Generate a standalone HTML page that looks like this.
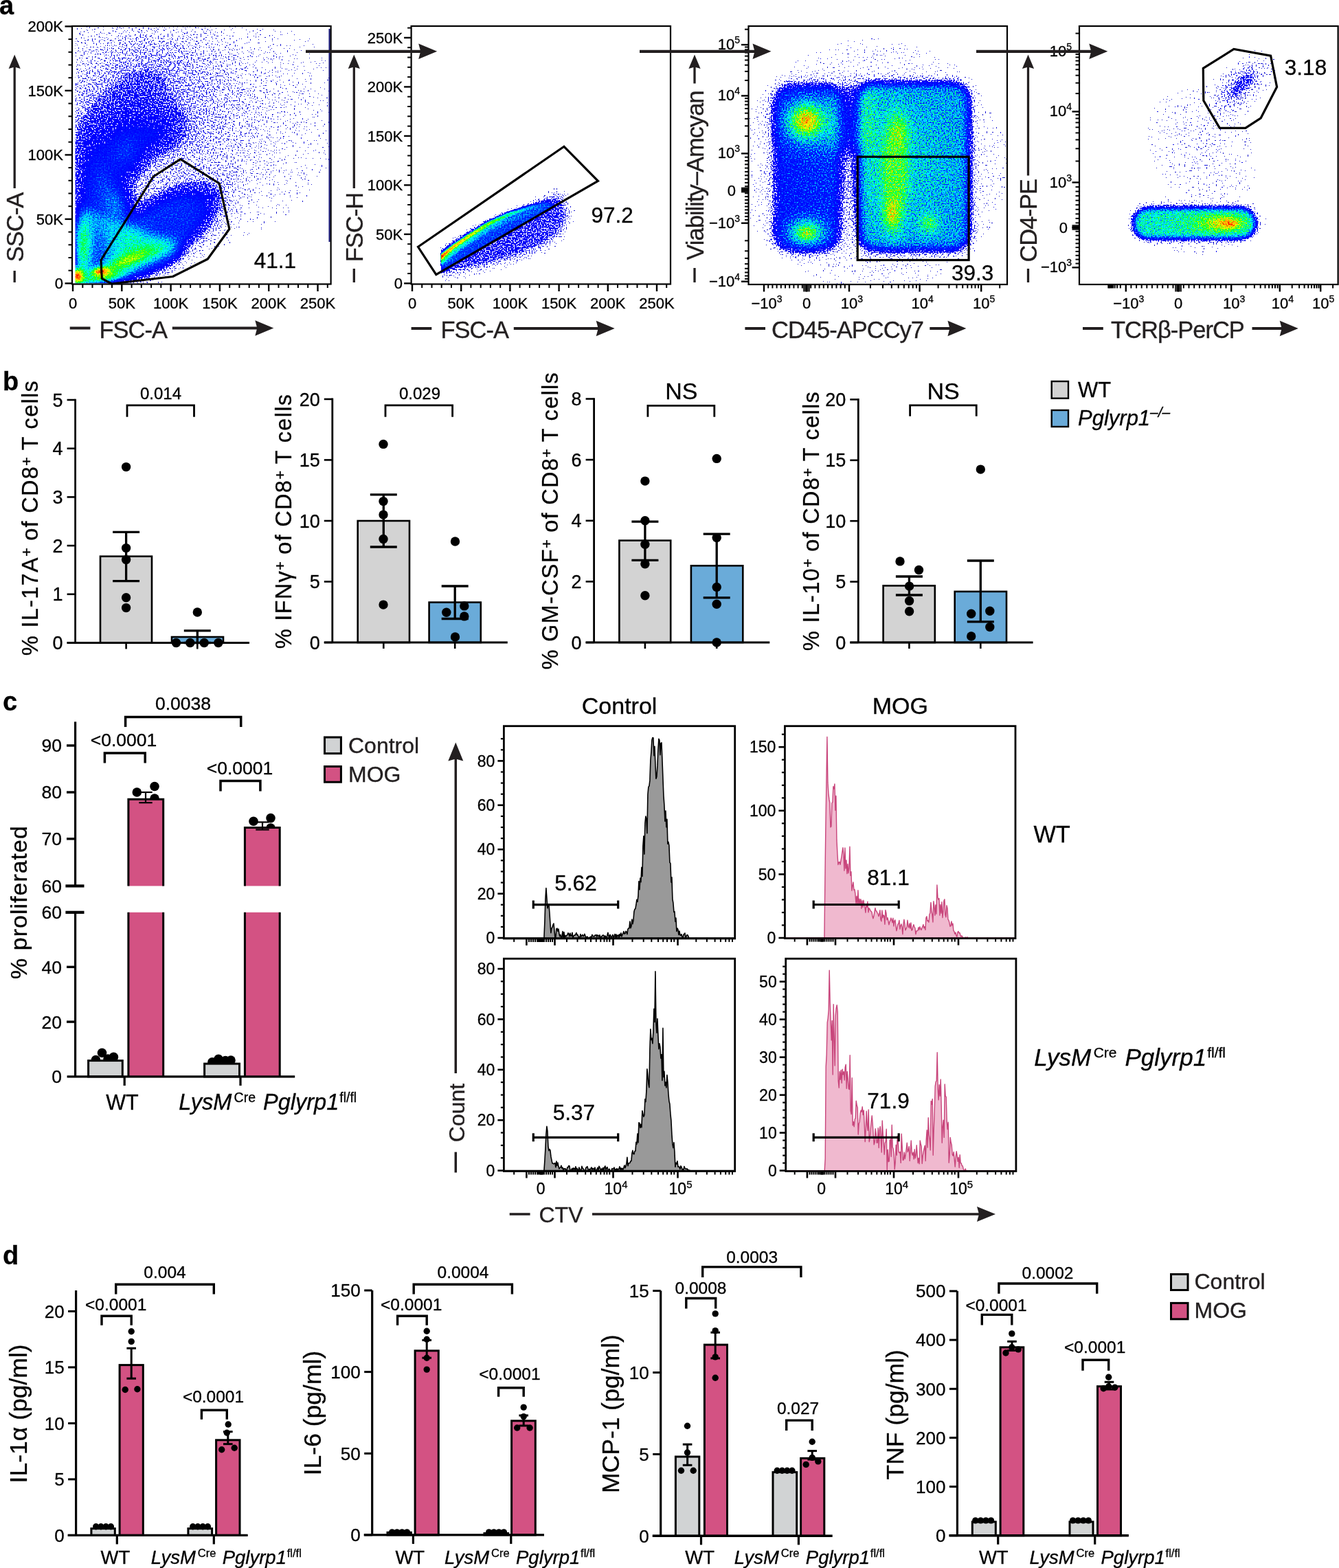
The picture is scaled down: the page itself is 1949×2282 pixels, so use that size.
<!DOCTYPE html>
<html><head><meta charset="utf-8"><title>Figure</title>
<style>
html,body{margin:0;padding:0;background:#fff;}
body{width:1949px;height:2282px;overflow:hidden;}
svg{display:block;font-family:'Liberation Sans', Arial, Helvetica, sans-serif;}
text{stroke:#1a1a1a;stroke-width:0.35px;paint-order:stroke;}
</style></head><body>
<svg width="1949" height="2282" viewBox="0 0 1949 2282">
<defs><radialGradient id="gg"><stop offset="0.00" stop-opacity="1.000"/><stop offset="0.10" stop-opacity="0.956"/><stop offset="0.20" stop-opacity="0.835"/><stop offset="0.30" stop-opacity="0.667"/><stop offset="0.40" stop-opacity="0.487"/><stop offset="0.50" stop-opacity="0.325"/><stop offset="0.60" stop-opacity="0.198"/><stop offset="0.70" stop-opacity="0.110"/><stop offset="0.80" stop-opacity="0.056"/><stop offset="0.90" stop-opacity="0.026"/><stop offset="1.00" stop-opacity="0.000"/></radialGradient>
<radialGradient id="gf"><stop offset="0.00" stop-opacity="1.000"/><stop offset="0.10" stop-opacity="1.000"/><stop offset="0.20" stop-opacity="1.000"/><stop offset="0.30" stop-opacity="1.000"/><stop offset="0.40" stop-opacity="0.912"/><stop offset="0.50" stop-opacity="0.693"/><stop offset="0.60" stop-opacity="0.438"/><stop offset="0.70" stop-opacity="0.230"/><stop offset="0.80" stop-opacity="0.101"/><stop offset="0.90" stop-opacity="0.037"/><stop offset="1.00" stop-opacity="0.000"/></radialGradient>
<filter id="d1" x="109.5" y="39.3" width="370.8" height="372.9" filterUnits="userSpaceOnUse" color-interpolation-filters="sRGB">
<feTurbulence type="fractalNoise" baseFrequency="0.5" numOctaves="1" seed="3" result="tn"/>
<feColorMatrix in="tn" type="matrix" values="0 0 0 0 0  0 0 0 0 0  0 0 0 0 0  1 0 0 0 0" result="nA"/>
<feComponentTransfer in="nA" result="nU"><feFuncA type="linear" slope="2.2" intercept="-0.6"/></feComponentTransfer>
<feComposite in="SourceAlpha" in2="nU" operator="arithmetic" k1="0" k2="3.4" k3="-1" k4="0" result="m0"/>
<feComponentTransfer in="m0" result="mask"><feFuncA type="discrete" tableValues="0 1 1 1 1 1 1 1 1 1 1 1 1 1 1 1 1 1 1 1 1 1 1 1 1 1 1 1 1 1 1 1 1 1 1 1 1 1 1 1"/></feComponentTransfer>
<feColorMatrix in="tn" type="matrix" values="0 0 0 0 0  0 0 0 0 0  0 0 0 0 0  0 1 0 0 0" result="nB"/>
<feComposite in="SourceAlpha" in2="nB" operator="arithmetic" k1="0" k2="1" k3="0.36" k4="-0.18" result="dj"/>
<feColorMatrix in="dj" type="matrix" values="0 0 0 1 0  0 0 0 1 0  0 0 0 1 0  0 0 0 0 1" result="dg"/>
<feComponentTransfer in="dg" result="col">
<feFuncR type="table" tableValues="0.1 0.08 0.05 0.02 0 0 0 0 0 0 0 0 0 0 0.3 0.7 1 1 1 1 1"/>
<feFuncG type="table" tableValues="0.1 0.08 0.05 0.02 0 0 0.03 0.08 0.18 0.42 0.75 1 1 1 1 1 1 0.75 0.5 0.25 0"/>
<feFuncB type="table" tableValues="0.8 0.85 0.9 0.95 1 1 1 1 1 1 1 1 0.6 0.2 0 0 0 0 0 0 0"/>
</feComponentTransfer>
<feComposite in="col" in2="mask" operator="in"/>
</filter>
<clipPath id="cd1"><rect x="109.5" y="39.3" width="370.8" height="372.9"/></clipPath>
<filter id="bl8" x="-50%" y="-50%" width="200%" height="200%"><feGaussianBlur stdDeviation="8"/></filter>
<filter id="d2" x="601" y="39.3" width="373.70000000000005" height="372.9" filterUnits="userSpaceOnUse" color-interpolation-filters="sRGB">
<feTurbulence type="fractalNoise" baseFrequency="0.5" numOctaves="1" seed="5" result="tn"/>
<feColorMatrix in="tn" type="matrix" values="0 0 0 0 0  0 0 0 0 0  0 0 0 0 0  1 0 0 0 0" result="nA"/>
<feComponentTransfer in="nA" result="nU"><feFuncA type="linear" slope="2.2" intercept="-0.6"/></feComponentTransfer>
<feComposite in="SourceAlpha" in2="nU" operator="arithmetic" k1="0" k2="3.4" k3="-1" k4="0" result="m0"/>
<feComponentTransfer in="m0" result="mask"><feFuncA type="discrete" tableValues="0 1 1 1 1 1 1 1 1 1 1 1 1 1 1 1 1 1 1 1 1 1 1 1 1 1 1 1 1 1 1 1 1 1 1 1 1 1 1 1"/></feComponentTransfer>
<feColorMatrix in="tn" type="matrix" values="0 0 0 0 0  0 0 0 0 0  0 0 0 0 0  0 1 0 0 0" result="nB"/>
<feComposite in="SourceAlpha" in2="nB" operator="arithmetic" k1="0" k2="1" k3="0.36" k4="-0.18" result="dj"/>
<feColorMatrix in="dj" type="matrix" values="0 0 0 1 0  0 0 0 1 0  0 0 0 1 0  0 0 0 0 1" result="dg"/>
<feComponentTransfer in="dg" result="col">
<feFuncR type="table" tableValues="0.1 0.08 0.05 0.02 0 0 0 0 0 0 0 0 0 0 0.3 0.7 1 1 1 1 1"/>
<feFuncG type="table" tableValues="0.1 0.08 0.05 0.02 0 0 0.03 0.08 0.18 0.42 0.75 1 1 1 1 1 1 0.75 0.5 0.25 0"/>
<feFuncB type="table" tableValues="0.8 0.85 0.9 0.95 1 1 1 1 1 1 1 1 0.6 0.2 0 0 0 0 0 0 0"/>
</feComponentTransfer>
<feComposite in="col" in2="mask" operator="in"/>
</filter>
<clipPath id="cd2"><rect x="601" y="39.3" width="373.70000000000005" height="372.9"/></clipPath>
<clipPath id="cl2"><rect x="641.5" y="39" width="340" height="380"/></clipPath>
<linearGradient id="rg2" gradientUnits="userSpaceOnUse" x1="642" y1="0" x2="800" y2="0"><stop offset="0" stop-opacity="0.95"/><stop offset="0.05" stop-opacity="0.7"/><stop offset="0.25" stop-opacity="0.58"/><stop offset="0.5" stop-opacity="0.42"/><stop offset="0.75" stop-opacity="0.22"/><stop offset="1" stop-opacity="0"/></linearGradient>
<filter id="bl6" x="-50%" y="-50%" width="200%" height="200%"><feGaussianBlur stdDeviation="6"/></filter>
<filter id="bl1_5" x="-50%" y="-50%" width="200%" height="200%"><feGaussianBlur stdDeviation="1.5"/></filter>
<filter id="bl2_5" x="-50%" y="-50%" width="200%" height="200%"><feGaussianBlur stdDeviation="2.5"/></filter>
<filter id="bl1_2" x="-50%" y="-50%" width="200%" height="200%"><feGaussianBlur stdDeviation="1.2"/></filter>
<filter id="d3" x="1091" y="39.3" width="373.70000000000005" height="373.4" filterUnits="userSpaceOnUse" color-interpolation-filters="sRGB">
<feTurbulence type="fractalNoise" baseFrequency="0.5" numOctaves="1" seed="9" result="tn"/>
<feColorMatrix in="tn" type="matrix" values="0 0 0 0 0  0 0 0 0 0  0 0 0 0 0  1 0 0 0 0" result="nA"/>
<feComponentTransfer in="nA" result="nU"><feFuncA type="linear" slope="2.2" intercept="-0.6"/></feComponentTransfer>
<feComposite in="SourceAlpha" in2="nU" operator="arithmetic" k1="0" k2="3.4" k3="-1" k4="0" result="m0"/>
<feComponentTransfer in="m0" result="mask"><feFuncA type="discrete" tableValues="0 1 1 1 1 1 1 1 1 1 1 1 1 1 1 1 1 1 1 1 1 1 1 1 1 1 1 1 1 1 1 1 1 1 1 1 1 1 1 1"/></feComponentTransfer>
<feColorMatrix in="tn" type="matrix" values="0 0 0 0 0  0 0 0 0 0  0 0 0 0 0  0 1 0 0 0" result="nB"/>
<feComposite in="SourceAlpha" in2="nB" operator="arithmetic" k1="0" k2="1" k3="0.66" k4="-0.33" result="dj"/>
<feColorMatrix in="dj" type="matrix" values="0 0 0 1 0  0 0 0 1 0  0 0 0 1 0  0 0 0 0 1" result="dg"/>
<feComponentTransfer in="dg" result="col">
<feFuncR type="table" tableValues="0.1 0.08 0.05 0.02 0 0 0 0 0 0 0 0 0 0 0.3 0.7 1 1 1 1 1"/>
<feFuncG type="table" tableValues="0.1 0.08 0.05 0.02 0 0 0.03 0.08 0.18 0.42 0.75 1 1 1 1 1 1 0.75 0.5 0.25 0"/>
<feFuncB type="table" tableValues="0.8 0.85 0.9 0.95 1 1 1 1 1 1 1 1 0.6 0.2 0 0 0 0 0 0 0"/>
</feComponentTransfer>
<feComposite in="col" in2="mask" operator="in"/>
</filter>
<clipPath id="cd3"><rect x="1091" y="39.3" width="373.70000000000005" height="373.4"/></clipPath>
<filter id="bl10" x="-50%" y="-50%" width="200%" height="200%"><feGaussianBlur stdDeviation="10"/></filter>
<filter id="bl7" x="-50%" y="-50%" width="200%" height="200%"><feGaussianBlur stdDeviation="7"/></filter>
<filter id="d4" x="1572.5" y="39.3" width="373.79999999999995" height="373.4" filterUnits="userSpaceOnUse" color-interpolation-filters="sRGB">
<feTurbulence type="fractalNoise" baseFrequency="0.5" numOctaves="1" seed="13" result="tn"/>
<feColorMatrix in="tn" type="matrix" values="0 0 0 0 0  0 0 0 0 0  0 0 0 0 0  1 0 0 0 0" result="nA"/>
<feComponentTransfer in="nA" result="nU"><feFuncA type="linear" slope="2.2" intercept="-0.6"/></feComponentTransfer>
<feComposite in="SourceAlpha" in2="nU" operator="arithmetic" k1="0" k2="3.4" k3="-1" k4="0" result="m0"/>
<feComponentTransfer in="m0" result="mask"><feFuncA type="discrete" tableValues="0 1 1 1 1 1 1 1 1 1 1 1 1 1 1 1 1 1 1 1 1 1 1 1 1 1 1 1 1 1 1 1 1 1 1 1 1 1 1 1"/></feComponentTransfer>
<feColorMatrix in="tn" type="matrix" values="0 0 0 0 0  0 0 0 0 0  0 0 0 0 0  0 1 0 0 0" result="nB"/>
<feComposite in="SourceAlpha" in2="nB" operator="arithmetic" k1="0" k2="1" k3="0.6000000000000001" k4="-0.30000000000000004" result="dj"/>
<feColorMatrix in="dj" type="matrix" values="0 0 0 1 0  0 0 0 1 0  0 0 0 1 0  0 0 0 0 1" result="dg"/>
<feComponentTransfer in="dg" result="col">
<feFuncR type="table" tableValues="0.1 0.08 0.05 0.02 0 0 0 0 0 0 0 0 0 0 0.3 0.7 1 1 1 1 1"/>
<feFuncG type="table" tableValues="0.1 0.08 0.05 0.02 0 0 0.03 0.08 0.18 0.42 0.75 1 1 1 1 1 1 0.75 0.5 0.25 0"/>
<feFuncB type="table" tableValues="0.8 0.85 0.9 0.95 1 1 1 1 1 1 1 1 0.6 0.2 0 0 0 0 0 0 0"/>
</feComponentTransfer>
<feComposite in="col" in2="mask" operator="in"/>
</filter>
<clipPath id="cd4"><rect x="1572.5" y="39.3" width="373.79999999999995" height="373.4"/></clipPath>
<filter id="bl4" x="-50%" y="-50%" width="200%" height="200%"><feGaussianBlur stdDeviation="4"/></filter></defs>
<rect width="1949" height="2282" fill="#fff"/>
<!-- panel b -->
<text x="4" y="567.5" font-size="38" text-anchor="start" font-weight="bold">b</text>
<rect x="146" y="809.7" width="75" height="125.8" fill="#d3d3d3" stroke="#000" stroke-width="2.6"/>
<rect x="250" y="927" width="75" height="8.5" fill="#6aabd9" stroke="#000" stroke-width="2.6"/>
<circle cx="183.6" cy="679.6" r="6.7" fill="#000"/>
<circle cx="183.6" cy="797.6" r="6.7" fill="#000"/>
<circle cx="183.6" cy="814.6" r="6.7" fill="#000"/>
<circle cx="183.6" cy="869.7" r="6.7" fill="#000"/>
<circle cx="183.6" cy="884.6" r="6.7" fill="#000"/>
<circle cx="287.3" cy="891" r="6.7" fill="#000"/>
<circle cx="256.5" cy="935.5" r="6.7" fill="#000"/>
<circle cx="276.8" cy="935.5" r="6.7" fill="#000"/>
<circle cx="297.2" cy="935.5" r="6.7" fill="#000"/>
<circle cx="317.8" cy="935.5" r="6.7" fill="#000"/>
<line x1="183.6" y1="845.7" x2="183.6" y2="774.3" stroke="#000" stroke-width="3.3" stroke-linecap="butt"/>
<line x1="164.1" y1="845.7" x2="203.1" y2="845.7" stroke="#000" stroke-width="3.3" stroke-linecap="butt"/>
<line x1="164.1" y1="774.3" x2="203.1" y2="774.3" stroke="#000" stroke-width="3.3" stroke-linecap="butt"/>
<line x1="287.3" y1="935.5" x2="287.3" y2="917.8" stroke="#000" stroke-width="3.3" stroke-linecap="butt"/>
<line x1="267.8" y1="935.5" x2="306.8" y2="935.5" stroke="#000" stroke-width="3.3" stroke-linecap="butt"/>
<line x1="267.8" y1="917.8" x2="306.8" y2="917.8" stroke="#000" stroke-width="3.3" stroke-linecap="butt"/>
<line x1="109.6" y1="580.7" x2="109.6" y2="935.5" stroke="#000" stroke-width="2.8" stroke-linecap="butt"/>
<line x1="97.6" y1="935.5" x2="363" y2="935.5" stroke="#000" stroke-width="2.8" stroke-linecap="butt"/>
<line x1="97.6" y1="935.5" x2="109.6" y2="935.5" stroke="#000" stroke-width="2.6" stroke-linecap="butt"/>
<text x="91.6" y="945.1" font-size="27" text-anchor="end">0</text>
<line x1="97.6" y1="864.8" x2="109.6" y2="864.8" stroke="#000" stroke-width="2.6" stroke-linecap="butt"/>
<text x="91.6" y="874.4" font-size="27" text-anchor="end">1</text>
<line x1="97.6" y1="794.1" x2="109.6" y2="794.1" stroke="#000" stroke-width="2.6" stroke-linecap="butt"/>
<text x="91.6" y="803.7" font-size="27" text-anchor="end">2</text>
<line x1="97.6" y1="723.4" x2="109.6" y2="723.4" stroke="#000" stroke-width="2.6" stroke-linecap="butt"/>
<text x="91.6" y="733" font-size="27" text-anchor="end">3</text>
<line x1="97.6" y1="652.7" x2="109.6" y2="652.7" stroke="#000" stroke-width="2.6" stroke-linecap="butt"/>
<text x="91.6" y="662.3" font-size="27" text-anchor="end">4</text>
<line x1="97.6" y1="582" x2="109.6" y2="582" stroke="#000" stroke-width="2.6" stroke-linecap="butt"/>
<text x="91.6" y="591.6" font-size="27" text-anchor="end">5</text>
<line x1="183.6" y1="935.5" x2="183.6" y2="944.5" stroke="#000" stroke-width="2.6" stroke-linecap="butt"/>
<line x1="287.3" y1="935.5" x2="287.3" y2="944.5" stroke="#000" stroke-width="2.6" stroke-linecap="butt"/>
<path d="M185 606.8V589.8H282.5V606.8" stroke="#000" stroke-width="2.8" fill="none" stroke-linejoin="miter"/>
<text x="234" y="580.5" font-size="24" text-anchor="middle">0.014</text>
<text transform="translate(55,753.5) rotate(-90)" font-size="32.5" letter-spacing="1.3" text-anchor="middle">% IL-17A<tspan dy="-9" font-size="22" letter-spacing="0">+</tspan><tspan dy="9"> of CD8<tspan dy="-9" font-size="22" letter-spacing="0">+</tspan><tspan dy="9"> T cells</tspan></tspan></text>
<rect x="520.7" y="758" width="75.3" height="177" fill="#d3d3d3" stroke="#000" stroke-width="2.6"/>
<rect x="624.6" y="876.6" width="75.2" height="58.4" fill="#6aabd9" stroke="#000" stroke-width="2.6"/>
<circle cx="558" cy="646.4" r="6.7" fill="#000"/>
<circle cx="558" cy="729.6" r="6.7" fill="#000"/>
<circle cx="558" cy="749.1" r="6.7" fill="#000"/>
<circle cx="558" cy="784.5" r="6.7" fill="#000"/>
<circle cx="558" cy="880.1" r="6.7" fill="#000"/>
<circle cx="662.5" cy="788" r="6.7" fill="#000"/>
<circle cx="675.8" cy="881.9" r="6.7" fill="#000"/>
<circle cx="649.8" cy="891.3" r="6.7" fill="#000"/>
<circle cx="675.8" cy="896.9" r="6.7" fill="#000"/>
<circle cx="662.5" cy="927" r="6.7" fill="#000"/>
<line x1="558.3" y1="796" x2="558.3" y2="719.9" stroke="#000" stroke-width="3.3" stroke-linecap="butt"/>
<line x1="538.8" y1="796" x2="577.8" y2="796" stroke="#000" stroke-width="3.3" stroke-linecap="butt"/>
<line x1="538.8" y1="719.9" x2="577.8" y2="719.9" stroke="#000" stroke-width="3.3" stroke-linecap="butt"/>
<line x1="662.2" y1="900.5" x2="662.2" y2="853" stroke="#000" stroke-width="3.3" stroke-linecap="butt"/>
<line x1="642.7" y1="900.5" x2="681.7" y2="900.5" stroke="#000" stroke-width="3.3" stroke-linecap="butt"/>
<line x1="642.7" y1="853" x2="681.7" y2="853" stroke="#000" stroke-width="3.3" stroke-linecap="butt"/>
<line x1="483.8" y1="579.6" x2="483.8" y2="935" stroke="#000" stroke-width="2.8" stroke-linecap="butt"/>
<line x1="471.8" y1="935" x2="738.8" y2="935" stroke="#000" stroke-width="2.8" stroke-linecap="butt"/>
<line x1="471.8" y1="935" x2="483.8" y2="935" stroke="#000" stroke-width="2.6" stroke-linecap="butt"/>
<text x="465.8" y="944.6" font-size="27" text-anchor="end">0</text>
<line x1="471.8" y1="846.5" x2="483.8" y2="846.5" stroke="#000" stroke-width="2.6" stroke-linecap="butt"/>
<text x="465.8" y="856.1" font-size="27" text-anchor="end">5</text>
<line x1="471.8" y1="758" x2="483.8" y2="758" stroke="#000" stroke-width="2.6" stroke-linecap="butt"/>
<text x="465.8" y="767.6" font-size="27" text-anchor="end">10</text>
<line x1="471.8" y1="669.4" x2="483.8" y2="669.4" stroke="#000" stroke-width="2.6" stroke-linecap="butt"/>
<text x="465.8" y="679" font-size="27" text-anchor="end">15</text>
<line x1="471.8" y1="580.9" x2="483.8" y2="580.9" stroke="#000" stroke-width="2.6" stroke-linecap="butt"/>
<text x="465.8" y="590.5" font-size="27" text-anchor="end">20</text>
<line x1="558.3" y1="935" x2="558.3" y2="944" stroke="#000" stroke-width="2.6" stroke-linecap="butt"/>
<line x1="662.2" y1="935" x2="662.2" y2="944" stroke="#000" stroke-width="2.6" stroke-linecap="butt"/>
<path d="M561 606.8V589.8H658.6V606.8" stroke="#000" stroke-width="2.8" fill="none" stroke-linejoin="miter"/>
<text x="611" y="580.5" font-size="24" text-anchor="middle">0.029</text>
<text transform="translate(424,758.5) rotate(-90)" font-size="32.5" letter-spacing="1.3" text-anchor="middle">% IFN&#947;<tspan dy="-9" font-size="22" letter-spacing="0">+</tspan><tspan dy="9"> of CD8<tspan dy="-9" font-size="22" letter-spacing="0">+</tspan><tspan dy="9"> T cells</tspan></tspan></text>
<rect x="901.4" y="786.6" width="74.8" height="148.4" fill="#d3d3d3" stroke="#000" stroke-width="2.6"/>
<rect x="1005.9" y="823.3" width="75.4" height="111.7" fill="#6aabd9" stroke="#000" stroke-width="2.6"/>
<circle cx="938.9" cy="700.1" r="6.7" fill="#000"/>
<circle cx="938.9" cy="757.8" r="6.7" fill="#000"/>
<circle cx="938.9" cy="792.3" r="6.7" fill="#000"/>
<circle cx="938.9" cy="820.7" r="6.7" fill="#000"/>
<circle cx="938.9" cy="866.8" r="6.7" fill="#000"/>
<circle cx="1043.2" cy="667.4" r="6.7" fill="#000"/>
<circle cx="1043.2" cy="782.6" r="6.7" fill="#000"/>
<circle cx="1043.2" cy="854.4" r="6.7" fill="#000"/>
<circle cx="1043.2" cy="879.2" r="6.7" fill="#000"/>
<circle cx="1043.2" cy="935" r="6.7" fill="#000"/>
<line x1="938.9" y1="815.4" x2="938.9" y2="759.1" stroke="#000" stroke-width="3.3" stroke-linecap="butt"/>
<line x1="919.4" y1="815.4" x2="958.4" y2="815.4" stroke="#000" stroke-width="3.3" stroke-linecap="butt"/>
<line x1="919.4" y1="759.1" x2="958.4" y2="759.1" stroke="#000" stroke-width="3.3" stroke-linecap="butt"/>
<line x1="1043.2" y1="869.9" x2="1043.2" y2="777.2" stroke="#000" stroke-width="3.3" stroke-linecap="butt"/>
<line x1="1023.7" y1="869.9" x2="1062.7" y2="869.9" stroke="#000" stroke-width="3.3" stroke-linecap="butt"/>
<line x1="1023.7" y1="777.2" x2="1062.7" y2="777.2" stroke="#000" stroke-width="3.3" stroke-linecap="butt"/>
<line x1="864.6" y1="579.2" x2="864.6" y2="935" stroke="#000" stroke-width="2.8" stroke-linecap="butt"/>
<line x1="852.6" y1="935" x2="1120.3" y2="935" stroke="#000" stroke-width="2.8" stroke-linecap="butt"/>
<line x1="852.6" y1="935" x2="864.6" y2="935" stroke="#000" stroke-width="2.6" stroke-linecap="butt"/>
<text x="846.6" y="944.6" font-size="27" text-anchor="end">0</text>
<line x1="852.6" y1="846.4" x2="864.6" y2="846.4" stroke="#000" stroke-width="2.6" stroke-linecap="butt"/>
<text x="846.6" y="856" font-size="27" text-anchor="end">2</text>
<line x1="852.6" y1="757.8" x2="864.6" y2="757.8" stroke="#000" stroke-width="2.6" stroke-linecap="butt"/>
<text x="846.6" y="767.4" font-size="27" text-anchor="end">4</text>
<line x1="852.6" y1="669.1" x2="864.6" y2="669.1" stroke="#000" stroke-width="2.6" stroke-linecap="butt"/>
<text x="846.6" y="678.7" font-size="27" text-anchor="end">6</text>
<line x1="852.6" y1="580.5" x2="864.6" y2="580.5" stroke="#000" stroke-width="2.6" stroke-linecap="butt"/>
<text x="846.6" y="590.1" font-size="27" text-anchor="end">8</text>
<line x1="938.9" y1="935" x2="938.9" y2="944" stroke="#000" stroke-width="2.6" stroke-linecap="butt"/>
<line x1="1043.2" y1="935" x2="1043.2" y2="944" stroke="#000" stroke-width="2.6" stroke-linecap="butt"/>
<path d="M942.9 606.8V590.4H1039.8V606.8" stroke="#000" stroke-width="2.8" fill="none" stroke-linejoin="miter"/>
<text x="991.8" y="581.4" font-size="34" text-anchor="middle">NS</text>
<text transform="translate(812,757.7) rotate(-90)" font-size="32.5" letter-spacing="1.3" text-anchor="middle">% GM-CSF<tspan dy="-9" font-size="22" letter-spacing="0">+</tspan><tspan dy="9"> of CD8<tspan dy="-9" font-size="22" letter-spacing="0">+</tspan><tspan dy="9"> T cells</tspan></tspan></text>
<rect x="1285.6" y="852.4" width="75.2" height="82.6" fill="#d3d3d3" stroke="#000" stroke-width="2.6"/>
<rect x="1389.7" y="860.9" width="75.3" height="74.1" fill="#6aabd9" stroke="#000" stroke-width="2.6"/>
<circle cx="1310" cy="816.9" r="6.7" fill="#000"/>
<circle cx="1337.5" cy="829.5" r="6.7" fill="#000"/>
<circle cx="1323.6" cy="853.1" r="6.7" fill="#000"/>
<circle cx="1323.6" cy="874.5" r="6.7" fill="#000"/>
<circle cx="1323.6" cy="889.7" r="6.7" fill="#000"/>
<circle cx="1427.3" cy="683.1" r="6.7" fill="#000"/>
<circle cx="1413.7" cy="893.3" r="6.7" fill="#000"/>
<circle cx="1440.8" cy="889.2" r="6.7" fill="#000"/>
<circle cx="1440.8" cy="912.5" r="6.7" fill="#000"/>
<circle cx="1413.7" cy="926" r="6.7" fill="#000"/>
<line x1="1323.4" y1="866" x2="1323.4" y2="839" stroke="#000" stroke-width="3.3" stroke-linecap="butt"/>
<line x1="1303.9" y1="866" x2="1342.9" y2="866" stroke="#000" stroke-width="3.3" stroke-linecap="butt"/>
<line x1="1303.9" y1="839" x2="1342.9" y2="839" stroke="#000" stroke-width="3.3" stroke-linecap="butt"/>
<line x1="1427.3" y1="904.9" x2="1427.3" y2="816" stroke="#000" stroke-width="3.3" stroke-linecap="butt"/>
<line x1="1407.8" y1="904.9" x2="1446.8" y2="904.9" stroke="#000" stroke-width="3.3" stroke-linecap="butt"/>
<line x1="1407.8" y1="816" x2="1446.8" y2="816" stroke="#000" stroke-width="3.3" stroke-linecap="butt"/>
<line x1="1249.3" y1="580.1" x2="1249.3" y2="935" stroke="#000" stroke-width="2.8" stroke-linecap="butt"/>
<line x1="1237.3" y1="935" x2="1503.6" y2="935" stroke="#000" stroke-width="2.8" stroke-linecap="butt"/>
<line x1="1237.3" y1="935" x2="1249.3" y2="935" stroke="#000" stroke-width="2.6" stroke-linecap="butt"/>
<text x="1231.3" y="944.6" font-size="27" text-anchor="end">0</text>
<line x1="1237.3" y1="846.6" x2="1249.3" y2="846.6" stroke="#000" stroke-width="2.6" stroke-linecap="butt"/>
<text x="1231.3" y="856.2" font-size="27" text-anchor="end">5</text>
<line x1="1237.3" y1="758.2" x2="1249.3" y2="758.2" stroke="#000" stroke-width="2.6" stroke-linecap="butt"/>
<text x="1231.3" y="767.8" font-size="27" text-anchor="end">10</text>
<line x1="1237.3" y1="669.8" x2="1249.3" y2="669.8" stroke="#000" stroke-width="2.6" stroke-linecap="butt"/>
<text x="1231.3" y="679.4" font-size="27" text-anchor="end">15</text>
<line x1="1237.3" y1="581.4" x2="1249.3" y2="581.4" stroke="#000" stroke-width="2.6" stroke-linecap="butt"/>
<text x="1231.3" y="591" font-size="27" text-anchor="end">20</text>
<line x1="1323.4" y1="935" x2="1323.4" y2="944" stroke="#000" stroke-width="2.6" stroke-linecap="butt"/>
<line x1="1427.3" y1="935" x2="1427.3" y2="944" stroke="#000" stroke-width="2.6" stroke-linecap="butt"/>
<path d="M1324.6 605.8V589.8H1421.2V605.8" stroke="#000" stroke-width="2.8" fill="none" stroke-linejoin="miter"/>
<text x="1373" y="580.7" font-size="34" text-anchor="middle">NS</text>
<text transform="translate(1192,758) rotate(-90)" font-size="32.5" letter-spacing="1.3" text-anchor="middle">% IL-10<tspan dy="-9" font-size="22" letter-spacing="0">+</tspan><tspan dy="9"> of CD8<tspan dy="-9" font-size="22" letter-spacing="0">+</tspan><tspan dy="9"> T cells</tspan></tspan></text>
<rect x="1530.7" y="555" width="24.3" height="24.7" fill="#d3d3d3" stroke="#000" stroke-width="2.4"/>
<rect x="1530.7" y="597" width="24.3" height="24" fill="#6aabd9" stroke="#000" stroke-width="2.4"/>
<text x="1569" y="578" font-size="31" text-anchor="start">WT</text>
<text x="1569" y="618.6" font-size="31" text-anchor="start" font-style="italic">Pglyrp1<tspan dy="-12" font-size="21">&#8211;/&#8211;</tspan></text>
<!-- panel c -->
<text x="4" y="1034" font-size="38" text-anchor="start" font-weight="bold">c</text>
<circle cx="148.5" cy="1532.3" r="6.8" fill="#000"/>
<circle cx="165.4" cy="1538.4" r="6.8" fill="#000"/>
<circle cx="139.4" cy="1542.5" r="6.8" fill="#000"/>
<circle cx="157" cy="1541" r="6.8" fill="#000"/>
<circle cx="318" cy="1541.4" r="6.8" fill="#000"/>
<circle cx="328.1" cy="1543.6" r="6.8" fill="#000"/>
<circle cx="336" cy="1543" r="6.8" fill="#000"/>
<circle cx="308.9" cy="1545.9" r="6.8" fill="#000"/>
<circle cx="199.3" cy="1153" r="6.8" fill="#000"/>
<circle cx="225" cy="1144.5" r="6.8" fill="#000"/>
<circle cx="225" cy="1162" r="6.8" fill="#000"/>
<circle cx="369" cy="1195.3" r="6.8" fill="#000"/>
<circle cx="394" cy="1190.6" r="6.8" fill="#000"/>
<circle cx="394" cy="1205" r="6.8" fill="#000"/>
<rect x="128.6" y="1543.6" width="49.7" height="23.3" fill="#d1d3d4" stroke="#000" stroke-width="3"/>
<rect x="297.6" y="1548.1" width="50.9" height="18.8" fill="#d1d3d4" stroke="#000" stroke-width="3"/>
<rect x="186.9" y="1163.2" width="50.8" height="126.2" fill="#d35283"/>
<rect x="186.9" y="1327.8" width="50.8" height="239.1" fill="#d35283"/>
<path d="M186.9 1289.4V1163.2H237.7V1289.4" stroke="#000" stroke-width="3" fill="none" stroke-linejoin="miter"/>
<path d="M186.9 1327.8V1566.9M237.7 1327.8V1566.9" stroke="#000" stroke-width="3" fill="none" stroke-linejoin="miter"/>
<rect x="356.4" y="1204.4" width="50.8" height="85" fill="#d35283"/>
<rect x="356.4" y="1327.8" width="50.8" height="239.1" fill="#d35283"/>
<path d="M356.4 1289.4V1204.4H407.2V1289.4" stroke="#000" stroke-width="3" fill="none" stroke-linejoin="miter"/>
<path d="M356.4 1327.8V1566.9M407.2 1327.8V1566.9" stroke="#000" stroke-width="3" fill="none" stroke-linejoin="miter"/>
<line x1="212" y1="1168.2" x2="212" y2="1153" stroke="#000" stroke-width="2.2" stroke-linecap="butt"/>
<line x1="202.3" y1="1168.2" x2="221.7" y2="1168.2" stroke="#000" stroke-width="2.2" stroke-linecap="butt"/>
<line x1="202.3" y1="1153" x2="221.7" y2="1153" stroke="#000" stroke-width="2.2" stroke-linecap="butt"/>
<line x1="382" y1="1207.5" x2="382" y2="1196.5" stroke="#000" stroke-width="2.2" stroke-linecap="butt"/>
<line x1="372.3" y1="1207.5" x2="391.7" y2="1207.5" stroke="#000" stroke-width="2.2" stroke-linecap="butt"/>
<line x1="372.3" y1="1196.5" x2="391.7" y2="1196.5" stroke="#000" stroke-width="2.2" stroke-linecap="butt"/>
<line x1="109.6" y1="1050.4" x2="109.6" y2="1289.4" stroke="#000" stroke-width="3.2" stroke-linecap="butt"/>
<line x1="109.6" y1="1327.8" x2="109.6" y2="1566.9" stroke="#000" stroke-width="3.2" stroke-linecap="butt"/>
<line x1="97.6" y1="1566.9" x2="429.2" y2="1566.9" stroke="#000" stroke-width="3.4" stroke-linecap="butt"/>
<line x1="95.4" y1="1289.4" x2="122.5" y2="1289.4" stroke="#000" stroke-width="4.2" stroke-linecap="butt"/>
<line x1="95.4" y1="1327.8" x2="122.5" y2="1327.8" stroke="#000" stroke-width="4.2" stroke-linecap="butt"/>
<line x1="97" y1="1085" x2="109.6" y2="1085" stroke="#000" stroke-width="3.4" stroke-linecap="butt"/>
<line x1="97" y1="1153" x2="109.6" y2="1153" stroke="#000" stroke-width="3.4" stroke-linecap="butt"/>
<line x1="97" y1="1220.8" x2="109.6" y2="1220.8" stroke="#000" stroke-width="3.4" stroke-linecap="butt"/>
<line x1="97" y1="1407.3" x2="109.6" y2="1407.3" stroke="#000" stroke-width="3.4" stroke-linecap="butt"/>
<line x1="97" y1="1487.1" x2="109.6" y2="1487.1" stroke="#000" stroke-width="3.4" stroke-linecap="butt"/>
<text x="90" y="1094.4" font-size="26.5" text-anchor="end">90</text>
<text x="90" y="1162.4" font-size="26.5" text-anchor="end">80</text>
<text x="90" y="1230.2" font-size="26.5" text-anchor="end">70</text>
<text x="90" y="1298.8" font-size="26.5" text-anchor="end">60</text>
<text x="90" y="1337.2" font-size="26.5" text-anchor="end">60</text>
<text x="90" y="1416.7" font-size="26.5" text-anchor="end">40</text>
<text x="90" y="1496.5" font-size="26.5" text-anchor="end">20</text>
<text x="90" y="1576.3" font-size="26.5" text-anchor="end">0</text>
<line x1="181.2" y1="1566.9" x2="181.2" y2="1580" stroke="#000" stroke-width="3.2" stroke-linecap="butt"/>
<line x1="350" y1="1566.9" x2="350" y2="1580" stroke="#000" stroke-width="3.2" stroke-linecap="butt"/>
<path d="M182.6 1058V1043.5H350.7V1058" stroke="#000" stroke-width="3.5" fill="none" stroke-linejoin="miter"/>
<text x="266.5" y="1032.7" font-size="26.5" text-anchor="middle">0.0038</text>
<path d="M152.4 1110.6V1096H211.2V1110.6" stroke="#000" stroke-width="3.5" fill="none" stroke-linejoin="miter"/>
<text x="180" y="1085.8" font-size="26.5" text-anchor="middle">&lt;0.0001</text>
<path d="M321 1151.6V1136.4H378.9V1151.6" stroke="#000" stroke-width="3.5" fill="none" stroke-linejoin="miter"/>
<text x="349" y="1126.7" font-size="26.5" text-anchor="middle">&lt;0.0001</text>
<text transform="translate(39,1313) rotate(-90)" font-size="34" letter-spacing="1" text-anchor="middle">% proliferated</text>
<text x="178" y="1615.3" font-size="30.6" text-anchor="middle">WT</text>
<text x="260.3" y="1615.3" font-size="32.5" text-anchor="start"><tspan font-style="italic">LysM</tspan><tspan dx="3.2" dy="-11.7" font-size="19.5">Cre</tspan><tspan dy="11.7" dx="11.1" font-style="italic">Pglyrp1</tspan><tspan dy="-11.7" dx="1" font-size="19.5">fl/fl</tspan></text>
<rect x="472.5" y="1073" width="23.9" height="23.6" fill="#d1d3d4" stroke="#000" stroke-width="3"/>
<rect x="472.5" y="1115.5" width="23.9" height="22.7" fill="#d35283" stroke="#000" stroke-width="3"/>
<text x="507" y="1096" font-size="32" text-anchor="start" fill="#231f20">Control</text>
<text x="507" y="1137.5" font-size="32" text-anchor="start" fill="#231f20">MOG</text>
<text x="901.6" y="1039" font-size="34" text-anchor="middle">Control</text>
<text x="1310.3" y="1039" font-size="34" text-anchor="middle">MOG</text>
<text x="1504.4" y="1226.3" font-size="34.4" text-anchor="start">WT</text>
<text x="1505.2" y="1551.4" font-size="35" text-anchor="start"><tspan font-style="italic">LysM</tspan><tspan dx="3.5" dy="-12.6" font-size="21.0">Cre</tspan><tspan dy="12.6" dx="11.9" font-style="italic">Pglyrp1</tspan><tspan dy="-12.6" dx="1.1" font-size="21.0">fl/fl</tspan></text>
<line x1="663.3" y1="1095" x2="663.3" y2="1562" stroke="#231f20" stroke-width="3.5" stroke-linecap="butt"/>
<line x1="663.3" y1="1676.6" x2="663.3" y2="1706.5" stroke="#231f20" stroke-width="3.5" stroke-linecap="butt"/>
<path d="M663.3 1080.6L652.3 1107.6L663.3 1104.6L674.3 1107.6Z" fill="#231f20"/>
<text transform="translate(675.5,1619.5) rotate(-90)" font-size="32" text-anchor="middle" fill="#231f20">Count</text>
<line x1="741.7" y1="1767" x2="771.6" y2="1767" stroke="#231f20" stroke-width="3.5" stroke-linecap="butt"/>
<text x="816.5" y="1778.5" font-size="32" text-anchor="middle" fill="#231f20">CTV</text>
<line x1="862" y1="1767" x2="1425" y2="1767" stroke="#231f20" stroke-width="3.5" stroke-linecap="butt"/>
<path d="M1449 1767L1422 1756L1425 1767L1422 1778Z" fill="#231f20"/>
<path d="M734.9 1365L734.9 1365L735.9 1365L736.9 1365L737.9 1365L738.9 1365L739.9 1365L740.9 1365L741.9 1365L742.9 1365L743.9 1365L744.9 1365L745.9 1365L746.9 1365L747.9 1365L748.9 1365L749.9 1365L750.9 1365L751.9 1365L752.9 1365L753.9 1365L754.9 1365L755.9 1365L756.9 1365L757.9 1365L758.9 1365L759.9 1365L760.9 1365L761.9 1365L762.9 1365L763.9 1365L764.9 1365L765.9 1365L766.9 1365L767.9 1365L768.9 1365L769.9 1365L770.9 1365L771.9 1365L772.9 1365L773.9 1365L774.9 1365L775.9 1365L776.9 1365L777.9 1365L778.9 1365L779.9 1365L780.9 1365L781.9 1365L782.9 1365L783.9 1365L784.9 1365L785.9 1365L786.9 1365L787.9 1365L788.9 1365L789.9 1365L790.9 1365L791.9 1365L792.9 1341.2L793.9 1308.6L794.9 1292.5L795.9 1306.9L796.9 1321.8L797.9 1316.2L798.9 1316.2L799.9 1328.2L800.9 1343.7L801.9 1357.7L802.9 1351L803.9 1349.6L804.9 1346.2L805.9 1344L806.9 1353.5L807.9 1364.7L808.9 1363.6L809.9 1351.8L810.9 1351L811.9 1355.2L812.9 1352L813.9 1358.7L814.9 1362.7L815.9 1360.4L816.9 1365L817.9 1363.4L818.9 1355.6L819.9 1365L820.9 1356.5L821.9 1365L822.9 1361.4L823.9 1362.8L824.9 1361.4L825.9 1360.5L826.9 1357.8L827.9 1359.3L828.9 1362.7L829.9 1358.1L830.9 1362.3L831.9 1362.3L832.9 1357.2L833.9 1365L834.9 1362.2L835.9 1361L836.9 1361.2L837.9 1359.8L838.9 1357.6L839.9 1360.8L840.9 1360.3L841.9 1363.3L842.9 1363.8L843.9 1364.3L844.9 1359.6L845.9 1363L846.9 1361.9L847.9 1360.3L848.9 1362.4L849.9 1362.2L850.9 1359.2L851.9 1361.8L852.9 1363.8L853.9 1363.9L854.9 1363.1L855.9 1365L856.9 1364.6L857.9 1365L858.9 1363.8L859.9 1363.3L860.9 1364.2L861.9 1360.3L862.9 1362.2L863.9 1362.8L864.9 1362.9L865.9 1361L866.9 1361.5L867.9 1360.4L868.9 1363.2L869.9 1360.8L870.9 1361.7L871.9 1363.4L872.9 1360.7L873.9 1363.9L874.9 1363.7L875.9 1362.6L876.9 1361.7L877.9 1360.8L878.9 1361.7L879.9 1364.1L880.9 1361.9L881.9 1363.9L882.9 1364.2L883.9 1361.3L884.9 1357.3L885.9 1362.1L886.9 1365L887.9 1360.2L888.9 1362.4L889.9 1365L890.9 1362.7L891.9 1360.4L892.9 1363.7L893.9 1363.1L894.9 1359.5L895.9 1364L896.9 1359.9L897.9 1363.8L898.9 1361.3L899.9 1360.6L900.9 1365L901.9 1359.5L902.9 1362.2L903.9 1357.9L904.9 1362.9L905.9 1360.2L906.9 1358.5L907.9 1355.6L908.9 1359.1L909.9 1358.8L910.9 1355.2L911.9 1356.2L912.9 1359.6L913.9 1352.2L914.9 1350.9L915.9 1350.9L916.9 1341.1L917.9 1350.6L918.9 1347.9L919.9 1338.1L920.9 1344.7L921.9 1339.6L922.9 1326.7L923.9 1323.3L924.9 1322.4L925.9 1316.5L926.9 1309.2L927.9 1312.5L928.9 1304.2L929.9 1282.5L930.9 1294.6L931.9 1278.1L932.9 1283.7L933.9 1262.3L934.9 1275.5L935.9 1231.1L936.9 1216.8L937.9 1243.1L938.9 1197.9L939.9 1188L940.9 1192.2L941.9 1212.7L942.9 1156.2L943.9 1145.3L944.9 1144.1L945.9 1135.9L946.9 1106.2L947.9 1094.5L948.9 1077L949.9 1073.6L950.9 1073.7L951.9 1099.8L952.9 1086.2L953.9 1111.2L954.9 1133.2L955.9 1130.3L956.9 1114.9L957.9 1091.2L958.9 1075.2L959.9 1077.3L960.9 1098.8L961.9 1081.6L962.9 1080.8L963.9 1105L964.9 1131.8L965.9 1157.7L966.9 1171.7L967.9 1195.2L968.9 1180.1L969.9 1203.7L970.9 1192.2L971.9 1228.2L972.9 1225.3L973.9 1230.3L974.9 1255.1L975.9 1256.5L976.9 1284L977.9 1276.8L978.9 1308.7L979.9 1314.2L980.9 1327.4L981.9 1326.7L982.9 1341.3L983.9 1336.1L984.9 1355.4L985.9 1351L986.9 1352.8L987.9 1360.5L988.9 1355L989.9 1360.7L990.9 1361.3L991.9 1359.7L992.9 1363.5L993.9 1365L994.9 1360.1L995.9 1359.3L996.9 1358L997.9 1365L998.9 1362.7L999.9 1360.6L1000.9 1360.7L1001.9 1362.9L1002.9 1365L1003.9 1365L1004.9 1365L1005.9 1365L1006.9 1365L1007.9 1365L1008.9 1365L1009.9 1365L1010.9 1365L1011.9 1365L1012.9 1365L1013.9 1365L1014.9 1365L1015.9 1365L1016.9 1365L1017.9 1365L1018.9 1365L1019.9 1365L1020.9 1365L1021.9 1365L1022.9 1365L1023.9 1365L1024.9 1365L1025.9 1365L1026.9 1365L1027.9 1365L1028.9 1365L1029.9 1365L1030.9 1365L1031.9 1365L1032.9 1365L1033.9 1365L1034.9 1365L1035.9 1365L1036.9 1365L1037.9 1365L1038.9 1365L1039.9 1365L1040.9 1365L1041.9 1365L1042.9 1365L1043.9 1365L1044.9 1365L1045.9 1365L1046.9 1365L1047.9 1365L1048.9 1365L1049.9 1365L1050.9 1365L1051.9 1365L1052.9 1365L1053.9 1365L1054.9 1365L1055.9 1365L1056.9 1365L1057.9 1365L1058.9 1365L1059.9 1365L1060.9 1365L1061.9 1365L1062.9 1365L1063.9 1365L1064.9 1365L1065.9 1365L1066.9 1365L1067.9 1365L1067.9 1365Z" fill="#999999" stroke="#000" stroke-width="1.6" stroke-linejoin="round"/>
<rect x="733.4" y="1056.7" width="336.3" height="309.2" fill="none" stroke="#000" stroke-width="2.8"/>
<line x1="728.9" y1="1348.9" x2="733.4" y2="1348.9" stroke="#000" stroke-width="2.2" stroke-linecap="butt"/>
<line x1="728.9" y1="1332.8" x2="733.4" y2="1332.8" stroke="#000" stroke-width="2.2" stroke-linecap="butt"/>
<line x1="728.9" y1="1316.7" x2="733.4" y2="1316.7" stroke="#000" stroke-width="2.2" stroke-linecap="butt"/>
<line x1="728.9" y1="1284.5" x2="733.4" y2="1284.5" stroke="#000" stroke-width="2.2" stroke-linecap="butt"/>
<line x1="728.9" y1="1268.4" x2="733.4" y2="1268.4" stroke="#000" stroke-width="2.2" stroke-linecap="butt"/>
<line x1="728.9" y1="1252.3" x2="733.4" y2="1252.3" stroke="#000" stroke-width="2.2" stroke-linecap="butt"/>
<line x1="728.9" y1="1220.1" x2="733.4" y2="1220.1" stroke="#000" stroke-width="2.2" stroke-linecap="butt"/>
<line x1="728.9" y1="1204" x2="733.4" y2="1204" stroke="#000" stroke-width="2.2" stroke-linecap="butt"/>
<line x1="728.9" y1="1187.9" x2="733.4" y2="1187.9" stroke="#000" stroke-width="2.2" stroke-linecap="butt"/>
<line x1="728.9" y1="1155.7" x2="733.4" y2="1155.7" stroke="#000" stroke-width="2.2" stroke-linecap="butt"/>
<line x1="728.9" y1="1139.6" x2="733.4" y2="1139.6" stroke="#000" stroke-width="2.2" stroke-linecap="butt"/>
<line x1="728.9" y1="1123.5" x2="733.4" y2="1123.5" stroke="#000" stroke-width="2.2" stroke-linecap="butt"/>
<line x1="728.9" y1="1091.3" x2="733.4" y2="1091.3" stroke="#000" stroke-width="2.2" stroke-linecap="butt"/>
<line x1="728.9" y1="1075.2" x2="733.4" y2="1075.2" stroke="#000" stroke-width="2.2" stroke-linecap="butt"/>
<line x1="724.4" y1="1365" x2="733.4" y2="1365" stroke="#000" stroke-width="2.6" stroke-linecap="butt"/>
<text x="720.4" y="1373.2" font-size="23" text-anchor="end">0</text>
<line x1="724.4" y1="1300.6" x2="733.4" y2="1300.6" stroke="#000" stroke-width="2.6" stroke-linecap="butt"/>
<text x="720.4" y="1308.8" font-size="23" text-anchor="end">20</text>
<line x1="724.4" y1="1236.2" x2="733.4" y2="1236.2" stroke="#000" stroke-width="2.6" stroke-linecap="butt"/>
<text x="720.4" y="1244.4" font-size="23" text-anchor="end">40</text>
<line x1="724.4" y1="1171.8" x2="733.4" y2="1171.8" stroke="#000" stroke-width="2.6" stroke-linecap="butt"/>
<text x="720.4" y="1180" font-size="23" text-anchor="end">60</text>
<line x1="724.4" y1="1107.4" x2="733.4" y2="1107.4" stroke="#000" stroke-width="2.6" stroke-linecap="butt"/>
<text x="720.4" y="1115.6" font-size="23" text-anchor="end">80</text>
<line x1="748.2" y1="1365.9" x2="748.2" y2="1370.9" stroke="#000" stroke-width="2" stroke-linecap="butt"/>
<line x1="825" y1="1365.9" x2="825" y2="1370.9" stroke="#000" stroke-width="2" stroke-linecap="butt"/>
<line x1="840.5" y1="1365.9" x2="840.5" y2="1370.9" stroke="#000" stroke-width="2" stroke-linecap="butt"/>
<line x1="852.2" y1="1365.9" x2="852.2" y2="1370.9" stroke="#000" stroke-width="2" stroke-linecap="butt"/>
<line x1="860" y1="1365.9" x2="860" y2="1370.9" stroke="#000" stroke-width="2" stroke-linecap="butt"/>
<line x1="867.8" y1="1365.9" x2="867.8" y2="1370.9" stroke="#000" stroke-width="2" stroke-linecap="butt"/>
<line x1="874.3" y1="1365.9" x2="874.3" y2="1370.9" stroke="#000" stroke-width="2" stroke-linecap="butt"/>
<line x1="879.5" y1="1365.9" x2="879.5" y2="1370.9" stroke="#000" stroke-width="2" stroke-linecap="butt"/>
<line x1="883.4" y1="1365.9" x2="883.4" y2="1370.9" stroke="#000" stroke-width="2" stroke-linecap="butt"/>
<line x1="887.3" y1="1365.9" x2="887.3" y2="1370.9" stroke="#000" stroke-width="2" stroke-linecap="butt"/>
<line x1="920.5" y1="1365.9" x2="920.5" y2="1370.9" stroke="#000" stroke-width="2" stroke-linecap="butt"/>
<line x1="936.7" y1="1365.9" x2="936.7" y2="1370.9" stroke="#000" stroke-width="2" stroke-linecap="butt"/>
<line x1="948.3" y1="1365.9" x2="948.3" y2="1370.9" stroke="#000" stroke-width="2" stroke-linecap="butt"/>
<line x1="958" y1="1365.9" x2="958" y2="1370.9" stroke="#000" stroke-width="2" stroke-linecap="butt"/>
<line x1="965.2" y1="1365.9" x2="965.2" y2="1370.9" stroke="#000" stroke-width="2" stroke-linecap="butt"/>
<line x1="971" y1="1365.9" x2="971" y2="1370.9" stroke="#000" stroke-width="2" stroke-linecap="butt"/>
<line x1="977" y1="1365.9" x2="977" y2="1370.9" stroke="#000" stroke-width="2" stroke-linecap="butt"/>
<line x1="981.3" y1="1365.9" x2="981.3" y2="1370.9" stroke="#000" stroke-width="2" stroke-linecap="butt"/>
<line x1="1013.3" y1="1365.9" x2="1013.3" y2="1370.9" stroke="#000" stroke-width="2" stroke-linecap="butt"/>
<line x1="1028.9" y1="1365.9" x2="1028.9" y2="1370.9" stroke="#000" stroke-width="2" stroke-linecap="butt"/>
<line x1="1040.6" y1="1365.9" x2="1040.6" y2="1370.9" stroke="#000" stroke-width="2" stroke-linecap="butt"/>
<line x1="1048.9" y1="1365.9" x2="1048.9" y2="1370.9" stroke="#000" stroke-width="2" stroke-linecap="butt"/>
<line x1="1056.2" y1="1365.9" x2="1056.2" y2="1370.9" stroke="#000" stroke-width="2" stroke-linecap="butt"/>
<line x1="1061.4" y1="1365.9" x2="1061.4" y2="1370.9" stroke="#000" stroke-width="2" stroke-linecap="butt"/>
<line x1="1066" y1="1365.9" x2="1066" y2="1370.9" stroke="#000" stroke-width="2" stroke-linecap="butt"/>
<line x1="770" y1="1365.9" x2="770" y2="1370.9" stroke="#000" stroke-width="2" stroke-linecap="butt"/>
<line x1="773" y1="1365.9" x2="773" y2="1370.9" stroke="#000" stroke-width="2" stroke-linecap="butt"/>
<line x1="776" y1="1365.9" x2="776" y2="1370.9" stroke="#000" stroke-width="2" stroke-linecap="butt"/>
<line x1="779" y1="1365.9" x2="779" y2="1370.9" stroke="#000" stroke-width="2" stroke-linecap="butt"/>
<line x1="782" y1="1365.9" x2="782" y2="1370.9" stroke="#000" stroke-width="2" stroke-linecap="butt"/>
<line x1="784" y1="1365.9" x2="784" y2="1370.9" stroke="#000" stroke-width="2" stroke-linecap="butt"/>
<line x1="786" y1="1365.9" x2="786" y2="1370.9" stroke="#000" stroke-width="2" stroke-linecap="butt"/>
<line x1="787" y1="1365.9" x2="787" y2="1370.9" stroke="#000" stroke-width="2" stroke-linecap="butt"/>
<line x1="788" y1="1365.9" x2="788" y2="1370.9" stroke="#000" stroke-width="2" stroke-linecap="butt"/>
<line x1="789" y1="1365.9" x2="789" y2="1370.9" stroke="#000" stroke-width="2" stroke-linecap="butt"/>
<line x1="790" y1="1365.9" x2="790" y2="1370.9" stroke="#000" stroke-width="2" stroke-linecap="butt"/>
<line x1="792" y1="1365.9" x2="792" y2="1370.9" stroke="#000" stroke-width="2" stroke-linecap="butt"/>
<line x1="795" y1="1365.9" x2="795" y2="1370.9" stroke="#000" stroke-width="2" stroke-linecap="butt"/>
<line x1="798" y1="1365.9" x2="798" y2="1370.9" stroke="#000" stroke-width="2" stroke-linecap="butt"/>
<line x1="801" y1="1365.9" x2="801" y2="1370.9" stroke="#000" stroke-width="2" stroke-linecap="butt"/>
<line x1="804" y1="1365.9" x2="804" y2="1370.9" stroke="#000" stroke-width="2" stroke-linecap="butt"/>
<line x1="766.4" y1="1365.9" x2="766.4" y2="1375.9" stroke="#000" stroke-width="2.6" stroke-linecap="butt"/>
<line x1="807.5" y1="1365.9" x2="807.5" y2="1375.9" stroke="#000" stroke-width="2.6" stroke-linecap="butt"/>
<line x1="892.5" y1="1365.9" x2="892.5" y2="1375.9" stroke="#000" stroke-width="2.6" stroke-linecap="butt"/>
<line x1="986.5" y1="1365.9" x2="986.5" y2="1375.9" stroke="#000" stroke-width="2.6" stroke-linecap="butt"/>
<line x1="776.3" y1="1316.6" x2="899.7" y2="1316.6" stroke="#000" stroke-width="3.2" stroke-linecap="butt"/>
<line x1="776.3" y1="1310.5" x2="776.3" y2="1322.5" stroke="#000" stroke-width="3.2" stroke-linecap="butt"/>
<line x1="899.7" y1="1310.5" x2="899.7" y2="1322.5" stroke="#000" stroke-width="3.2" stroke-linecap="butt"/>
<text x="838" y="1295.7" font-size="31.5" text-anchor="middle">5.62</text>
<path d="M734.9 1703.6L734.9 1703.6L735.9 1703.6L736.9 1703.6L737.9 1703.6L738.9 1703.6L739.9 1703.6L740.9 1703.6L741.9 1703.6L742.9 1703.6L743.9 1703.6L744.9 1703.6L745.9 1703.6L746.9 1703.6L747.9 1703.6L748.9 1703.6L749.9 1703.6L750.9 1703.6L751.9 1703.6L752.9 1703.6L753.9 1703.6L754.9 1703.6L755.9 1703.6L756.9 1703.6L757.9 1703.6L758.9 1703.6L759.9 1703.6L760.9 1703.6L761.9 1703.6L762.9 1703.6L763.9 1703.6L764.9 1703.6L765.9 1703.6L766.9 1703.6L767.9 1703.6L768.9 1703.6L769.9 1703.6L770.9 1703.6L771.9 1703.6L772.9 1703.6L773.9 1703.6L774.9 1703.6L775.9 1703.6L776.9 1703.6L777.9 1703.6L778.9 1703.6L779.9 1703.6L780.9 1703.6L781.9 1703.6L782.9 1703.6L783.9 1703.6L784.9 1703.6L785.9 1703.6L786.9 1703.6L787.9 1703.6L788.9 1703.6L789.9 1703.6L790.9 1703.6L791.9 1703.6L792.9 1689L793.9 1671.7L794.9 1650.3L795.9 1639.4L796.9 1646.1L797.9 1668.2L798.9 1674.7L799.9 1672.7L800.9 1674L801.9 1683.2L802.9 1688.1L803.9 1692.9L804.9 1693.1L805.9 1694L806.9 1693.1L807.9 1692.6L808.9 1698.8L809.9 1690.1L810.9 1696.4L811.9 1692.1L812.9 1697.3L813.9 1700.9L814.9 1699.3L815.9 1699.3L816.9 1696.3L817.9 1700.1L818.9 1699.1L819.9 1702.9L820.9 1700.7L821.9 1701.4L822.9 1700.7L823.9 1703.6L824.9 1702.8L825.9 1698.9L826.9 1698.9L827.9 1696.5L828.9 1696.9L829.9 1703.4L830.9 1703.6L831.9 1701.9L832.9 1700.3L833.9 1703.6L834.9 1699.9L835.9 1700.4L836.9 1703.6L837.9 1697.7L838.9 1701.9L839.9 1700.3L840.9 1703.6L841.9 1703.6L842.9 1699L843.9 1701.7L844.9 1703.6L845.9 1703.5L846.9 1697.4L847.9 1700L848.9 1700.9L849.9 1702.4L850.9 1703.6L851.9 1703.6L852.9 1699.3L853.9 1698.5L854.9 1697.7L855.9 1701.5L856.9 1703.6L857.9 1701.3L858.9 1702.4L859.9 1700.9L860.9 1698.9L861.9 1702.2L862.9 1700.3L863.9 1700.8L864.9 1703.6L865.9 1699L866.9 1703.2L867.9 1703.6L868.9 1702L869.9 1699.4L870.9 1702.8L871.9 1697.2L872.9 1699.2L873.9 1701.4L874.9 1703.6L875.9 1700.8L876.9 1703.2L877.9 1699.4L878.9 1703.6L879.9 1698.7L880.9 1697L881.9 1702.4L882.9 1699.9L883.9 1698.6L884.9 1702.7L885.9 1703.6L886.9 1701.2L887.9 1703.6L888.9 1703.6L889.9 1703.6L890.9 1700.6L891.9 1701.5L892.9 1701.2L893.9 1699L894.9 1703L895.9 1701.5L896.9 1702.2L897.9 1700.7L898.9 1703.5L899.9 1701.4L900.9 1701.4L901.9 1697.8L902.9 1702.1L903.9 1699.9L904.9 1702.1L905.9 1700.3L906.9 1702L907.9 1699.3L908.9 1696L909.9 1699.8L910.9 1697.1L911.9 1693.5L912.9 1684.2L913.9 1696.8L914.9 1693.1L915.9 1692.8L916.9 1692.4L917.9 1689.9L918.9 1689.8L919.9 1678.5L920.9 1674.4L921.9 1679.3L922.9 1679.7L923.9 1675.4L924.9 1675L925.9 1662.3L926.9 1665.1L927.9 1650L928.9 1662.9L929.9 1633.9L930.9 1634.4L931.9 1641.3L932.9 1636.4L933.9 1640.6L934.9 1616.6L935.9 1621.2L936.9 1625.2L937.9 1622.8L938.9 1599.5L939.9 1603.4L940.9 1587.9L941.9 1555.9L942.9 1565.7L943.9 1577.7L944.9 1582.7L945.9 1526.9L946.9 1497.7L947.9 1513.5L948.9 1511.2L949.9 1518.6L950.9 1501.2L951.9 1468.3L952.9 1487.5L953.9 1413.7L954.9 1488L955.9 1503.1L956.9 1482.5L957.9 1506.5L958.9 1526.7L959.9 1518.9L960.9 1524.2L961.9 1540.1L962.9 1534.8L963.9 1572.5L964.9 1496.3L965.9 1567.6L966.9 1559.4L967.9 1580L968.9 1575.1L969.9 1582.9L970.9 1564.6L971.9 1575.1L972.9 1591.8L973.9 1602.6L974.9 1606.7L975.9 1621L976.9 1630.8L977.9 1651.1L978.9 1664.9L979.9 1670.5L980.9 1662.7L981.9 1676.3L982.9 1698.3L983.9 1692.3L984.9 1694.1L985.9 1689.9L986.9 1698.1L987.9 1697.6L988.9 1698.7L989.9 1701.4L990.9 1696.9L991.9 1698.4L992.9 1701.9L993.9 1701.6L994.9 1702.6L995.9 1697.6L996.9 1700.1L997.9 1701L998.9 1701.4L999.9 1700.9L1000.9 1701.8L1001.9 1703.3L1002.9 1703L1003.9 1703.3L1004.9 1703.6L1005.9 1703.6L1006.9 1703.6L1007.9 1703.6L1008.9 1703.6L1009.9 1703.6L1010.9 1703.6L1011.9 1703.6L1012.9 1703.6L1013.9 1703.6L1014.9 1703.6L1015.9 1703.6L1016.9 1703.6L1017.9 1703.6L1018.9 1703.6L1019.9 1703.6L1020.9 1703.6L1021.9 1703.6L1022.9 1703.6L1023.9 1703.6L1024.9 1703.6L1025.9 1703.6L1026.9 1703.6L1027.9 1703.6L1028.9 1703.6L1029.9 1703.6L1030.9 1703.6L1031.9 1703.6L1032.9 1703.6L1033.9 1703.6L1034.9 1703.6L1035.9 1703.6L1036.9 1703.6L1037.9 1703.6L1038.9 1703.6L1039.9 1703.6L1040.9 1703.6L1041.9 1703.6L1042.9 1703.6L1043.9 1703.6L1044.9 1703.6L1045.9 1703.6L1046.9 1703.6L1047.9 1703.6L1048.9 1703.6L1049.9 1703.6L1050.9 1703.6L1051.9 1703.6L1052.9 1703.6L1053.9 1703.6L1054.9 1703.6L1055.9 1703.6L1056.9 1703.6L1057.9 1703.6L1058.9 1703.6L1059.9 1703.6L1060.9 1703.6L1061.9 1703.6L1062.9 1703.6L1063.9 1703.6L1064.9 1703.6L1065.9 1703.6L1066.9 1703.6L1067.9 1703.6L1067.9 1703.6Z" fill="#999999" stroke="#000" stroke-width="1.6" stroke-linejoin="round"/>
<rect x="733.4" y="1395.2" width="336.3" height="309.3" fill="none" stroke="#000" stroke-width="2.8"/>
<line x1="728.9" y1="1685.2" x2="733.4" y2="1685.2" stroke="#000" stroke-width="2.2" stroke-linecap="butt"/>
<line x1="728.9" y1="1666.9" x2="733.4" y2="1666.9" stroke="#000" stroke-width="2.2" stroke-linecap="butt"/>
<line x1="728.9" y1="1648.5" x2="733.4" y2="1648.5" stroke="#000" stroke-width="2.2" stroke-linecap="butt"/>
<line x1="728.9" y1="1611.8" x2="733.4" y2="1611.8" stroke="#000" stroke-width="2.2" stroke-linecap="butt"/>
<line x1="728.9" y1="1593.5" x2="733.4" y2="1593.5" stroke="#000" stroke-width="2.2" stroke-linecap="butt"/>
<line x1="728.9" y1="1575.1" x2="733.4" y2="1575.1" stroke="#000" stroke-width="2.2" stroke-linecap="butt"/>
<line x1="728.9" y1="1538.4" x2="733.4" y2="1538.4" stroke="#000" stroke-width="2.2" stroke-linecap="butt"/>
<line x1="728.9" y1="1520.1" x2="733.4" y2="1520.1" stroke="#000" stroke-width="2.2" stroke-linecap="butt"/>
<line x1="728.9" y1="1501.8" x2="733.4" y2="1501.8" stroke="#000" stroke-width="2.2" stroke-linecap="butt"/>
<line x1="728.9" y1="1465" x2="733.4" y2="1465" stroke="#000" stroke-width="2.2" stroke-linecap="butt"/>
<line x1="728.9" y1="1446.7" x2="733.4" y2="1446.7" stroke="#000" stroke-width="2.2" stroke-linecap="butt"/>
<line x1="728.9" y1="1428.3" x2="733.4" y2="1428.3" stroke="#000" stroke-width="2.2" stroke-linecap="butt"/>
<line x1="724.4" y1="1703.6" x2="733.4" y2="1703.6" stroke="#000" stroke-width="2.6" stroke-linecap="butt"/>
<text x="720.4" y="1711.8" font-size="23" text-anchor="end">0</text>
<line x1="724.4" y1="1630.2" x2="733.4" y2="1630.2" stroke="#000" stroke-width="2.6" stroke-linecap="butt"/>
<text x="720.4" y="1638.4" font-size="23" text-anchor="end">20</text>
<line x1="724.4" y1="1556.8" x2="733.4" y2="1556.8" stroke="#000" stroke-width="2.6" stroke-linecap="butt"/>
<text x="720.4" y="1565" font-size="23" text-anchor="end">40</text>
<line x1="724.4" y1="1483.4" x2="733.4" y2="1483.4" stroke="#000" stroke-width="2.6" stroke-linecap="butt"/>
<text x="720.4" y="1491.6" font-size="23" text-anchor="end">60</text>
<line x1="724.4" y1="1410" x2="733.4" y2="1410" stroke="#000" stroke-width="2.6" stroke-linecap="butt"/>
<text x="720.4" y="1418.2" font-size="23" text-anchor="end">80</text>
<line x1="748.2" y1="1704.5" x2="748.2" y2="1709.5" stroke="#000" stroke-width="2" stroke-linecap="butt"/>
<line x1="825" y1="1704.5" x2="825" y2="1709.5" stroke="#000" stroke-width="2" stroke-linecap="butt"/>
<line x1="840.5" y1="1704.5" x2="840.5" y2="1709.5" stroke="#000" stroke-width="2" stroke-linecap="butt"/>
<line x1="852.2" y1="1704.5" x2="852.2" y2="1709.5" stroke="#000" stroke-width="2" stroke-linecap="butt"/>
<line x1="860" y1="1704.5" x2="860" y2="1709.5" stroke="#000" stroke-width="2" stroke-linecap="butt"/>
<line x1="867.8" y1="1704.5" x2="867.8" y2="1709.5" stroke="#000" stroke-width="2" stroke-linecap="butt"/>
<line x1="874.3" y1="1704.5" x2="874.3" y2="1709.5" stroke="#000" stroke-width="2" stroke-linecap="butt"/>
<line x1="879.5" y1="1704.5" x2="879.5" y2="1709.5" stroke="#000" stroke-width="2" stroke-linecap="butt"/>
<line x1="883.4" y1="1704.5" x2="883.4" y2="1709.5" stroke="#000" stroke-width="2" stroke-linecap="butt"/>
<line x1="887.3" y1="1704.5" x2="887.3" y2="1709.5" stroke="#000" stroke-width="2" stroke-linecap="butt"/>
<line x1="920.5" y1="1704.5" x2="920.5" y2="1709.5" stroke="#000" stroke-width="2" stroke-linecap="butt"/>
<line x1="936.7" y1="1704.5" x2="936.7" y2="1709.5" stroke="#000" stroke-width="2" stroke-linecap="butt"/>
<line x1="948.3" y1="1704.5" x2="948.3" y2="1709.5" stroke="#000" stroke-width="2" stroke-linecap="butt"/>
<line x1="958" y1="1704.5" x2="958" y2="1709.5" stroke="#000" stroke-width="2" stroke-linecap="butt"/>
<line x1="965.2" y1="1704.5" x2="965.2" y2="1709.5" stroke="#000" stroke-width="2" stroke-linecap="butt"/>
<line x1="971" y1="1704.5" x2="971" y2="1709.5" stroke="#000" stroke-width="2" stroke-linecap="butt"/>
<line x1="977" y1="1704.5" x2="977" y2="1709.5" stroke="#000" stroke-width="2" stroke-linecap="butt"/>
<line x1="981.3" y1="1704.5" x2="981.3" y2="1709.5" stroke="#000" stroke-width="2" stroke-linecap="butt"/>
<line x1="1013.3" y1="1704.5" x2="1013.3" y2="1709.5" stroke="#000" stroke-width="2" stroke-linecap="butt"/>
<line x1="1028.9" y1="1704.5" x2="1028.9" y2="1709.5" stroke="#000" stroke-width="2" stroke-linecap="butt"/>
<line x1="1040.6" y1="1704.5" x2="1040.6" y2="1709.5" stroke="#000" stroke-width="2" stroke-linecap="butt"/>
<line x1="1048.9" y1="1704.5" x2="1048.9" y2="1709.5" stroke="#000" stroke-width="2" stroke-linecap="butt"/>
<line x1="1056.2" y1="1704.5" x2="1056.2" y2="1709.5" stroke="#000" stroke-width="2" stroke-linecap="butt"/>
<line x1="1061.4" y1="1704.5" x2="1061.4" y2="1709.5" stroke="#000" stroke-width="2" stroke-linecap="butt"/>
<line x1="1066" y1="1704.5" x2="1066" y2="1709.5" stroke="#000" stroke-width="2" stroke-linecap="butt"/>
<line x1="770" y1="1704.5" x2="770" y2="1709.5" stroke="#000" stroke-width="2" stroke-linecap="butt"/>
<line x1="773" y1="1704.5" x2="773" y2="1709.5" stroke="#000" stroke-width="2" stroke-linecap="butt"/>
<line x1="776" y1="1704.5" x2="776" y2="1709.5" stroke="#000" stroke-width="2" stroke-linecap="butt"/>
<line x1="779" y1="1704.5" x2="779" y2="1709.5" stroke="#000" stroke-width="2" stroke-linecap="butt"/>
<line x1="782" y1="1704.5" x2="782" y2="1709.5" stroke="#000" stroke-width="2" stroke-linecap="butt"/>
<line x1="784" y1="1704.5" x2="784" y2="1709.5" stroke="#000" stroke-width="2" stroke-linecap="butt"/>
<line x1="786" y1="1704.5" x2="786" y2="1709.5" stroke="#000" stroke-width="2" stroke-linecap="butt"/>
<line x1="787" y1="1704.5" x2="787" y2="1709.5" stroke="#000" stroke-width="2" stroke-linecap="butt"/>
<line x1="788" y1="1704.5" x2="788" y2="1709.5" stroke="#000" stroke-width="2" stroke-linecap="butt"/>
<line x1="789" y1="1704.5" x2="789" y2="1709.5" stroke="#000" stroke-width="2" stroke-linecap="butt"/>
<line x1="790" y1="1704.5" x2="790" y2="1709.5" stroke="#000" stroke-width="2" stroke-linecap="butt"/>
<line x1="792" y1="1704.5" x2="792" y2="1709.5" stroke="#000" stroke-width="2" stroke-linecap="butt"/>
<line x1="795" y1="1704.5" x2="795" y2="1709.5" stroke="#000" stroke-width="2" stroke-linecap="butt"/>
<line x1="798" y1="1704.5" x2="798" y2="1709.5" stroke="#000" stroke-width="2" stroke-linecap="butt"/>
<line x1="801" y1="1704.5" x2="801" y2="1709.5" stroke="#000" stroke-width="2" stroke-linecap="butt"/>
<line x1="804" y1="1704.5" x2="804" y2="1709.5" stroke="#000" stroke-width="2" stroke-linecap="butt"/>
<line x1="766.4" y1="1704.5" x2="766.4" y2="1714.5" stroke="#000" stroke-width="2.6" stroke-linecap="butt"/>
<line x1="807.5" y1="1704.5" x2="807.5" y2="1714.5" stroke="#000" stroke-width="2.6" stroke-linecap="butt"/>
<line x1="892.5" y1="1704.5" x2="892.5" y2="1714.5" stroke="#000" stroke-width="2.6" stroke-linecap="butt"/>
<line x1="986.5" y1="1704.5" x2="986.5" y2="1714.5" stroke="#000" stroke-width="2.6" stroke-linecap="butt"/>
<text x="787.2" y="1737.5" font-size="23" text-anchor="middle">0</text>
<text x="896.5" y="1737.5" font-size="23" text-anchor="middle">10<tspan dy="-9" font-size="15">4</tspan></text>
<text x="990.5" y="1737.5" font-size="23" text-anchor="middle">10<tspan dy="-9" font-size="15">5</tspan></text>
<line x1="776.3" y1="1655.3" x2="899.7" y2="1655.3" stroke="#000" stroke-width="3.2" stroke-linecap="butt"/>
<line x1="776.3" y1="1649.3" x2="776.3" y2="1661.3" stroke="#000" stroke-width="3.2" stroke-linecap="butt"/>
<line x1="899.7" y1="1649.3" x2="899.7" y2="1661.3" stroke="#000" stroke-width="3.2" stroke-linecap="butt"/>
<text x="835.3" y="1629.9" font-size="31.5" text-anchor="middle">5.37</text>
<path d="M1143.9 1365L1143.9 1365L1144.9 1365L1145.9 1365L1146.9 1365L1147.9 1365L1148.9 1365L1149.9 1365L1150.9 1365L1151.9 1365L1152.9 1365L1153.9 1365L1154.9 1365L1155.9 1365L1156.9 1365L1157.9 1365L1158.9 1365L1159.9 1365L1160.9 1365L1161.9 1365L1162.9 1365L1163.9 1365L1164.9 1365L1165.9 1365L1166.9 1365L1167.9 1365L1168.9 1365L1169.9 1365L1170.9 1365L1171.9 1365L1172.9 1365L1173.9 1365L1174.9 1365L1175.9 1365L1176.9 1365L1177.9 1365L1178.9 1365L1179.9 1365L1180.9 1365L1181.9 1365L1182.9 1365L1183.9 1365L1184.9 1365L1185.9 1365L1186.9 1365L1187.9 1365L1188.9 1365L1189.9 1365L1190.9 1365L1191.9 1365L1192.9 1365L1193.9 1365L1194.9 1365L1195.9 1365L1196.9 1365L1197.9 1365L1198.9 1365L1199.9 1365L1200.9 1279.2L1201.9 1201.5L1202.9 1138.2L1203.9 1072.4L1204.9 1138.9L1205.9 1154.8L1206.9 1163.2L1207.9 1168.7L1208.9 1203.9L1209.9 1202.7L1210.9 1168.9L1211.9 1167.4L1212.9 1144.7L1213.9 1148L1214.9 1140.9L1215.9 1179.3L1216.9 1158.1L1217.9 1222.4L1218.9 1242.1L1219.9 1258.5L1220.9 1255.2L1221.9 1254.2L1222.9 1258.3L1223.9 1253L1224.9 1247L1225.9 1240.2L1226.9 1233.6L1227.9 1243.2L1228.9 1267.1L1229.9 1233.9L1230.9 1264L1231.9 1251.9L1232.9 1271.5L1233.9 1257.5L1234.9 1270.7L1235.9 1263L1236.9 1232.2L1237.9 1274.3L1238.9 1268.8L1239.9 1296.1L1240.9 1289.3L1241.9 1283.9L1242.9 1295.2L1243.9 1294.5L1244.9 1300.7L1245.9 1314.4L1246.9 1304.2L1247.9 1317.4L1248.9 1295.8L1249.9 1317L1250.9 1308.3L1251.9 1315.1L1252.9 1308.6L1253.9 1322.2L1254.9 1310.7L1255.9 1320.3L1256.9 1310.3L1257.9 1316L1258.9 1320.4L1259.9 1328.1L1260.9 1317.1L1261.9 1320.1L1262.9 1312.2L1263.9 1327.8L1264.9 1321.7L1265.9 1322.8L1266.9 1325.2L1267.9 1326.4L1268.9 1327.2L1269.9 1333.3L1270.9 1336.7L1271.9 1333.1L1272.9 1327L1273.9 1321.5L1274.9 1325.7L1275.9 1325.9L1276.9 1328.4L1277.9 1329.6L1278.9 1333.5L1279.9 1330.4L1280.9 1324.6L1281.9 1338.2L1282.9 1340.8L1283.9 1324.9L1284.9 1335.8L1285.9 1331.8L1286.9 1332.9L1287.9 1345.3L1288.9 1324.5L1289.9 1328.9L1290.9 1338.7L1291.9 1335.7L1292.9 1339.8L1293.9 1345.9L1294.9 1341.9L1295.9 1339.6L1296.9 1336L1297.9 1338.7L1298.9 1342.7L1299.9 1336.2L1300.9 1347.9L1301.9 1340.1L1302.9 1338.9L1303.9 1346.7L1304.9 1354.7L1305.9 1350.6L1306.9 1345.3L1307.9 1344.1L1308.9 1339.4L1309.9 1352.2L1310.9 1347.6L1311.9 1344.8L1312.9 1348.9L1313.9 1359.6L1314.9 1345L1315.9 1338.3L1316.9 1344.7L1317.9 1353.8L1318.9 1351.7L1319.9 1349.2L1320.9 1339.3L1321.9 1347.7L1322.9 1350.1L1323.9 1343.9L1324.9 1351.2L1325.9 1343L1326.9 1354.1L1327.9 1353.3L1328.9 1348.4L1329.9 1345.6L1330.9 1349L1331.9 1350.6L1332.9 1359.6L1333.9 1355L1334.9 1354.6L1335.9 1354.3L1336.9 1349.6L1337.9 1353.4L1338.9 1348.8L1339.9 1351.7L1340.9 1353.4L1341.9 1350.7L1342.9 1348.4L1343.9 1345.4L1344.9 1350.7L1345.9 1348.6L1346.9 1353.3L1347.9 1335.8L1348.9 1333.7L1349.9 1340.4L1350.9 1339.8L1351.9 1342.3L1352.9 1330.8L1353.9 1328.8L1354.9 1313.4L1355.9 1325.3L1356.9 1331.1L1357.9 1342L1358.9 1311.6L1359.9 1319.3L1360.9 1332.1L1361.9 1317L1362.9 1330.1L1363.9 1288L1364.9 1305.9L1365.9 1309.2L1366.9 1307.6L1367.9 1332.1L1368.9 1316.5L1369.9 1329.1L1370.9 1312.8L1371.9 1335.5L1372.9 1326.6L1373.9 1311L1374.9 1308.8L1375.9 1331.2L1376.9 1334.7L1377.9 1317.7L1378.9 1321.6L1379.9 1337.9L1380.9 1339.4L1381.9 1342.8L1382.9 1348.2L1383.9 1347.9L1384.9 1340.9L1385.9 1346.7L1386.9 1344.1L1387.9 1354.6L1388.9 1355.6L1389.9 1359.3L1390.9 1357.1L1391.9 1361.7L1392.9 1363.5L1393.9 1356.8L1394.9 1355.4L1395.9 1357.8L1396.9 1357.4L1397.9 1360.7L1398.9 1363.2L1399.9 1361.9L1400.9 1363.1L1401.9 1364.7L1402.9 1365L1403.9 1365L1404.9 1364L1405.9 1364.2L1406.9 1364.9L1407.9 1363.7L1408.9 1364.7L1409.9 1364.9L1410.9 1365L1411.9 1365L1412.9 1365L1413.9 1365L1414.9 1365L1415.9 1365L1416.9 1365L1417.9 1365L1418.9 1365L1419.9 1365L1420.9 1365L1421.9 1365L1422.9 1365L1423.9 1365L1424.9 1365L1425.9 1365L1426.9 1365L1427.9 1365L1428.9 1365L1429.9 1365L1430.9 1365L1431.9 1365L1432.9 1365L1433.9 1365L1434.9 1365L1435.9 1365L1436.9 1365L1437.9 1365L1438.9 1365L1439.9 1365L1440.9 1365L1441.9 1365L1442.9 1365L1443.9 1365L1444.9 1365L1445.9 1365L1446.9 1365L1447.9 1365L1448.9 1365L1449.9 1365L1450.9 1365L1451.9 1365L1452.9 1365L1453.9 1365L1454.9 1365L1455.9 1365L1456.9 1365L1457.9 1365L1458.9 1365L1459.9 1365L1460.9 1365L1461.9 1365L1462.9 1365L1463.9 1365L1464.9 1365L1465.9 1365L1466.9 1365L1467.9 1365L1468.9 1365L1469.9 1365L1470.9 1365L1471.9 1365L1472.9 1365L1473.9 1365L1474.9 1365L1475.9 1365L1475.9 1365Z" fill="#f0b9cf" stroke="#c8457b" stroke-width="1.4" stroke-linejoin="round"/>
<rect x="1142.4" y="1056.7" width="335.6" height="308.9" fill="none" stroke="#000" stroke-width="2.8"/>
<line x1="1137.9" y1="1346.5" x2="1142.4" y2="1346.5" stroke="#000" stroke-width="2.2" stroke-linecap="butt"/>
<line x1="1137.9" y1="1328" x2="1142.4" y2="1328" stroke="#000" stroke-width="2.2" stroke-linecap="butt"/>
<line x1="1137.9" y1="1309.4" x2="1142.4" y2="1309.4" stroke="#000" stroke-width="2.2" stroke-linecap="butt"/>
<line x1="1137.9" y1="1290.9" x2="1142.4" y2="1290.9" stroke="#000" stroke-width="2.2" stroke-linecap="butt"/>
<line x1="1137.9" y1="1253.9" x2="1142.4" y2="1253.9" stroke="#000" stroke-width="2.2" stroke-linecap="butt"/>
<line x1="1137.9" y1="1235.4" x2="1142.4" y2="1235.4" stroke="#000" stroke-width="2.2" stroke-linecap="butt"/>
<line x1="1137.9" y1="1216.8" x2="1142.4" y2="1216.8" stroke="#000" stroke-width="2.2" stroke-linecap="butt"/>
<line x1="1137.9" y1="1198.3" x2="1142.4" y2="1198.3" stroke="#000" stroke-width="2.2" stroke-linecap="butt"/>
<line x1="1137.9" y1="1161.3" x2="1142.4" y2="1161.3" stroke="#000" stroke-width="2.2" stroke-linecap="butt"/>
<line x1="1137.9" y1="1142.8" x2="1142.4" y2="1142.8" stroke="#000" stroke-width="2.2" stroke-linecap="butt"/>
<line x1="1137.9" y1="1124.2" x2="1142.4" y2="1124.2" stroke="#000" stroke-width="2.2" stroke-linecap="butt"/>
<line x1="1137.9" y1="1105.7" x2="1142.4" y2="1105.7" stroke="#000" stroke-width="2.2" stroke-linecap="butt"/>
<line x1="1137.9" y1="1068.7" x2="1142.4" y2="1068.7" stroke="#000" stroke-width="2.2" stroke-linecap="butt"/>
<line x1="1133.4" y1="1365" x2="1142.4" y2="1365" stroke="#000" stroke-width="2.6" stroke-linecap="butt"/>
<text x="1129.4" y="1373.2" font-size="23" text-anchor="end">0</text>
<line x1="1133.4" y1="1272.4" x2="1142.4" y2="1272.4" stroke="#000" stroke-width="2.6" stroke-linecap="butt"/>
<text x="1129.4" y="1280.6" font-size="23" text-anchor="end">50</text>
<line x1="1133.4" y1="1179.8" x2="1142.4" y2="1179.8" stroke="#000" stroke-width="2.6" stroke-linecap="butt"/>
<text x="1129.4" y="1188" font-size="23" text-anchor="end">100</text>
<line x1="1133.4" y1="1087.2" x2="1142.4" y2="1087.2" stroke="#000" stroke-width="2.6" stroke-linecap="butt"/>
<text x="1129.4" y="1095.4" font-size="23" text-anchor="end">150</text>
<line x1="1156.7" y1="1365.6" x2="1156.7" y2="1370.6" stroke="#000" stroke-width="2" stroke-linecap="butt"/>
<line x1="1233.5" y1="1365.6" x2="1233.5" y2="1370.6" stroke="#000" stroke-width="2" stroke-linecap="butt"/>
<line x1="1249" y1="1365.6" x2="1249" y2="1370.6" stroke="#000" stroke-width="2" stroke-linecap="butt"/>
<line x1="1260.7" y1="1365.6" x2="1260.7" y2="1370.6" stroke="#000" stroke-width="2" stroke-linecap="butt"/>
<line x1="1268.5" y1="1365.6" x2="1268.5" y2="1370.6" stroke="#000" stroke-width="2" stroke-linecap="butt"/>
<line x1="1276.3" y1="1365.6" x2="1276.3" y2="1370.6" stroke="#000" stroke-width="2" stroke-linecap="butt"/>
<line x1="1282.8" y1="1365.6" x2="1282.8" y2="1370.6" stroke="#000" stroke-width="2" stroke-linecap="butt"/>
<line x1="1288" y1="1365.6" x2="1288" y2="1370.6" stroke="#000" stroke-width="2" stroke-linecap="butt"/>
<line x1="1291.9" y1="1365.6" x2="1291.9" y2="1370.6" stroke="#000" stroke-width="2" stroke-linecap="butt"/>
<line x1="1295.8" y1="1365.6" x2="1295.8" y2="1370.6" stroke="#000" stroke-width="2" stroke-linecap="butt"/>
<line x1="1329" y1="1365.6" x2="1329" y2="1370.6" stroke="#000" stroke-width="2" stroke-linecap="butt"/>
<line x1="1345.2" y1="1365.6" x2="1345.2" y2="1370.6" stroke="#000" stroke-width="2" stroke-linecap="butt"/>
<line x1="1356.8" y1="1365.6" x2="1356.8" y2="1370.6" stroke="#000" stroke-width="2" stroke-linecap="butt"/>
<line x1="1366.5" y1="1365.6" x2="1366.5" y2="1370.6" stroke="#000" stroke-width="2" stroke-linecap="butt"/>
<line x1="1373.7" y1="1365.6" x2="1373.7" y2="1370.6" stroke="#000" stroke-width="2" stroke-linecap="butt"/>
<line x1="1379.5" y1="1365.6" x2="1379.5" y2="1370.6" stroke="#000" stroke-width="2" stroke-linecap="butt"/>
<line x1="1385.5" y1="1365.6" x2="1385.5" y2="1370.6" stroke="#000" stroke-width="2" stroke-linecap="butt"/>
<line x1="1389.8" y1="1365.6" x2="1389.8" y2="1370.6" stroke="#000" stroke-width="2" stroke-linecap="butt"/>
<line x1="1421.8" y1="1365.6" x2="1421.8" y2="1370.6" stroke="#000" stroke-width="2" stroke-linecap="butt"/>
<line x1="1437.4" y1="1365.6" x2="1437.4" y2="1370.6" stroke="#000" stroke-width="2" stroke-linecap="butt"/>
<line x1="1449.1" y1="1365.6" x2="1449.1" y2="1370.6" stroke="#000" stroke-width="2" stroke-linecap="butt"/>
<line x1="1457.4" y1="1365.6" x2="1457.4" y2="1370.6" stroke="#000" stroke-width="2" stroke-linecap="butt"/>
<line x1="1464.7" y1="1365.6" x2="1464.7" y2="1370.6" stroke="#000" stroke-width="2" stroke-linecap="butt"/>
<line x1="1469.9" y1="1365.6" x2="1469.9" y2="1370.6" stroke="#000" stroke-width="2" stroke-linecap="butt"/>
<line x1="1474.5" y1="1365.6" x2="1474.5" y2="1370.6" stroke="#000" stroke-width="2" stroke-linecap="butt"/>
<line x1="1178.5" y1="1365.6" x2="1178.5" y2="1370.6" stroke="#000" stroke-width="2" stroke-linecap="butt"/>
<line x1="1181.5" y1="1365.6" x2="1181.5" y2="1370.6" stroke="#000" stroke-width="2" stroke-linecap="butt"/>
<line x1="1184.5" y1="1365.6" x2="1184.5" y2="1370.6" stroke="#000" stroke-width="2" stroke-linecap="butt"/>
<line x1="1187.5" y1="1365.6" x2="1187.5" y2="1370.6" stroke="#000" stroke-width="2" stroke-linecap="butt"/>
<line x1="1190.5" y1="1365.6" x2="1190.5" y2="1370.6" stroke="#000" stroke-width="2" stroke-linecap="butt"/>
<line x1="1192.5" y1="1365.6" x2="1192.5" y2="1370.6" stroke="#000" stroke-width="2" stroke-linecap="butt"/>
<line x1="1194.5" y1="1365.6" x2="1194.5" y2="1370.6" stroke="#000" stroke-width="2" stroke-linecap="butt"/>
<line x1="1195.5" y1="1365.6" x2="1195.5" y2="1370.6" stroke="#000" stroke-width="2" stroke-linecap="butt"/>
<line x1="1196.5" y1="1365.6" x2="1196.5" y2="1370.6" stroke="#000" stroke-width="2" stroke-linecap="butt"/>
<line x1="1197.5" y1="1365.6" x2="1197.5" y2="1370.6" stroke="#000" stroke-width="2" stroke-linecap="butt"/>
<line x1="1198.5" y1="1365.6" x2="1198.5" y2="1370.6" stroke="#000" stroke-width="2" stroke-linecap="butt"/>
<line x1="1200.5" y1="1365.6" x2="1200.5" y2="1370.6" stroke="#000" stroke-width="2" stroke-linecap="butt"/>
<line x1="1203.5" y1="1365.6" x2="1203.5" y2="1370.6" stroke="#000" stroke-width="2" stroke-linecap="butt"/>
<line x1="1206.5" y1="1365.6" x2="1206.5" y2="1370.6" stroke="#000" stroke-width="2" stroke-linecap="butt"/>
<line x1="1209.5" y1="1365.6" x2="1209.5" y2="1370.6" stroke="#000" stroke-width="2" stroke-linecap="butt"/>
<line x1="1212.5" y1="1365.6" x2="1212.5" y2="1370.6" stroke="#000" stroke-width="2" stroke-linecap="butt"/>
<line x1="1174.9" y1="1365.6" x2="1174.9" y2="1375.6" stroke="#000" stroke-width="2.6" stroke-linecap="butt"/>
<line x1="1216" y1="1365.6" x2="1216" y2="1375.6" stroke="#000" stroke-width="2.6" stroke-linecap="butt"/>
<line x1="1301" y1="1365.6" x2="1301" y2="1375.6" stroke="#000" stroke-width="2.6" stroke-linecap="butt"/>
<line x1="1395" y1="1365.6" x2="1395" y2="1375.6" stroke="#000" stroke-width="2.6" stroke-linecap="butt"/>
<line x1="1184.2" y1="1316.5" x2="1308.2" y2="1316.5" stroke="#000" stroke-width="3.2" stroke-linecap="butt"/>
<line x1="1184.2" y1="1310.5" x2="1184.2" y2="1322.5" stroke="#000" stroke-width="3.2" stroke-linecap="butt"/>
<line x1="1308.2" y1="1310.5" x2="1308.2" y2="1322.5" stroke="#000" stroke-width="3.2" stroke-linecap="butt"/>
<text x="1293" y="1288" font-size="31.5" text-anchor="middle">81.1</text>
<path d="M1145.2 1703.6L1145.2 1703.6L1146.2 1703.6L1147.2 1703.6L1148.2 1703.6L1149.2 1703.6L1150.2 1703.6L1151.2 1703.6L1152.2 1703.6L1153.2 1703.6L1154.2 1703.6L1155.2 1703.6L1156.2 1703.6L1157.2 1703.6L1158.2 1703.6L1159.2 1703.6L1160.2 1703.6L1161.2 1703.6L1162.2 1703.6L1163.2 1703.6L1164.2 1703.6L1165.2 1703.6L1166.2 1703.6L1167.2 1703.6L1168.2 1703.6L1169.2 1703.6L1170.2 1703.6L1171.2 1703.6L1172.2 1703.6L1173.2 1703.6L1174.2 1703.6L1175.2 1703.6L1176.2 1703.6L1177.2 1703.6L1178.2 1703.6L1179.2 1703.6L1180.2 1703.6L1181.2 1703.6L1182.2 1703.6L1183.2 1703.6L1184.2 1703.6L1185.2 1703.6L1186.2 1703.6L1187.2 1703.6L1188.2 1703.6L1189.2 1703.6L1190.2 1703.6L1191.2 1703.6L1192.2 1703.6L1193.2 1703.6L1194.2 1703.6L1195.2 1703.6L1196.2 1703.6L1197.2 1703.6L1198.2 1703.6L1199.2 1703.6L1200.2 1703.6L1201.2 1686.2L1202.2 1552.5L1203.2 1534.4L1204.2 1488L1205.2 1481.8L1206.2 1469.5L1207.2 1412.1L1208.2 1459L1209.2 1486.6L1210.2 1513.9L1211.2 1485.5L1212.2 1564L1213.2 1461.6L1214.2 1512.1L1215.2 1550.9L1216.2 1478.4L1217.2 1467.1L1218.2 1462.7L1219.2 1472.7L1220.2 1572.9L1221.2 1583.1L1222.2 1559.5L1223.2 1571.2L1224.2 1557.5L1225.2 1576.2L1226.2 1556.1L1227.2 1563.9L1228.2 1559.6L1229.2 1572L1230.2 1553.1L1231.2 1549.3L1232.2 1584.3L1233.2 1559.4L1234.2 1569.7L1235.2 1584.2L1236.2 1585.5L1237.2 1535.7L1238.2 1616.6L1239.2 1621.5L1240.2 1568.7L1241.2 1637.8L1242.2 1632.4L1243.2 1639.7L1244.2 1629.3L1245.2 1627.1L1246.2 1602.2L1247.2 1608.6L1248.2 1612L1249.2 1651.1L1250.2 1635.4L1251.2 1632.4L1252.2 1620L1253.2 1616L1254.2 1618.1L1255.2 1610.7L1256.2 1622.5L1257.2 1616L1258.2 1636L1259.2 1661.6L1260.2 1642L1261.2 1617.3L1262.2 1637.7L1263.2 1645.3L1264.2 1614.9L1265.2 1661.7L1266.2 1656.8L1267.2 1643.3L1268.2 1632.7L1269.2 1623.8L1270.2 1635.8L1271.2 1651.4L1272.2 1665.9L1273.2 1662.2L1274.2 1642.6L1275.2 1650.4L1276.2 1663.2L1277.2 1663L1278.2 1641.6L1279.2 1670.5L1280.2 1644.9L1281.2 1639.4L1282.2 1655L1283.2 1677.1L1284.2 1630.9L1285.2 1650.8L1286.2 1663.6L1287.2 1680.2L1288.2 1663.7L1289.2 1660.9L1290.2 1643.3L1291.2 1702.5L1292.2 1673.3L1293.2 1690.7L1294.2 1690.1L1295.2 1659.3L1296.2 1657.8L1297.2 1683.3L1298.2 1637.3L1299.2 1669.4L1300.2 1672.1L1301.2 1679.6L1302.2 1701.6L1303.2 1691.8L1304.2 1666.1L1305.2 1681.2L1306.2 1653.4L1307.2 1660.9L1308.2 1676.7L1309.2 1677.7L1310.2 1676.4L1311.2 1692.4L1312.2 1650.1L1313.2 1669.1L1314.2 1688.5L1315.2 1688L1316.2 1677L1317.2 1686.6L1318.2 1680.4L1319.2 1672.6L1320.2 1663.3L1321.2 1676.5L1322.2 1674L1323.2 1668.4L1324.2 1689.5L1325.2 1675.3L1326.2 1660L1327.2 1677.8L1328.2 1681.2L1329.2 1677L1330.2 1687L1331.2 1672.8L1332.2 1685.6L1333.2 1681L1334.2 1666.7L1335.2 1680.9L1336.2 1692.6L1337.2 1685.5L1338.2 1693.8L1339.2 1659.9L1340.2 1665L1341.2 1668.6L1342.2 1693.5L1343.2 1682L1344.2 1676.1L1345.2 1671.4L1346.2 1667.2L1347.2 1689.6L1348.2 1659L1349.2 1644.7L1350.2 1670.1L1351.2 1626.6L1352.2 1651L1353.2 1658.4L1354.2 1673.9L1355.2 1602.5L1356.2 1607.4L1357.2 1599.4L1358.2 1681.2L1359.2 1644.2L1360.2 1617.3L1361.2 1580.9L1362.2 1574.3L1363.2 1572.8L1364.2 1531.8L1365.2 1584.5L1366.2 1600.8L1367.2 1578.7L1368.2 1595.1L1369.2 1571L1370.2 1610L1371.2 1663.2L1372.2 1639.9L1373.2 1630.2L1374.2 1655.4L1375.2 1577.9L1376.2 1595.5L1377.2 1596.3L1378.2 1632.3L1379.2 1643.5L1380.2 1633.3L1381.2 1692.3L1382.2 1681.3L1383.2 1655.4L1384.2 1662.8L1385.2 1666.2L1386.2 1680.3L1387.2 1682.1L1388.2 1676.5L1389.2 1687.1L1390.2 1698.1L1391.2 1683.5L1392.2 1675.6L1393.2 1682.9L1394.2 1690.3L1395.2 1684.2L1396.2 1699.5L1397.2 1680.6L1398.2 1692.8L1399.2 1693L1400.2 1696.4L1401.2 1696.8L1402.2 1700.9L1403.2 1703.6L1404.2 1703.6L1405.2 1700.9L1406.2 1703.6L1407.2 1703.6L1408.2 1703.6L1409.2 1703.6L1410.2 1703.6L1411.2 1703.6L1412.2 1703.6L1413.2 1703.6L1414.2 1703.6L1415.2 1703.6L1416.2 1703.6L1417.2 1703.6L1418.2 1703.6L1419.2 1703.6L1420.2 1703.6L1421.2 1703.6L1422.2 1703.6L1423.2 1703.6L1424.2 1703.6L1425.2 1703.6L1426.2 1703.6L1427.2 1703.6L1428.2 1703.6L1429.2 1703.6L1430.2 1703.6L1431.2 1703.6L1432.2 1703.6L1433.2 1703.6L1434.2 1703.6L1435.2 1703.6L1436.2 1703.6L1437.2 1703.6L1438.2 1703.6L1439.2 1703.6L1440.2 1703.6L1441.2 1703.6L1442.2 1703.6L1443.2 1703.6L1444.2 1703.6L1445.2 1703.6L1446.2 1703.6L1447.2 1703.6L1448.2 1703.6L1449.2 1703.6L1450.2 1703.6L1451.2 1703.6L1452.2 1703.6L1453.2 1703.6L1454.2 1703.6L1455.2 1703.6L1456.2 1703.6L1457.2 1703.6L1458.2 1703.6L1459.2 1703.6L1460.2 1703.6L1461.2 1703.6L1462.2 1703.6L1463.2 1703.6L1464.2 1703.6L1465.2 1703.6L1466.2 1703.6L1467.2 1703.6L1468.2 1703.6L1469.2 1703.6L1470.2 1703.6L1471.2 1703.6L1472.2 1703.6L1473.2 1703.6L1474.2 1703.6L1475.2 1703.6L1476.2 1703.6L1477.2 1703.6L1477.2 1703.6Z" fill="#f0b9cf" stroke="#c8457b" stroke-width="1.4" stroke-linejoin="round"/>
<rect x="1143.7" y="1395.2" width="335.2" height="309.3" fill="none" stroke="#000" stroke-width="2.8"/>
<line x1="1139.2" y1="1692.6" x2="1143.7" y2="1692.6" stroke="#000" stroke-width="2.2" stroke-linecap="butt"/>
<line x1="1139.2" y1="1681.6" x2="1143.7" y2="1681.6" stroke="#000" stroke-width="2.2" stroke-linecap="butt"/>
<line x1="1139.2" y1="1670.6" x2="1143.7" y2="1670.6" stroke="#000" stroke-width="2.2" stroke-linecap="butt"/>
<line x1="1139.2" y1="1659.6" x2="1143.7" y2="1659.6" stroke="#000" stroke-width="2.2" stroke-linecap="butt"/>
<line x1="1139.2" y1="1637.6" x2="1143.7" y2="1637.6" stroke="#000" stroke-width="2.2" stroke-linecap="butt"/>
<line x1="1139.2" y1="1626.6" x2="1143.7" y2="1626.6" stroke="#000" stroke-width="2.2" stroke-linecap="butt"/>
<line x1="1139.2" y1="1615.6" x2="1143.7" y2="1615.6" stroke="#000" stroke-width="2.2" stroke-linecap="butt"/>
<line x1="1139.2" y1="1604.6" x2="1143.7" y2="1604.6" stroke="#000" stroke-width="2.2" stroke-linecap="butt"/>
<line x1="1139.2" y1="1582.6" x2="1143.7" y2="1582.6" stroke="#000" stroke-width="2.2" stroke-linecap="butt"/>
<line x1="1139.2" y1="1571.6" x2="1143.7" y2="1571.6" stroke="#000" stroke-width="2.2" stroke-linecap="butt"/>
<line x1="1139.2" y1="1560.6" x2="1143.7" y2="1560.6" stroke="#000" stroke-width="2.2" stroke-linecap="butt"/>
<line x1="1139.2" y1="1549.6" x2="1143.7" y2="1549.6" stroke="#000" stroke-width="2.2" stroke-linecap="butt"/>
<line x1="1139.2" y1="1527.6" x2="1143.7" y2="1527.6" stroke="#000" stroke-width="2.2" stroke-linecap="butt"/>
<line x1="1139.2" y1="1516.6" x2="1143.7" y2="1516.6" stroke="#000" stroke-width="2.2" stroke-linecap="butt"/>
<line x1="1139.2" y1="1505.6" x2="1143.7" y2="1505.6" stroke="#000" stroke-width="2.2" stroke-linecap="butt"/>
<line x1="1139.2" y1="1494.6" x2="1143.7" y2="1494.6" stroke="#000" stroke-width="2.2" stroke-linecap="butt"/>
<line x1="1139.2" y1="1472.6" x2="1143.7" y2="1472.6" stroke="#000" stroke-width="2.2" stroke-linecap="butt"/>
<line x1="1139.2" y1="1461.6" x2="1143.7" y2="1461.6" stroke="#000" stroke-width="2.2" stroke-linecap="butt"/>
<line x1="1139.2" y1="1450.6" x2="1143.7" y2="1450.6" stroke="#000" stroke-width="2.2" stroke-linecap="butt"/>
<line x1="1139.2" y1="1439.6" x2="1143.7" y2="1439.6" stroke="#000" stroke-width="2.2" stroke-linecap="butt"/>
<line x1="1139.2" y1="1417.6" x2="1143.7" y2="1417.6" stroke="#000" stroke-width="2.2" stroke-linecap="butt"/>
<line x1="1139.2" y1="1406.6" x2="1143.7" y2="1406.6" stroke="#000" stroke-width="2.2" stroke-linecap="butt"/>
<line x1="1134.7" y1="1703.6" x2="1143.7" y2="1703.6" stroke="#000" stroke-width="2.6" stroke-linecap="butt"/>
<text x="1130.7" y="1711.8" font-size="23" text-anchor="end">0</text>
<line x1="1134.7" y1="1648.6" x2="1143.7" y2="1648.6" stroke="#000" stroke-width="2.6" stroke-linecap="butt"/>
<text x="1130.7" y="1656.8" font-size="23" text-anchor="end">10</text>
<line x1="1134.7" y1="1593.6" x2="1143.7" y2="1593.6" stroke="#000" stroke-width="2.6" stroke-linecap="butt"/>
<text x="1130.7" y="1601.8" font-size="23" text-anchor="end">20</text>
<line x1="1134.7" y1="1538.6" x2="1143.7" y2="1538.6" stroke="#000" stroke-width="2.6" stroke-linecap="butt"/>
<text x="1130.7" y="1546.8" font-size="23" text-anchor="end">30</text>
<line x1="1134.7" y1="1483.6" x2="1143.7" y2="1483.6" stroke="#000" stroke-width="2.6" stroke-linecap="butt"/>
<text x="1130.7" y="1491.8" font-size="23" text-anchor="end">40</text>
<line x1="1134.7" y1="1428.6" x2="1143.7" y2="1428.6" stroke="#000" stroke-width="2.6" stroke-linecap="butt"/>
<text x="1130.7" y="1436.8" font-size="23" text-anchor="end">50</text>
<line x1="1156.7" y1="1704.5" x2="1156.7" y2="1709.5" stroke="#000" stroke-width="2" stroke-linecap="butt"/>
<line x1="1233.5" y1="1704.5" x2="1233.5" y2="1709.5" stroke="#000" stroke-width="2" stroke-linecap="butt"/>
<line x1="1249" y1="1704.5" x2="1249" y2="1709.5" stroke="#000" stroke-width="2" stroke-linecap="butt"/>
<line x1="1260.7" y1="1704.5" x2="1260.7" y2="1709.5" stroke="#000" stroke-width="2" stroke-linecap="butt"/>
<line x1="1268.5" y1="1704.5" x2="1268.5" y2="1709.5" stroke="#000" stroke-width="2" stroke-linecap="butt"/>
<line x1="1276.3" y1="1704.5" x2="1276.3" y2="1709.5" stroke="#000" stroke-width="2" stroke-linecap="butt"/>
<line x1="1282.8" y1="1704.5" x2="1282.8" y2="1709.5" stroke="#000" stroke-width="2" stroke-linecap="butt"/>
<line x1="1288" y1="1704.5" x2="1288" y2="1709.5" stroke="#000" stroke-width="2" stroke-linecap="butt"/>
<line x1="1291.9" y1="1704.5" x2="1291.9" y2="1709.5" stroke="#000" stroke-width="2" stroke-linecap="butt"/>
<line x1="1295.8" y1="1704.5" x2="1295.8" y2="1709.5" stroke="#000" stroke-width="2" stroke-linecap="butt"/>
<line x1="1329" y1="1704.5" x2="1329" y2="1709.5" stroke="#000" stroke-width="2" stroke-linecap="butt"/>
<line x1="1345.2" y1="1704.5" x2="1345.2" y2="1709.5" stroke="#000" stroke-width="2" stroke-linecap="butt"/>
<line x1="1356.8" y1="1704.5" x2="1356.8" y2="1709.5" stroke="#000" stroke-width="2" stroke-linecap="butt"/>
<line x1="1366.5" y1="1704.5" x2="1366.5" y2="1709.5" stroke="#000" stroke-width="2" stroke-linecap="butt"/>
<line x1="1373.7" y1="1704.5" x2="1373.7" y2="1709.5" stroke="#000" stroke-width="2" stroke-linecap="butt"/>
<line x1="1379.5" y1="1704.5" x2="1379.5" y2="1709.5" stroke="#000" stroke-width="2" stroke-linecap="butt"/>
<line x1="1385.5" y1="1704.5" x2="1385.5" y2="1709.5" stroke="#000" stroke-width="2" stroke-linecap="butt"/>
<line x1="1389.8" y1="1704.5" x2="1389.8" y2="1709.5" stroke="#000" stroke-width="2" stroke-linecap="butt"/>
<line x1="1421.8" y1="1704.5" x2="1421.8" y2="1709.5" stroke="#000" stroke-width="2" stroke-linecap="butt"/>
<line x1="1437.4" y1="1704.5" x2="1437.4" y2="1709.5" stroke="#000" stroke-width="2" stroke-linecap="butt"/>
<line x1="1449.1" y1="1704.5" x2="1449.1" y2="1709.5" stroke="#000" stroke-width="2" stroke-linecap="butt"/>
<line x1="1457.4" y1="1704.5" x2="1457.4" y2="1709.5" stroke="#000" stroke-width="2" stroke-linecap="butt"/>
<line x1="1464.7" y1="1704.5" x2="1464.7" y2="1709.5" stroke="#000" stroke-width="2" stroke-linecap="butt"/>
<line x1="1469.9" y1="1704.5" x2="1469.9" y2="1709.5" stroke="#000" stroke-width="2" stroke-linecap="butt"/>
<line x1="1474.5" y1="1704.5" x2="1474.5" y2="1709.5" stroke="#000" stroke-width="2" stroke-linecap="butt"/>
<line x1="1178.5" y1="1704.5" x2="1178.5" y2="1709.5" stroke="#000" stroke-width="2" stroke-linecap="butt"/>
<line x1="1181.5" y1="1704.5" x2="1181.5" y2="1709.5" stroke="#000" stroke-width="2" stroke-linecap="butt"/>
<line x1="1184.5" y1="1704.5" x2="1184.5" y2="1709.5" stroke="#000" stroke-width="2" stroke-linecap="butt"/>
<line x1="1187.5" y1="1704.5" x2="1187.5" y2="1709.5" stroke="#000" stroke-width="2" stroke-linecap="butt"/>
<line x1="1190.5" y1="1704.5" x2="1190.5" y2="1709.5" stroke="#000" stroke-width="2" stroke-linecap="butt"/>
<line x1="1192.5" y1="1704.5" x2="1192.5" y2="1709.5" stroke="#000" stroke-width="2" stroke-linecap="butt"/>
<line x1="1194.5" y1="1704.5" x2="1194.5" y2="1709.5" stroke="#000" stroke-width="2" stroke-linecap="butt"/>
<line x1="1195.5" y1="1704.5" x2="1195.5" y2="1709.5" stroke="#000" stroke-width="2" stroke-linecap="butt"/>
<line x1="1196.5" y1="1704.5" x2="1196.5" y2="1709.5" stroke="#000" stroke-width="2" stroke-linecap="butt"/>
<line x1="1197.5" y1="1704.5" x2="1197.5" y2="1709.5" stroke="#000" stroke-width="2" stroke-linecap="butt"/>
<line x1="1198.5" y1="1704.5" x2="1198.5" y2="1709.5" stroke="#000" stroke-width="2" stroke-linecap="butt"/>
<line x1="1200.5" y1="1704.5" x2="1200.5" y2="1709.5" stroke="#000" stroke-width="2" stroke-linecap="butt"/>
<line x1="1203.5" y1="1704.5" x2="1203.5" y2="1709.5" stroke="#000" stroke-width="2" stroke-linecap="butt"/>
<line x1="1206.5" y1="1704.5" x2="1206.5" y2="1709.5" stroke="#000" stroke-width="2" stroke-linecap="butt"/>
<line x1="1209.5" y1="1704.5" x2="1209.5" y2="1709.5" stroke="#000" stroke-width="2" stroke-linecap="butt"/>
<line x1="1212.5" y1="1704.5" x2="1212.5" y2="1709.5" stroke="#000" stroke-width="2" stroke-linecap="butt"/>
<line x1="1174.9" y1="1704.5" x2="1174.9" y2="1714.5" stroke="#000" stroke-width="2.6" stroke-linecap="butt"/>
<line x1="1216" y1="1704.5" x2="1216" y2="1714.5" stroke="#000" stroke-width="2.6" stroke-linecap="butt"/>
<line x1="1301" y1="1704.5" x2="1301" y2="1714.5" stroke="#000" stroke-width="2.6" stroke-linecap="butt"/>
<line x1="1395" y1="1704.5" x2="1395" y2="1714.5" stroke="#000" stroke-width="2.6" stroke-linecap="butt"/>
<text x="1195.7" y="1737.5" font-size="23" text-anchor="middle">0</text>
<text x="1305.2" y="1737.5" font-size="23" text-anchor="middle">10<tspan dy="-9" font-size="15">4</tspan></text>
<text x="1399.2" y="1737.5" font-size="23" text-anchor="middle">10<tspan dy="-9" font-size="15">5</tspan></text>
<line x1="1184.2" y1="1655.3" x2="1308.2" y2="1655.3" stroke="#000" stroke-width="3.2" stroke-linecap="butt"/>
<line x1="1184.2" y1="1649.3" x2="1184.2" y2="1661.3" stroke="#000" stroke-width="3.2" stroke-linecap="butt"/>
<line x1="1308.2" y1="1649.3" x2="1308.2" y2="1661.3" stroke="#000" stroke-width="3.2" stroke-linecap="butt"/>
<text x="1293" y="1613" font-size="31.5" text-anchor="middle">71.9</text>
<!-- panel d -->
<text x="4" y="1840" font-size="38" text-anchor="start" font-weight="bold">d</text>
<rect x="132.9" y="2224.6" width="34.4" height="9.8" fill="#d1d3d4" stroke="#000" stroke-width="3"/>
<rect x="174.1" y="1986.6" width="34.2" height="247.8" fill="#d35283" stroke="#000" stroke-width="3"/>
<rect x="273.9" y="2224.6" width="34.7" height="9.8" fill="#d1d3d4" stroke="#000" stroke-width="3"/>
<rect x="314.6" y="2095.8" width="34.4" height="138.6" fill="#d35283" stroke="#000" stroke-width="3"/>
<line x1="191.2" y1="2006.2" x2="191.2" y2="1962.2" stroke="#000" stroke-width="3" stroke-linecap="butt"/>
<line x1="184.4" y1="2006.2" x2="198" y2="2006.2" stroke="#000" stroke-width="3" stroke-linecap="butt"/>
<line x1="184.4" y1="1962.2" x2="198" y2="1962.2" stroke="#000" stroke-width="3" stroke-linecap="butt"/>
<line x1="331.8" y1="2101.6" x2="331.8" y2="2083.6" stroke="#000" stroke-width="3" stroke-linecap="butt"/>
<line x1="325" y1="2101.6" x2="338.6" y2="2101.6" stroke="#000" stroke-width="3" stroke-linecap="butt"/>
<line x1="325" y1="2083.6" x2="338.6" y2="2083.6" stroke="#000" stroke-width="3" stroke-linecap="butt"/>
<circle cx="191.2" cy="1937.7" r="4.7" fill="#000"/>
<circle cx="191.2" cy="1952.4" r="4.7" fill="#000"/>
<circle cx="182.2" cy="2022.5" r="4.7" fill="#000"/>
<circle cx="199.9" cy="2021.7" r="4.7" fill="#000"/>
<circle cx="332.2" cy="2073" r="4.7" fill="#000"/>
<circle cx="330.3" cy="2085.3" r="4.7" fill="#000"/>
<circle cx="322.7" cy="2109.7" r="4.7" fill="#000"/>
<circle cx="341.2" cy="2107.3" r="4.7" fill="#000"/>
<circle cx="139.7" cy="2221.7" r="4.7" fill="#000"/>
<circle cx="146.9" cy="2221.7" r="4.7" fill="#000"/>
<circle cx="154.2" cy="2221.7" r="4.7" fill="#000"/>
<circle cx="161.4" cy="2221.7" r="4.7" fill="#000"/>
<circle cx="280.7" cy="2221.7" r="4.7" fill="#000"/>
<circle cx="287.9" cy="2221.7" r="4.7" fill="#000"/>
<circle cx="295.2" cy="2221.7" r="4.7" fill="#000"/>
<circle cx="302.4" cy="2221.7" r="4.7" fill="#000"/>
<line x1="110.6" y1="1878" x2="110.6" y2="2234.4" stroke="#000" stroke-width="3.2" stroke-linecap="butt"/>
<line x1="98.6" y1="2234.4" x2="360.7" y2="2234.4" stroke="#000" stroke-width="3.4" stroke-linecap="butt"/>
<line x1="99.1" y1="2234.4" x2="110.6" y2="2234.4" stroke="#000" stroke-width="3" stroke-linecap="butt"/>
<text x="93.6" y="2243.6" font-size="26" text-anchor="end">0</text>
<line x1="99.1" y1="2152.9" x2="110.6" y2="2152.9" stroke="#000" stroke-width="3" stroke-linecap="butt"/>
<text x="93.6" y="2162.1" font-size="26" text-anchor="end">5</text>
<line x1="99.1" y1="2071.4" x2="110.6" y2="2071.4" stroke="#000" stroke-width="3" stroke-linecap="butt"/>
<text x="93.6" y="2080.6" font-size="26" text-anchor="end">10</text>
<line x1="99.1" y1="1989.9" x2="110.6" y2="1989.9" stroke="#000" stroke-width="3" stroke-linecap="butt"/>
<text x="93.6" y="1999.1" font-size="26" text-anchor="end">15</text>
<line x1="99.1" y1="1908.4" x2="110.6" y2="1908.4" stroke="#000" stroke-width="3" stroke-linecap="butt"/>
<text x="93.6" y="1917.6" font-size="26" text-anchor="end">20</text>
<line x1="170.3" y1="2234.4" x2="170.3" y2="2247.4" stroke="#000" stroke-width="3.2" stroke-linecap="butt"/>
<line x1="311.3" y1="2234.4" x2="311.3" y2="2247.4" stroke="#000" stroke-width="3.2" stroke-linecap="butt"/>
<path d="M168.7 1883.5V1869.2H311.3V1883.5" stroke="#000" stroke-width="3.4" fill="none" stroke-linejoin="miter"/>
<text x="240" y="1860" font-size="24.5" text-anchor="middle">0.004</text>
<path d="M148 1928.8V1915.3H191.2V1928.8" stroke="#000" stroke-width="3.4" fill="none" stroke-linejoin="miter"/>
<text x="168.7" y="1907" font-size="24.5" text-anchor="middle">&lt;0.0001</text>
<path d="M293.4 2065.8V2052.2H330.3V2065.8" stroke="#000" stroke-width="3.4" fill="none" stroke-linejoin="miter"/>
<text x="310.5" y="2040.8" font-size="24.5" text-anchor="middle">&lt;0.0001</text>
<text transform="translate(38.8,2057.4) rotate(-90)" font-size="35.5" text-anchor="middle">IL-1&#945; (pg/ml)</text>
<text x="168" y="2276" font-size="27.5" text-anchor="middle">WT</text>
<text x="219.7" y="2276" font-size="27.5" text-anchor="start"><tspan font-style="italic">LysM</tspan><tspan dx="2.8" dy="-9.9" font-size="16.5">Cre</tspan><tspan dy="9.9" dx="9.4" font-style="italic">Pglyrp1</tspan><tspan dy="-9.9" dx="0.8" font-size="16.5">fl/fl</tspan></text>
<rect x="564" y="2230.3" width="34.4" height="3.6" fill="#d1d3d4" stroke="#000" stroke-width="3"/>
<rect x="604.1" y="1965.8" width="34.2" height="268.1" fill="#d35283" stroke="#000" stroke-width="3"/>
<rect x="705" y="2231.5" width="34.7" height="2.4" fill="#d1d3d4" stroke="#000" stroke-width="3"/>
<rect x="744.6" y="2067.8" width="34.7" height="166.1" fill="#d35283" stroke="#000" stroke-width="3"/>
<line x1="621.2" y1="1976.2" x2="621.2" y2="1950.4" stroke="#000" stroke-width="3" stroke-linecap="butt"/>
<line x1="614.4" y1="1976.2" x2="628" y2="1976.2" stroke="#000" stroke-width="3" stroke-linecap="butt"/>
<line x1="614.4" y1="1950.4" x2="628" y2="1950.4" stroke="#000" stroke-width="3" stroke-linecap="butt"/>
<line x1="762.2" y1="2074.9" x2="762.2" y2="2060" stroke="#000" stroke-width="3" stroke-linecap="butt"/>
<line x1="755.4" y1="2074.9" x2="769" y2="2074.9" stroke="#000" stroke-width="3" stroke-linecap="butt"/>
<line x1="755.4" y1="2060" x2="769" y2="2060" stroke="#000" stroke-width="3" stroke-linecap="butt"/>
<circle cx="621.2" cy="1937.3" r="4.7" fill="#000"/>
<circle cx="621.2" cy="1949.2" r="4.7" fill="#000"/>
<circle cx="621.2" cy="1976.2" r="4.7" fill="#000"/>
<circle cx="621.2" cy="1993.1" r="4.7" fill="#000"/>
<circle cx="762.2" cy="2048.1" r="4.7" fill="#000"/>
<circle cx="752.7" cy="2078" r="4.7" fill="#000"/>
<circle cx="771.1" cy="2078" r="4.7" fill="#000"/>
<circle cx="762.2" cy="2061.6" r="4.7" fill="#000"/>
<circle cx="570.7" cy="2229.9" r="4.7" fill="#000"/>
<circle cx="577.9" cy="2229.9" r="4.7" fill="#000"/>
<circle cx="585.2" cy="2229.9" r="4.7" fill="#000"/>
<circle cx="592.4" cy="2229.9" r="4.7" fill="#000"/>
<circle cx="711.7" cy="2229.9" r="4.7" fill="#000"/>
<circle cx="718.9" cy="2229.9" r="4.7" fill="#000"/>
<circle cx="726.2" cy="2229.9" r="4.7" fill="#000"/>
<circle cx="733.4" cy="2229.9" r="4.7" fill="#000"/>
<line x1="541.7" y1="1878" x2="541.7" y2="2233.9" stroke="#000" stroke-width="3.2" stroke-linecap="butt"/>
<line x1="529.7" y1="2233.9" x2="792" y2="2233.9" stroke="#000" stroke-width="3.4" stroke-linecap="butt"/>
<line x1="530.2" y1="2233.9" x2="541.7" y2="2233.9" stroke="#000" stroke-width="3" stroke-linecap="butt"/>
<text x="524.7" y="2243.1" font-size="26" text-anchor="end">0</text>
<line x1="530.2" y1="2115.3" x2="541.7" y2="2115.3" stroke="#000" stroke-width="3" stroke-linecap="butt"/>
<text x="524.7" y="2124.5" font-size="26" text-anchor="end">50</text>
<line x1="530.2" y1="1996.6" x2="541.7" y2="1996.6" stroke="#000" stroke-width="3" stroke-linecap="butt"/>
<text x="524.7" y="2005.8" font-size="26" text-anchor="end">100</text>
<line x1="530.2" y1="1878" x2="541.7" y2="1878" stroke="#000" stroke-width="3" stroke-linecap="butt"/>
<text x="524.7" y="1887.2" font-size="26" text-anchor="end">150</text>
<line x1="601.4" y1="2233.9" x2="601.4" y2="2246.9" stroke="#000" stroke-width="3.2" stroke-linecap="butt"/>
<line x1="743.8" y1="2233.9" x2="743.8" y2="2246.9" stroke="#000" stroke-width="3.2" stroke-linecap="butt"/>
<path d="M602.2 1883.5V1869.2H745.4V1883.5" stroke="#000" stroke-width="3.4" fill="none" stroke-linejoin="miter"/>
<text x="674" y="1860" font-size="24.5" text-anchor="middle">0.0004</text>
<path d="M578.6 1928.8V1915.3H621.2V1928.8" stroke="#000" stroke-width="3.4" fill="none" stroke-linejoin="miter"/>
<text x="598.7" y="1907" font-size="24.5" text-anchor="middle">&lt;0.0001</text>
<path d="M725.6 2032.7V2019.7H762.2V2032.7" stroke="#000" stroke-width="3.4" fill="none" stroke-linejoin="miter"/>
<text x="741.9" y="2008.3" font-size="24.5" text-anchor="middle">&lt;0.0001</text>
<text transform="translate(466.6,2056.5) rotate(-90)" font-size="35.5" text-anchor="middle">IL-6 (pg/ml)</text>
<text x="596.8" y="2276" font-size="27.5" text-anchor="middle">WT</text>
<text x="647" y="2276" font-size="27.5" text-anchor="start"><tspan font-style="italic">LysM</tspan><tspan dx="2.8" dy="-9.9" font-size="16.5">Cre</tspan><tspan dy="9.9" dx="9.4" font-style="italic">Pglyrp1</tspan><tspan dy="-9.9" dx="0.8" font-size="16.5">fl/fl</tspan></text>
<rect x="983.4" y="2120" width="34.4" height="115.3" fill="#d1d3d4" stroke="#000" stroke-width="3"/>
<rect x="1025.4" y="1957.1" width="33.1" height="278.2" fill="#d35283" stroke="#000" stroke-width="3"/>
<rect x="1125" y="2142.6" width="34.7" height="92.7" fill="#d1d3d4" stroke="#000" stroke-width="3"/>
<rect x="1165.6" y="2122.3" width="34.2" height="113" fill="#d35283" stroke="#000" stroke-width="3"/>
<line x1="1000.6" y1="2132.3" x2="1000.6" y2="2102.1" stroke="#000" stroke-width="3" stroke-linecap="butt"/>
<line x1="993.8" y1="2132.3" x2="1007.4" y2="2132.3" stroke="#000" stroke-width="3" stroke-linecap="butt"/>
<line x1="993.8" y1="2102.1" x2="1007.4" y2="2102.1" stroke="#000" stroke-width="3" stroke-linecap="butt"/>
<line x1="1041.2" y1="1976.8" x2="1041.2" y2="1939.2" stroke="#000" stroke-width="3" stroke-linecap="butt"/>
<line x1="1034.4" y1="1976.8" x2="1048" y2="1976.8" stroke="#000" stroke-width="3" stroke-linecap="butt"/>
<line x1="1034.4" y1="1939.2" x2="1048" y2="1939.2" stroke="#000" stroke-width="3" stroke-linecap="butt"/>
<line x1="1182.2" y1="2124" x2="1182.2" y2="2111.6" stroke="#000" stroke-width="3" stroke-linecap="butt"/>
<line x1="1175.4" y1="2124" x2="1189" y2="2124" stroke="#000" stroke-width="3" stroke-linecap="butt"/>
<line x1="1175.4" y1="2111.6" x2="1189" y2="2111.6" stroke="#000" stroke-width="3" stroke-linecap="butt"/>
<circle cx="1000.5" cy="2075.3" r="4.7" fill="#000"/>
<circle cx="1000.5" cy="2114" r="4.7" fill="#000"/>
<circle cx="991.5" cy="2140.2" r="4.7" fill="#000"/>
<circle cx="1009.2" cy="2140.2" r="4.7" fill="#000"/>
<circle cx="1041.2" cy="1911.9" r="4.7" fill="#000"/>
<circle cx="1041.2" cy="1936.6" r="4.7" fill="#000"/>
<circle cx="1041.2" cy="1974.9" r="4.7" fill="#000"/>
<circle cx="1041.2" cy="2005.3" r="4.7" fill="#000"/>
<circle cx="1182.2" cy="2098.3" r="4.7" fill="#000"/>
<circle cx="1182.2" cy="2121.4" r="4.7" fill="#000"/>
<circle cx="1173.2" cy="2131.4" r="4.7" fill="#000"/>
<circle cx="1190.8" cy="2126.9" r="4.7" fill="#000"/>
<circle cx="1131.2" cy="2140.2" r="4.7" fill="#000"/>
<circle cx="1138.4" cy="2140.2" r="4.7" fill="#000"/>
<circle cx="1145.7" cy="2140.2" r="4.7" fill="#000"/>
<circle cx="1152.9" cy="2140.2" r="4.7" fill="#000"/>
<line x1="961.7" y1="1878.6" x2="961.7" y2="2235.3" stroke="#000" stroke-width="3.2" stroke-linecap="butt"/>
<line x1="949.7" y1="2235.3" x2="1211.7" y2="2235.3" stroke="#000" stroke-width="3.4" stroke-linecap="butt"/>
<line x1="950.2" y1="2235.3" x2="961.7" y2="2235.3" stroke="#000" stroke-width="3" stroke-linecap="butt"/>
<text x="944.7" y="2244.5" font-size="26" text-anchor="end">0</text>
<line x1="950.2" y1="2116.4" x2="961.7" y2="2116.4" stroke="#000" stroke-width="3" stroke-linecap="butt"/>
<text x="944.7" y="2125.6" font-size="26" text-anchor="end">5</text>
<line x1="950.2" y1="1997.5" x2="961.7" y2="1997.5" stroke="#000" stroke-width="3" stroke-linecap="butt"/>
<text x="944.7" y="2006.7" font-size="26" text-anchor="end">10</text>
<line x1="950.2" y1="1878.6" x2="961.7" y2="1878.6" stroke="#000" stroke-width="3" stroke-linecap="butt"/>
<text x="944.7" y="1887.8" font-size="26" text-anchor="end">15</text>
<line x1="1020.5" y1="2235.3" x2="1020.5" y2="2248.3" stroke="#000" stroke-width="3.2" stroke-linecap="butt"/>
<line x1="1162.4" y1="2235.3" x2="1162.4" y2="2248.3" stroke="#000" stroke-width="3.2" stroke-linecap="butt"/>
<path d="M1022.7 1859.1V1843.9H1165.9V1859.1" stroke="#000" stroke-width="3.4" fill="none" stroke-linejoin="miter"/>
<text x="1094.6" y="1838" font-size="24.5" text-anchor="middle">0.0003</text>
<path d="M998.8 1904.4V1889.5H1041.7V1904.4" stroke="#000" stroke-width="3.4" fill="none" stroke-linejoin="miter"/>
<text x="1020" y="1882.7" font-size="24.5" text-anchor="middle">0.0008</text>
<path d="M1144.7 2082V2067.1H1182.2V2082" stroke="#000" stroke-width="3.4" fill="none" stroke-linejoin="miter"/>
<text x="1161.6" y="2057.6" font-size="24.5" text-anchor="middle">0.027</text>
<text transform="translate(900.7,2057.6) rotate(-90)" font-size="35.5" text-anchor="middle">MCP-1 (pg/ml)</text>
<text x="1018.6" y="2276" font-size="27.5" text-anchor="middle">WT</text>
<text x="1068.8" y="2276" font-size="27.5" text-anchor="start"><tspan font-style="italic">LysM</tspan><tspan dx="2.8" dy="-9.9" font-size="16.5">Cre</tspan><tspan dy="9.9" dx="9.4" font-style="italic">Pglyrp1</tspan><tspan dy="-9.9" dx="0.8" font-size="16.5">fl/fl</tspan></text>
<rect x="1415.3" y="2214.8" width="34" height="19.9" fill="#d1d3d4" stroke="#000" stroke-width="3"/>
<rect x="1456.1" y="1960.8" width="33.7" height="273.9" fill="#d35283" stroke="#000" stroke-width="3"/>
<rect x="1557" y="2214.8" width="34" height="19.9" fill="#d1d3d4" stroke="#000" stroke-width="3"/>
<rect x="1597.5" y="2017.7" width="34" height="217" fill="#d35283" stroke="#000" stroke-width="3"/>
<line x1="1473" y1="1965.4" x2="1473" y2="1952.3" stroke="#000" stroke-width="3" stroke-linecap="butt"/>
<line x1="1466.2" y1="1965.4" x2="1479.8" y2="1965.4" stroke="#000" stroke-width="3" stroke-linecap="butt"/>
<line x1="1466.2" y1="1952.3" x2="1479.8" y2="1952.3" stroke="#000" stroke-width="3" stroke-linecap="butt"/>
<line x1="1614.5" y1="2022" x2="1614.5" y2="2011.3" stroke="#000" stroke-width="3" stroke-linecap="butt"/>
<line x1="1607.7" y1="2022" x2="1621.3" y2="2022" stroke="#000" stroke-width="3" stroke-linecap="butt"/>
<line x1="1607.7" y1="2011.3" x2="1621.3" y2="2011.3" stroke="#000" stroke-width="3" stroke-linecap="butt"/>
<circle cx="1472.8" cy="1940.9" r="4.7" fill="#000"/>
<circle cx="1464" cy="1969" r="4.7" fill="#000"/>
<circle cx="1482.2" cy="1963.9" r="4.7" fill="#000"/>
<circle cx="1472.8" cy="1960.8" r="4.7" fill="#000"/>
<circle cx="1613.7" cy="2004.2" r="4.7" fill="#000"/>
<circle cx="1606.2" cy="2020.8" r="4.7" fill="#000"/>
<circle cx="1622.8" cy="2019.3" r="4.7" fill="#000"/>
<circle cx="1613.7" cy="2017.7" r="4.7" fill="#000"/>
<circle cx="1419.8" cy="2212.9" r="4.7" fill="#000"/>
<circle cx="1427.4" cy="2212.9" r="4.7" fill="#000"/>
<circle cx="1435" cy="2212.9" r="4.7" fill="#000"/>
<circle cx="1442.5" cy="2212.9" r="4.7" fill="#000"/>
<circle cx="1561.6" cy="2212.9" r="4.7" fill="#000"/>
<circle cx="1569.2" cy="2212.9" r="4.7" fill="#000"/>
<circle cx="1576.8" cy="2212.9" r="4.7" fill="#000"/>
<circle cx="1584.3" cy="2212.9" r="4.7" fill="#000"/>
<line x1="1393.4" y1="1879" x2="1393.4" y2="2234.7" stroke="#000" stroke-width="3.2" stroke-linecap="butt"/>
<line x1="1381.4" y1="2234.7" x2="1642.9" y2="2234.7" stroke="#000" stroke-width="3.4" stroke-linecap="butt"/>
<line x1="1381.9" y1="2234.7" x2="1393.4" y2="2234.7" stroke="#000" stroke-width="3" stroke-linecap="butt"/>
<text x="1376.4" y="2243.9" font-size="26" text-anchor="end">0</text>
<line x1="1381.9" y1="2163.6" x2="1393.4" y2="2163.6" stroke="#000" stroke-width="3" stroke-linecap="butt"/>
<text x="1376.4" y="2172.8" font-size="26" text-anchor="end">100</text>
<line x1="1381.9" y1="2092.4" x2="1393.4" y2="2092.4" stroke="#000" stroke-width="3" stroke-linecap="butt"/>
<text x="1376.4" y="2101.6" font-size="26" text-anchor="end">200</text>
<line x1="1381.9" y1="2021.3" x2="1393.4" y2="2021.3" stroke="#000" stroke-width="3" stroke-linecap="butt"/>
<text x="1376.4" y="2030.5" font-size="26" text-anchor="end">300</text>
<line x1="1381.9" y1="1950.1" x2="1393.4" y2="1950.1" stroke="#000" stroke-width="3" stroke-linecap="butt"/>
<text x="1376.4" y="1959.3" font-size="26" text-anchor="end">400</text>
<line x1="1381.9" y1="1879" x2="1393.4" y2="1879" stroke="#000" stroke-width="3" stroke-linecap="butt"/>
<text x="1376.4" y="1888.2" font-size="26" text-anchor="end">500</text>
<line x1="1452.7" y1="2234.7" x2="1452.7" y2="2247.7" stroke="#000" stroke-width="3.2" stroke-linecap="butt"/>
<line x1="1593.7" y1="2234.7" x2="1593.7" y2="2247.7" stroke="#000" stroke-width="3.2" stroke-linecap="butt"/>
<path d="M1453.9 1882.8V1868H1596.7V1882.8" stroke="#000" stroke-width="3.4" fill="none" stroke-linejoin="miter"/>
<text x="1525" y="1860.5" font-size="24.5" text-anchor="middle">0.0002</text>
<path d="M1429.3 1928.5V1913.4H1472.8V1928.5" stroke="#000" stroke-width="3.4" fill="none" stroke-linejoin="miter"/>
<text x="1450" y="1907.8" font-size="24.5" text-anchor="middle">&lt;0.0001</text>
<path d="M1576 1994.7V1979.2H1613.7V1994.7" stroke="#000" stroke-width="3.4" fill="none" stroke-linejoin="miter"/>
<text x="1593.7" y="1969" font-size="24.5" text-anchor="middle">&lt;0.0001</text>
<text transform="translate(1314.8,2058.8) rotate(-90)" font-size="35.5" text-anchor="middle">TNF (pg/ml)</text>
<text x="1446.3" y="2276" font-size="27.5" text-anchor="middle">WT</text>
<text x="1498.5" y="2276" font-size="27.5" text-anchor="start"><tspan font-style="italic">LysM</tspan><tspan dx="2.8" dy="-9.9" font-size="16.5">Cre</tspan><tspan dy="9.9" dx="9.4" font-style="italic">Pglyrp1</tspan><tspan dy="-9.9" dx="0.8" font-size="16.5">fl/fl</tspan></text>
<rect x="1704.5" y="1854.5" width="24.5" height="23" fill="#d1d3d4" stroke="#000" stroke-width="3"/>
<rect x="1704.5" y="1896.4" width="24.5" height="23.4" fill="#d35283" stroke="#000" stroke-width="3"/>
<text x="1738.5" y="1876.4" font-size="32" text-anchor="start" fill="#231f20">Control</text>
<text x="1738.5" y="1918" font-size="32" text-anchor="start" fill="#231f20">MOG</text>
<!-- panel a -->
<text x="-1" y="20.5" font-size="38" text-anchor="start" font-weight="bold">a</text>
<line x1="94.5" y1="412.4" x2="105" y2="412.4" stroke="#000" stroke-width="2.4" stroke-linecap="butt"/>
<line x1="99.5" y1="393.7" x2="105" y2="393.7" stroke="#000" stroke-width="2.0" stroke-linecap="butt"/>
<line x1="99.5" y1="375" x2="105" y2="375" stroke="#000" stroke-width="2.0" stroke-linecap="butt"/>
<line x1="99.5" y1="356.3" x2="105" y2="356.3" stroke="#000" stroke-width="2.0" stroke-linecap="butt"/>
<line x1="99.5" y1="337.6" x2="105" y2="337.6" stroke="#000" stroke-width="2.0" stroke-linecap="butt"/>
<line x1="94.5" y1="318.9" x2="105" y2="318.9" stroke="#000" stroke-width="2.4" stroke-linecap="butt"/>
<line x1="99.5" y1="300.2" x2="105" y2="300.2" stroke="#000" stroke-width="2.0" stroke-linecap="butt"/>
<line x1="99.5" y1="281.5" x2="105" y2="281.5" stroke="#000" stroke-width="2.0" stroke-linecap="butt"/>
<line x1="99.5" y1="262.8" x2="105" y2="262.8" stroke="#000" stroke-width="2.0" stroke-linecap="butt"/>
<line x1="99.5" y1="244.1" x2="105" y2="244.1" stroke="#000" stroke-width="2.0" stroke-linecap="butt"/>
<line x1="94.5" y1="225.4" x2="105" y2="225.4" stroke="#000" stroke-width="2.4" stroke-linecap="butt"/>
<line x1="99.5" y1="206.7" x2="105" y2="206.7" stroke="#000" stroke-width="2.0" stroke-linecap="butt"/>
<line x1="99.5" y1="188" x2="105" y2="188" stroke="#000" stroke-width="2.0" stroke-linecap="butt"/>
<line x1="99.5" y1="169.3" x2="105" y2="169.3" stroke="#000" stroke-width="2.0" stroke-linecap="butt"/>
<line x1="99.5" y1="150.6" x2="105" y2="150.6" stroke="#000" stroke-width="2.0" stroke-linecap="butt"/>
<line x1="94.5" y1="131.9" x2="105" y2="131.9" stroke="#000" stroke-width="2.4" stroke-linecap="butt"/>
<line x1="99.5" y1="113.2" x2="105" y2="113.2" stroke="#000" stroke-width="2.0" stroke-linecap="butt"/>
<line x1="99.5" y1="94.5" x2="105" y2="94.5" stroke="#000" stroke-width="2.0" stroke-linecap="butt"/>
<line x1="99.5" y1="75.8" x2="105" y2="75.8" stroke="#000" stroke-width="2.0" stroke-linecap="butt"/>
<line x1="99.5" y1="57.1" x2="105" y2="57.1" stroke="#000" stroke-width="2.0" stroke-linecap="butt"/>
<line x1="94.5" y1="38.4" x2="105" y2="38.4" stroke="#000" stroke-width="2.4" stroke-linecap="butt"/>
<text x="92" y="420.4" font-size="22" text-anchor="end">0</text>
<text x="92" y="326.9" font-size="22" text-anchor="end">50K</text>
<text x="92" y="233.4" font-size="22" text-anchor="end">100K</text>
<text x="92" y="139.9" font-size="22" text-anchor="end">150K</text>
<text x="92" y="46.4" font-size="22" text-anchor="end">200K</text>
<line x1="106" y1="413.5" x2="106" y2="424" stroke="#000" stroke-width="2.4" stroke-linecap="butt"/>
<line x1="120.3" y1="413.5" x2="120.3" y2="419" stroke="#000" stroke-width="2.0" stroke-linecap="butt"/>
<line x1="134.5" y1="413.5" x2="134.5" y2="419" stroke="#000" stroke-width="2.0" stroke-linecap="butt"/>
<line x1="148.8" y1="413.5" x2="148.8" y2="419" stroke="#000" stroke-width="2.0" stroke-linecap="butt"/>
<line x1="163" y1="413.5" x2="163" y2="419" stroke="#000" stroke-width="2.0" stroke-linecap="butt"/>
<line x1="177.3" y1="413.5" x2="177.3" y2="424" stroke="#000" stroke-width="2.4" stroke-linecap="butt"/>
<line x1="191.6" y1="413.5" x2="191.6" y2="419" stroke="#000" stroke-width="2.0" stroke-linecap="butt"/>
<line x1="205.8" y1="413.5" x2="205.8" y2="419" stroke="#000" stroke-width="2.0" stroke-linecap="butt"/>
<line x1="220.1" y1="413.5" x2="220.1" y2="419" stroke="#000" stroke-width="2.0" stroke-linecap="butt"/>
<line x1="234.3" y1="413.5" x2="234.3" y2="419" stroke="#000" stroke-width="2.0" stroke-linecap="butt"/>
<line x1="248.6" y1="413.5" x2="248.6" y2="424" stroke="#000" stroke-width="2.4" stroke-linecap="butt"/>
<line x1="262.9" y1="413.5" x2="262.9" y2="419" stroke="#000" stroke-width="2.0" stroke-linecap="butt"/>
<line x1="277.1" y1="413.5" x2="277.1" y2="419" stroke="#000" stroke-width="2.0" stroke-linecap="butt"/>
<line x1="291.4" y1="413.5" x2="291.4" y2="419" stroke="#000" stroke-width="2.0" stroke-linecap="butt"/>
<line x1="305.6" y1="413.5" x2="305.6" y2="419" stroke="#000" stroke-width="2.0" stroke-linecap="butt"/>
<line x1="319.9" y1="413.5" x2="319.9" y2="424" stroke="#000" stroke-width="2.4" stroke-linecap="butt"/>
<line x1="334.2" y1="413.5" x2="334.2" y2="419" stroke="#000" stroke-width="2.0" stroke-linecap="butt"/>
<line x1="348.4" y1="413.5" x2="348.4" y2="419" stroke="#000" stroke-width="2.0" stroke-linecap="butt"/>
<line x1="362.7" y1="413.5" x2="362.7" y2="419" stroke="#000" stroke-width="2.0" stroke-linecap="butt"/>
<line x1="376.9" y1="413.5" x2="376.9" y2="419" stroke="#000" stroke-width="2.0" stroke-linecap="butt"/>
<line x1="391.2" y1="413.5" x2="391.2" y2="424" stroke="#000" stroke-width="2.4" stroke-linecap="butt"/>
<line x1="405.5" y1="413.5" x2="405.5" y2="419" stroke="#000" stroke-width="2.0" stroke-linecap="butt"/>
<line x1="419.7" y1="413.5" x2="419.7" y2="419" stroke="#000" stroke-width="2.0" stroke-linecap="butt"/>
<line x1="434" y1="413.5" x2="434" y2="419" stroke="#000" stroke-width="2.0" stroke-linecap="butt"/>
<line x1="448.2" y1="413.5" x2="448.2" y2="419" stroke="#000" stroke-width="2.0" stroke-linecap="butt"/>
<line x1="462.5" y1="413.5" x2="462.5" y2="424" stroke="#000" stroke-width="2.4" stroke-linecap="butt"/>
<line x1="476.8" y1="413.5" x2="476.8" y2="419" stroke="#000" stroke-width="2.0" stroke-linecap="butt"/>
<text x="106" y="449" font-size="22" text-anchor="middle">0</text>
<text x="177.3" y="449" font-size="22" text-anchor="middle">50K</text>
<text x="248.6" y="449" font-size="22" text-anchor="middle">100K</text>
<text x="319.9" y="449" font-size="22" text-anchor="middle">150K</text>
<text x="391.2" y="449" font-size="22" text-anchor="middle">200K</text>
<text x="462.5" y="449" font-size="22" text-anchor="middle">250K</text>
<line x1="588.1" y1="412.4" x2="598.6" y2="412.4" stroke="#000" stroke-width="2.4" stroke-linecap="butt"/>
<line x1="593.1" y1="398.1" x2="598.6" y2="398.1" stroke="#000" stroke-width="2.0" stroke-linecap="butt"/>
<line x1="593.1" y1="383.8" x2="598.6" y2="383.8" stroke="#000" stroke-width="2.0" stroke-linecap="butt"/>
<line x1="593.1" y1="369.5" x2="598.6" y2="369.5" stroke="#000" stroke-width="2.0" stroke-linecap="butt"/>
<line x1="593.1" y1="355.2" x2="598.6" y2="355.2" stroke="#000" stroke-width="2.0" stroke-linecap="butt"/>
<line x1="588.1" y1="340.9" x2="598.6" y2="340.9" stroke="#000" stroke-width="2.4" stroke-linecap="butt"/>
<line x1="593.1" y1="326.6" x2="598.6" y2="326.6" stroke="#000" stroke-width="2.0" stroke-linecap="butt"/>
<line x1="593.1" y1="312.3" x2="598.6" y2="312.3" stroke="#000" stroke-width="2.0" stroke-linecap="butt"/>
<line x1="593.1" y1="298" x2="598.6" y2="298" stroke="#000" stroke-width="2.0" stroke-linecap="butt"/>
<line x1="593.1" y1="283.7" x2="598.6" y2="283.7" stroke="#000" stroke-width="2.0" stroke-linecap="butt"/>
<line x1="588.1" y1="269.4" x2="598.6" y2="269.4" stroke="#000" stroke-width="2.4" stroke-linecap="butt"/>
<line x1="593.1" y1="255.1" x2="598.6" y2="255.1" stroke="#000" stroke-width="2.0" stroke-linecap="butt"/>
<line x1="593.1" y1="240.8" x2="598.6" y2="240.8" stroke="#000" stroke-width="2.0" stroke-linecap="butt"/>
<line x1="593.1" y1="226.5" x2="598.6" y2="226.5" stroke="#000" stroke-width="2.0" stroke-linecap="butt"/>
<line x1="593.1" y1="212.2" x2="598.6" y2="212.2" stroke="#000" stroke-width="2.0" stroke-linecap="butt"/>
<line x1="588.1" y1="197.9" x2="598.6" y2="197.9" stroke="#000" stroke-width="2.4" stroke-linecap="butt"/>
<line x1="593.1" y1="183.6" x2="598.6" y2="183.6" stroke="#000" stroke-width="2.0" stroke-linecap="butt"/>
<line x1="593.1" y1="169.3" x2="598.6" y2="169.3" stroke="#000" stroke-width="2.0" stroke-linecap="butt"/>
<line x1="593.1" y1="155" x2="598.6" y2="155" stroke="#000" stroke-width="2.0" stroke-linecap="butt"/>
<line x1="593.1" y1="140.7" x2="598.6" y2="140.7" stroke="#000" stroke-width="2.0" stroke-linecap="butt"/>
<line x1="588.1" y1="126.4" x2="598.6" y2="126.4" stroke="#000" stroke-width="2.4" stroke-linecap="butt"/>
<line x1="593.1" y1="112.1" x2="598.6" y2="112.1" stroke="#000" stroke-width="2.0" stroke-linecap="butt"/>
<line x1="593.1" y1="97.8" x2="598.6" y2="97.8" stroke="#000" stroke-width="2.0" stroke-linecap="butt"/>
<line x1="593.1" y1="83.5" x2="598.6" y2="83.5" stroke="#000" stroke-width="2.0" stroke-linecap="butt"/>
<line x1="593.1" y1="69.2" x2="598.6" y2="69.2" stroke="#000" stroke-width="2.0" stroke-linecap="butt"/>
<line x1="588.1" y1="54.9" x2="598.6" y2="54.9" stroke="#000" stroke-width="2.4" stroke-linecap="butt"/>
<line x1="593.1" y1="40.6" x2="598.6" y2="40.6" stroke="#000" stroke-width="2.0" stroke-linecap="butt"/>
<text x="586.1" y="420.4" font-size="22" text-anchor="end">0</text>
<text x="586.1" y="348.9" font-size="22" text-anchor="end">50K</text>
<text x="586.1" y="277.4" font-size="22" text-anchor="end">100K</text>
<text x="586.1" y="205.9" font-size="22" text-anchor="end">150K</text>
<text x="586.1" y="134.4" font-size="22" text-anchor="end">200K</text>
<text x="586.1" y="62.9" font-size="22" text-anchor="end">250K</text>
<line x1="600" y1="413.5" x2="600" y2="424" stroke="#000" stroke-width="2.4" stroke-linecap="butt"/>
<line x1="614.2" y1="413.5" x2="614.2" y2="419" stroke="#000" stroke-width="2.0" stroke-linecap="butt"/>
<line x1="628.5" y1="413.5" x2="628.5" y2="419" stroke="#000" stroke-width="2.0" stroke-linecap="butt"/>
<line x1="642.7" y1="413.5" x2="642.7" y2="419" stroke="#000" stroke-width="2.0" stroke-linecap="butt"/>
<line x1="657" y1="413.5" x2="657" y2="419" stroke="#000" stroke-width="2.0" stroke-linecap="butt"/>
<line x1="671.2" y1="413.5" x2="671.2" y2="424" stroke="#000" stroke-width="2.4" stroke-linecap="butt"/>
<line x1="685.4" y1="413.5" x2="685.4" y2="419" stroke="#000" stroke-width="2.0" stroke-linecap="butt"/>
<line x1="699.7" y1="413.5" x2="699.7" y2="419" stroke="#000" stroke-width="2.0" stroke-linecap="butt"/>
<line x1="713.9" y1="413.5" x2="713.9" y2="419" stroke="#000" stroke-width="2.0" stroke-linecap="butt"/>
<line x1="728.2" y1="413.5" x2="728.2" y2="419" stroke="#000" stroke-width="2.0" stroke-linecap="butt"/>
<line x1="742.4" y1="413.5" x2="742.4" y2="424" stroke="#000" stroke-width="2.4" stroke-linecap="butt"/>
<line x1="756.6" y1="413.5" x2="756.6" y2="419" stroke="#000" stroke-width="2.0" stroke-linecap="butt"/>
<line x1="770.9" y1="413.5" x2="770.9" y2="419" stroke="#000" stroke-width="2.0" stroke-linecap="butt"/>
<line x1="785.1" y1="413.5" x2="785.1" y2="419" stroke="#000" stroke-width="2.0" stroke-linecap="butt"/>
<line x1="799.4" y1="413.5" x2="799.4" y2="419" stroke="#000" stroke-width="2.0" stroke-linecap="butt"/>
<line x1="813.6" y1="413.5" x2="813.6" y2="424" stroke="#000" stroke-width="2.4" stroke-linecap="butt"/>
<line x1="827.8" y1="413.5" x2="827.8" y2="419" stroke="#000" stroke-width="2.0" stroke-linecap="butt"/>
<line x1="842.1" y1="413.5" x2="842.1" y2="419" stroke="#000" stroke-width="2.0" stroke-linecap="butt"/>
<line x1="856.3" y1="413.5" x2="856.3" y2="419" stroke="#000" stroke-width="2.0" stroke-linecap="butt"/>
<line x1="870.6" y1="413.5" x2="870.6" y2="419" stroke="#000" stroke-width="2.0" stroke-linecap="butt"/>
<line x1="884.8" y1="413.5" x2="884.8" y2="424" stroke="#000" stroke-width="2.4" stroke-linecap="butt"/>
<line x1="899" y1="413.5" x2="899" y2="419" stroke="#000" stroke-width="2.0" stroke-linecap="butt"/>
<line x1="913.3" y1="413.5" x2="913.3" y2="419" stroke="#000" stroke-width="2.0" stroke-linecap="butt"/>
<line x1="927.5" y1="413.5" x2="927.5" y2="419" stroke="#000" stroke-width="2.0" stroke-linecap="butt"/>
<line x1="941.8" y1="413.5" x2="941.8" y2="419" stroke="#000" stroke-width="2.0" stroke-linecap="butt"/>
<line x1="956" y1="413.5" x2="956" y2="424" stroke="#000" stroke-width="2.4" stroke-linecap="butt"/>
<line x1="970.2" y1="413.5" x2="970.2" y2="419" stroke="#000" stroke-width="2.0" stroke-linecap="butt"/>
<text x="600" y="449" font-size="22" text-anchor="middle">0</text>
<text x="671.2" y="449" font-size="22" text-anchor="middle">50K</text>
<text x="742.4" y="449" font-size="22" text-anchor="middle">100K</text>
<text x="813.6" y="449" font-size="22" text-anchor="middle">150K</text>
<text x="884.8" y="449" font-size="22" text-anchor="middle">200K</text>
<text x="956" y="449" font-size="22" text-anchor="middle">250K</text>
<line x1="1079" y1="65.1" x2="1089.5" y2="65.1" stroke="#000" stroke-width="2.4" stroke-linecap="butt"/>
<line x1="1079" y1="139.4" x2="1089.5" y2="139.4" stroke="#000" stroke-width="2.4" stroke-linecap="butt"/>
<line x1="1079" y1="223.4" x2="1089.5" y2="223.4" stroke="#000" stroke-width="2.4" stroke-linecap="butt"/>
<line x1="1079" y1="276.5" x2="1089.5" y2="276.5" stroke="#000" stroke-width="2.4" stroke-linecap="butt"/>
<line x1="1079" y1="324.7" x2="1089.5" y2="324.7" stroke="#000" stroke-width="2.4" stroke-linecap="butt"/>
<line x1="1079" y1="409.7" x2="1089.5" y2="409.7" stroke="#000" stroke-width="2.4" stroke-linecap="butt"/>
<line x1="1084" y1="117" x2="1089.5" y2="117" stroke="#000" stroke-width="2.0" stroke-linecap="butt"/>
<line x1="1084" y1="103.9" x2="1089.5" y2="103.9" stroke="#000" stroke-width="2.0" stroke-linecap="butt"/>
<line x1="1084" y1="94.7" x2="1089.5" y2="94.7" stroke="#000" stroke-width="2.0" stroke-linecap="butt"/>
<line x1="1084" y1="87.5" x2="1089.5" y2="87.5" stroke="#000" stroke-width="2.0" stroke-linecap="butt"/>
<line x1="1084" y1="81.6" x2="1089.5" y2="81.6" stroke="#000" stroke-width="2.0" stroke-linecap="butt"/>
<line x1="1084" y1="76.6" x2="1089.5" y2="76.6" stroke="#000" stroke-width="2.0" stroke-linecap="butt"/>
<line x1="1084" y1="72.3" x2="1089.5" y2="72.3" stroke="#000" stroke-width="2.0" stroke-linecap="butt"/>
<line x1="1084" y1="68.5" x2="1089.5" y2="68.5" stroke="#000" stroke-width="2.0" stroke-linecap="butt"/>
<line x1="1084" y1="198.1" x2="1089.5" y2="198.1" stroke="#000" stroke-width="2.0" stroke-linecap="butt"/>
<line x1="1084" y1="183.3" x2="1089.5" y2="183.3" stroke="#000" stroke-width="2.0" stroke-linecap="butt"/>
<line x1="1084" y1="172.8" x2="1089.5" y2="172.8" stroke="#000" stroke-width="2.0" stroke-linecap="butt"/>
<line x1="1084" y1="164.7" x2="1089.5" y2="164.7" stroke="#000" stroke-width="2.0" stroke-linecap="butt"/>
<line x1="1084" y1="158" x2="1089.5" y2="158" stroke="#000" stroke-width="2.0" stroke-linecap="butt"/>
<line x1="1084" y1="152.4" x2="1089.5" y2="152.4" stroke="#000" stroke-width="2.0" stroke-linecap="butt"/>
<line x1="1084" y1="147.5" x2="1089.5" y2="147.5" stroke="#000" stroke-width="2.0" stroke-linecap="butt"/>
<line x1="1084" y1="143.2" x2="1089.5" y2="143.2" stroke="#000" stroke-width="2.0" stroke-linecap="butt"/>
<line x1="1084" y1="350.3" x2="1089.5" y2="350.3" stroke="#000" stroke-width="2.0" stroke-linecap="butt"/>
<line x1="1084" y1="365.3" x2="1089.5" y2="365.3" stroke="#000" stroke-width="2.0" stroke-linecap="butt"/>
<line x1="1084" y1="375.9" x2="1089.5" y2="375.9" stroke="#000" stroke-width="2.0" stroke-linecap="butt"/>
<line x1="1084" y1="384.1" x2="1089.5" y2="384.1" stroke="#000" stroke-width="2.0" stroke-linecap="butt"/>
<line x1="1084" y1="390.8" x2="1089.5" y2="390.8" stroke="#000" stroke-width="2.0" stroke-linecap="butt"/>
<line x1="1084" y1="396.5" x2="1089.5" y2="396.5" stroke="#000" stroke-width="2.0" stroke-linecap="butt"/>
<line x1="1084" y1="401.5" x2="1089.5" y2="401.5" stroke="#000" stroke-width="2.0" stroke-linecap="butt"/>
<line x1="1084" y1="405.8" x2="1089.5" y2="405.8" stroke="#000" stroke-width="2.0" stroke-linecap="butt"/>
<line x1="1084" y1="42.7" x2="1089.5" y2="42.7" stroke="#000" stroke-width="2.0" stroke-linecap="butt"/>
<line x1="1084" y1="271.2" x2="1089.5" y2="271.2" stroke="#000" stroke-width="2.0" stroke-linecap="butt"/>
<line x1="1084" y1="281.3" x2="1089.5" y2="281.3" stroke="#000" stroke-width="2.0" stroke-linecap="butt"/>
<line x1="1084" y1="265.9" x2="1089.5" y2="265.9" stroke="#000" stroke-width="2.0" stroke-linecap="butt"/>
<line x1="1084" y1="286.1" x2="1089.5" y2="286.1" stroke="#000" stroke-width="2.0" stroke-linecap="butt"/>
<line x1="1084" y1="260.6" x2="1089.5" y2="260.6" stroke="#000" stroke-width="2.0" stroke-linecap="butt"/>
<line x1="1084" y1="291" x2="1089.5" y2="291" stroke="#000" stroke-width="2.0" stroke-linecap="butt"/>
<line x1="1084" y1="255.3" x2="1089.5" y2="255.3" stroke="#000" stroke-width="2.0" stroke-linecap="butt"/>
<line x1="1084" y1="295.8" x2="1089.5" y2="295.8" stroke="#000" stroke-width="2.0" stroke-linecap="butt"/>
<line x1="1084" y1="249.9" x2="1089.5" y2="249.9" stroke="#000" stroke-width="2.0" stroke-linecap="butt"/>
<line x1="1084" y1="300.6" x2="1089.5" y2="300.6" stroke="#000" stroke-width="2.0" stroke-linecap="butt"/>
<line x1="1084" y1="244.6" x2="1089.5" y2="244.6" stroke="#000" stroke-width="2.0" stroke-linecap="butt"/>
<line x1="1084" y1="305.4" x2="1089.5" y2="305.4" stroke="#000" stroke-width="2.0" stroke-linecap="butt"/>
<line x1="1084" y1="239.3" x2="1089.5" y2="239.3" stroke="#000" stroke-width="2.0" stroke-linecap="butt"/>
<line x1="1084" y1="310.2" x2="1089.5" y2="310.2" stroke="#000" stroke-width="2.0" stroke-linecap="butt"/>
<line x1="1084" y1="234" x2="1089.5" y2="234" stroke="#000" stroke-width="2.0" stroke-linecap="butt"/>
<line x1="1084" y1="315.1" x2="1089.5" y2="315.1" stroke="#000" stroke-width="2.0" stroke-linecap="butt"/>
<line x1="1084" y1="228.7" x2="1089.5" y2="228.7" stroke="#000" stroke-width="2.0" stroke-linecap="butt"/>
<line x1="1084" y1="319.9" x2="1089.5" y2="319.9" stroke="#000" stroke-width="2.0" stroke-linecap="butt"/>
<line x1="1079" y1="273.5" x2="1089.5" y2="273.5" stroke="#000" stroke-width="1.6" stroke-linecap="butt"/>
<line x1="1079" y1="275" x2="1089.5" y2="275" stroke="#000" stroke-width="1.6" stroke-linecap="butt"/>
<line x1="1079" y1="276.5" x2="1089.5" y2="276.5" stroke="#000" stroke-width="1.6" stroke-linecap="butt"/>
<line x1="1079" y1="278" x2="1089.5" y2="278" stroke="#000" stroke-width="1.6" stroke-linecap="butt"/>
<line x1="1079" y1="279.5" x2="1089.5" y2="279.5" stroke="#000" stroke-width="1.6" stroke-linecap="butt"/>
<text x="1077" y="72.1" font-size="22" text-anchor="end">10<tspan dy="-9" font-size="14">5</tspan></text>
<text x="1077" y="146.4" font-size="22" text-anchor="end">10<tspan dy="-9" font-size="14">4</tspan></text>
<text x="1077" y="230.4" font-size="22" text-anchor="end">10<tspan dy="-9" font-size="14">3</tspan></text>
<text x="1071" y="284.5" font-size="22" text-anchor="end">0</text>
<text x="1077" y="331.7" font-size="22" text-anchor="end">&#8722;10<tspan dy="-9" font-size="14">3</tspan></text>
<text x="1077" y="416.7" font-size="22" text-anchor="end">&#8722;10<tspan dy="-9" font-size="14">4</tspan></text>
<line x1="1112" y1="414" x2="1112" y2="424.5" stroke="#000" stroke-width="2.4" stroke-linecap="butt"/>
<line x1="1174" y1="414" x2="1174" y2="424.5" stroke="#000" stroke-width="2.4" stroke-linecap="butt"/>
<line x1="1236" y1="414" x2="1236" y2="424.5" stroke="#000" stroke-width="2.4" stroke-linecap="butt"/>
<line x1="1338.6" y1="414" x2="1338.6" y2="424.5" stroke="#000" stroke-width="2.4" stroke-linecap="butt"/>
<line x1="1428.2" y1="414" x2="1428.2" y2="424.5" stroke="#000" stroke-width="2.4" stroke-linecap="butt"/>
<line x1="1266.9" y1="414" x2="1266.9" y2="419.5" stroke="#000" stroke-width="2.0" stroke-linecap="butt"/>
<line x1="1285" y1="414" x2="1285" y2="419.5" stroke="#000" stroke-width="2.0" stroke-linecap="butt"/>
<line x1="1297.8" y1="414" x2="1297.8" y2="419.5" stroke="#000" stroke-width="2.0" stroke-linecap="butt"/>
<line x1="1307.7" y1="414" x2="1307.7" y2="419.5" stroke="#000" stroke-width="2.0" stroke-linecap="butt"/>
<line x1="1315.8" y1="414" x2="1315.8" y2="419.5" stroke="#000" stroke-width="2.0" stroke-linecap="butt"/>
<line x1="1322.7" y1="414" x2="1322.7" y2="419.5" stroke="#000" stroke-width="2.0" stroke-linecap="butt"/>
<line x1="1328.7" y1="414" x2="1328.7" y2="419.5" stroke="#000" stroke-width="2.0" stroke-linecap="butt"/>
<line x1="1333.9" y1="414" x2="1333.9" y2="419.5" stroke="#000" stroke-width="2.0" stroke-linecap="butt"/>
<line x1="1365.6" y1="414" x2="1365.6" y2="419.5" stroke="#000" stroke-width="2.0" stroke-linecap="butt"/>
<line x1="1381.4" y1="414" x2="1381.4" y2="419.5" stroke="#000" stroke-width="2.0" stroke-linecap="butt"/>
<line x1="1392.5" y1="414" x2="1392.5" y2="419.5" stroke="#000" stroke-width="2.0" stroke-linecap="butt"/>
<line x1="1401.2" y1="414" x2="1401.2" y2="419.5" stroke="#000" stroke-width="2.0" stroke-linecap="butt"/>
<line x1="1408.3" y1="414" x2="1408.3" y2="419.5" stroke="#000" stroke-width="2.0" stroke-linecap="butt"/>
<line x1="1414.3" y1="414" x2="1414.3" y2="419.5" stroke="#000" stroke-width="2.0" stroke-linecap="butt"/>
<line x1="1419.5" y1="414" x2="1419.5" y2="419.5" stroke="#000" stroke-width="2.0" stroke-linecap="butt"/>
<line x1="1424.1" y1="414" x2="1424.1" y2="419.5" stroke="#000" stroke-width="2.0" stroke-linecap="butt"/>
<line x1="1455.2" y1="414" x2="1455.2" y2="419.5" stroke="#000" stroke-width="2.0" stroke-linecap="butt"/>
<line x1="1180.2" y1="414" x2="1180.2" y2="419.5" stroke="#000" stroke-width="2.0" stroke-linecap="butt"/>
<line x1="1167.8" y1="414" x2="1167.8" y2="419.5" stroke="#000" stroke-width="2.0" stroke-linecap="butt"/>
<line x1="1186.4" y1="414" x2="1186.4" y2="419.5" stroke="#000" stroke-width="2.0" stroke-linecap="butt"/>
<line x1="1161.6" y1="414" x2="1161.6" y2="419.5" stroke="#000" stroke-width="2.0" stroke-linecap="butt"/>
<line x1="1192.6" y1="414" x2="1192.6" y2="419.5" stroke="#000" stroke-width="2.0" stroke-linecap="butt"/>
<line x1="1155.4" y1="414" x2="1155.4" y2="419.5" stroke="#000" stroke-width="2.0" stroke-linecap="butt"/>
<line x1="1198.8" y1="414" x2="1198.8" y2="419.5" stroke="#000" stroke-width="2.0" stroke-linecap="butt"/>
<line x1="1149.2" y1="414" x2="1149.2" y2="419.5" stroke="#000" stroke-width="2.0" stroke-linecap="butt"/>
<line x1="1205" y1="414" x2="1205" y2="419.5" stroke="#000" stroke-width="2.0" stroke-linecap="butt"/>
<line x1="1143" y1="414" x2="1143" y2="419.5" stroke="#000" stroke-width="2.0" stroke-linecap="butt"/>
<line x1="1211.2" y1="414" x2="1211.2" y2="419.5" stroke="#000" stroke-width="2.0" stroke-linecap="butt"/>
<line x1="1136.8" y1="414" x2="1136.8" y2="419.5" stroke="#000" stroke-width="2.0" stroke-linecap="butt"/>
<line x1="1217.4" y1="414" x2="1217.4" y2="419.5" stroke="#000" stroke-width="2.0" stroke-linecap="butt"/>
<line x1="1130.6" y1="414" x2="1130.6" y2="419.5" stroke="#000" stroke-width="2.0" stroke-linecap="butt"/>
<line x1="1223.6" y1="414" x2="1223.6" y2="419.5" stroke="#000" stroke-width="2.0" stroke-linecap="butt"/>
<line x1="1124.4" y1="414" x2="1124.4" y2="419.5" stroke="#000" stroke-width="2.0" stroke-linecap="butt"/>
<line x1="1229.8" y1="414" x2="1229.8" y2="419.5" stroke="#000" stroke-width="2.0" stroke-linecap="butt"/>
<line x1="1118.2" y1="414" x2="1118.2" y2="419.5" stroke="#000" stroke-width="2.0" stroke-linecap="butt"/>
<line x1="1170" y1="414" x2="1170" y2="424.5" stroke="#000" stroke-width="1.6" stroke-linecap="butt"/>
<line x1="1172" y1="414" x2="1172" y2="424.5" stroke="#000" stroke-width="1.6" stroke-linecap="butt"/>
<line x1="1174" y1="414" x2="1174" y2="424.5" stroke="#000" stroke-width="1.6" stroke-linecap="butt"/>
<line x1="1176" y1="414" x2="1176" y2="424.5" stroke="#000" stroke-width="1.6" stroke-linecap="butt"/>
<line x1="1178" y1="414" x2="1178" y2="424.5" stroke="#000" stroke-width="1.6" stroke-linecap="butt"/>
<text x="1116" y="449" font-size="22" text-anchor="middle">&#8722;10<tspan dy="-9" font-size="14">3</tspan></text>
<text x="1240" y="449" font-size="22" text-anchor="middle">10<tspan dy="-9" font-size="14">3</tspan></text>
<text x="1342.6" y="449" font-size="22" text-anchor="middle">10<tspan dy="-9" font-size="14">4</tspan></text>
<text x="1432.2" y="449" font-size="22" text-anchor="middle">10<tspan dy="-9" font-size="14">5</tspan></text>
<text x="1174" y="449" font-size="22" text-anchor="middle">0</text>
<line x1="1560.5" y1="74.9" x2="1571" y2="74.9" stroke="#000" stroke-width="2.4" stroke-linecap="butt"/>
<line x1="1560.5" y1="162.4" x2="1571" y2="162.4" stroke="#000" stroke-width="2.4" stroke-linecap="butt"/>
<line x1="1560.5" y1="265.5" x2="1571" y2="265.5" stroke="#000" stroke-width="2.4" stroke-linecap="butt"/>
<line x1="1560.5" y1="331" x2="1571" y2="331" stroke="#000" stroke-width="2.4" stroke-linecap="butt"/>
<line x1="1560.5" y1="389.3" x2="1571" y2="389.3" stroke="#000" stroke-width="2.4" stroke-linecap="butt"/>
<line x1="1565.5" y1="136.1" x2="1571" y2="136.1" stroke="#000" stroke-width="2.0" stroke-linecap="butt"/>
<line x1="1565.5" y1="120.7" x2="1571" y2="120.7" stroke="#000" stroke-width="2.0" stroke-linecap="butt"/>
<line x1="1565.5" y1="109.7" x2="1571" y2="109.7" stroke="#000" stroke-width="2.0" stroke-linecap="butt"/>
<line x1="1565.5" y1="101.2" x2="1571" y2="101.2" stroke="#000" stroke-width="2.0" stroke-linecap="butt"/>
<line x1="1565.5" y1="94.3" x2="1571" y2="94.3" stroke="#000" stroke-width="2.0" stroke-linecap="butt"/>
<line x1="1565.5" y1="88.5" x2="1571" y2="88.5" stroke="#000" stroke-width="2.0" stroke-linecap="butt"/>
<line x1="1565.5" y1="83.4" x2="1571" y2="83.4" stroke="#000" stroke-width="2.0" stroke-linecap="butt"/>
<line x1="1565.5" y1="78.9" x2="1571" y2="78.9" stroke="#000" stroke-width="2.0" stroke-linecap="butt"/>
<line x1="1565.5" y1="234.5" x2="1571" y2="234.5" stroke="#000" stroke-width="2.0" stroke-linecap="butt"/>
<line x1="1565.5" y1="216.3" x2="1571" y2="216.3" stroke="#000" stroke-width="2.0" stroke-linecap="butt"/>
<line x1="1565.5" y1="203.4" x2="1571" y2="203.4" stroke="#000" stroke-width="2.0" stroke-linecap="butt"/>
<line x1="1565.5" y1="193.4" x2="1571" y2="193.4" stroke="#000" stroke-width="2.0" stroke-linecap="butt"/>
<line x1="1565.5" y1="185.3" x2="1571" y2="185.3" stroke="#000" stroke-width="2.0" stroke-linecap="butt"/>
<line x1="1565.5" y1="178.4" x2="1571" y2="178.4" stroke="#000" stroke-width="2.0" stroke-linecap="butt"/>
<line x1="1565.5" y1="172.4" x2="1571" y2="172.4" stroke="#000" stroke-width="2.0" stroke-linecap="butt"/>
<line x1="1565.5" y1="167.1" x2="1571" y2="167.1" stroke="#000" stroke-width="2.0" stroke-linecap="butt"/>
<line x1="1565.5" y1="48.6" x2="1571" y2="48.6" stroke="#000" stroke-width="2.0" stroke-linecap="butt"/>
<line x1="1565.5" y1="324.4" x2="1571" y2="324.4" stroke="#000" stroke-width="2.0" stroke-linecap="butt"/>
<line x1="1565.5" y1="336.8" x2="1571" y2="336.8" stroke="#000" stroke-width="2.0" stroke-linecap="butt"/>
<line x1="1565.5" y1="317.9" x2="1571" y2="317.9" stroke="#000" stroke-width="2.0" stroke-linecap="butt"/>
<line x1="1565.5" y1="342.7" x2="1571" y2="342.7" stroke="#000" stroke-width="2.0" stroke-linecap="butt"/>
<line x1="1565.5" y1="311.4" x2="1571" y2="311.4" stroke="#000" stroke-width="2.0" stroke-linecap="butt"/>
<line x1="1565.5" y1="348.5" x2="1571" y2="348.5" stroke="#000" stroke-width="2.0" stroke-linecap="butt"/>
<line x1="1565.5" y1="304.8" x2="1571" y2="304.8" stroke="#000" stroke-width="2.0" stroke-linecap="butt"/>
<line x1="1565.5" y1="354.3" x2="1571" y2="354.3" stroke="#000" stroke-width="2.0" stroke-linecap="butt"/>
<line x1="1565.5" y1="298.2" x2="1571" y2="298.2" stroke="#000" stroke-width="2.0" stroke-linecap="butt"/>
<line x1="1565.5" y1="360.1" x2="1571" y2="360.1" stroke="#000" stroke-width="2.0" stroke-linecap="butt"/>
<line x1="1565.5" y1="291.7" x2="1571" y2="291.7" stroke="#000" stroke-width="2.0" stroke-linecap="butt"/>
<line x1="1565.5" y1="366" x2="1571" y2="366" stroke="#000" stroke-width="2.0" stroke-linecap="butt"/>
<line x1="1565.5" y1="285.1" x2="1571" y2="285.1" stroke="#000" stroke-width="2.0" stroke-linecap="butt"/>
<line x1="1565.5" y1="371.8" x2="1571" y2="371.8" stroke="#000" stroke-width="2.0" stroke-linecap="butt"/>
<line x1="1565.5" y1="278.6" x2="1571" y2="278.6" stroke="#000" stroke-width="2.0" stroke-linecap="butt"/>
<line x1="1565.5" y1="377.6" x2="1571" y2="377.6" stroke="#000" stroke-width="2.0" stroke-linecap="butt"/>
<line x1="1565.5" y1="272.1" x2="1571" y2="272.1" stroke="#000" stroke-width="2.0" stroke-linecap="butt"/>
<line x1="1565.5" y1="383.5" x2="1571" y2="383.5" stroke="#000" stroke-width="2.0" stroke-linecap="butt"/>
<line x1="1560.5" y1="328" x2="1571" y2="328" stroke="#000" stroke-width="1.6" stroke-linecap="butt"/>
<line x1="1560.5" y1="329.5" x2="1571" y2="329.5" stroke="#000" stroke-width="1.6" stroke-linecap="butt"/>
<line x1="1560.5" y1="331" x2="1571" y2="331" stroke="#000" stroke-width="1.6" stroke-linecap="butt"/>
<line x1="1560.5" y1="332.5" x2="1571" y2="332.5" stroke="#000" stroke-width="1.6" stroke-linecap="butt"/>
<line x1="1560.5" y1="334" x2="1571" y2="334" stroke="#000" stroke-width="1.6" stroke-linecap="butt"/>
<text x="1560" y="81.9" font-size="22" text-anchor="end">10<tspan dy="-9" font-size="14">5</tspan></text>
<text x="1560" y="169.4" font-size="22" text-anchor="end">10<tspan dy="-9" font-size="14">4</tspan></text>
<text x="1560" y="272.5" font-size="22" text-anchor="end">10<tspan dy="-9" font-size="14">3</tspan></text>
<text x="1554" y="339" font-size="22" text-anchor="end">0</text>
<text x="1560" y="396.3" font-size="22" text-anchor="end">&#8722;10<tspan dy="-9" font-size="14">3</tspan></text>
<line x1="1638.8" y1="414" x2="1638.8" y2="424.5" stroke="#000" stroke-width="2.4" stroke-linecap="butt"/>
<line x1="1715.1" y1="414" x2="1715.1" y2="424.5" stroke="#000" stroke-width="2.4" stroke-linecap="butt"/>
<line x1="1792.2" y1="414" x2="1792.2" y2="424.5" stroke="#000" stroke-width="2.4" stroke-linecap="butt"/>
<line x1="1862.8" y1="414" x2="1862.8" y2="424.5" stroke="#000" stroke-width="2.4" stroke-linecap="butt"/>
<line x1="1922.2" y1="414" x2="1922.2" y2="424.5" stroke="#000" stroke-width="2.4" stroke-linecap="butt"/>
<line x1="1813.5" y1="414" x2="1813.5" y2="419.5" stroke="#000" stroke-width="2.0" stroke-linecap="butt"/>
<line x1="1825.9" y1="414" x2="1825.9" y2="419.5" stroke="#000" stroke-width="2.0" stroke-linecap="butt"/>
<line x1="1834.7" y1="414" x2="1834.7" y2="419.5" stroke="#000" stroke-width="2.0" stroke-linecap="butt"/>
<line x1="1841.5" y1="414" x2="1841.5" y2="419.5" stroke="#000" stroke-width="2.0" stroke-linecap="butt"/>
<line x1="1847.1" y1="414" x2="1847.1" y2="419.5" stroke="#000" stroke-width="2.0" stroke-linecap="butt"/>
<line x1="1851.9" y1="414" x2="1851.9" y2="419.5" stroke="#000" stroke-width="2.0" stroke-linecap="butt"/>
<line x1="1856" y1="414" x2="1856" y2="419.5" stroke="#000" stroke-width="2.0" stroke-linecap="butt"/>
<line x1="1859.6" y1="414" x2="1859.6" y2="419.5" stroke="#000" stroke-width="2.0" stroke-linecap="butt"/>
<line x1="1880.7" y1="414" x2="1880.7" y2="419.5" stroke="#000" stroke-width="2.0" stroke-linecap="butt"/>
<line x1="1891.1" y1="414" x2="1891.1" y2="419.5" stroke="#000" stroke-width="2.0" stroke-linecap="butt"/>
<line x1="1898.6" y1="414" x2="1898.6" y2="419.5" stroke="#000" stroke-width="2.0" stroke-linecap="butt"/>
<line x1="1904.3" y1="414" x2="1904.3" y2="419.5" stroke="#000" stroke-width="2.0" stroke-linecap="butt"/>
<line x1="1909" y1="414" x2="1909" y2="419.5" stroke="#000" stroke-width="2.0" stroke-linecap="butt"/>
<line x1="1913" y1="414" x2="1913" y2="419.5" stroke="#000" stroke-width="2.0" stroke-linecap="butt"/>
<line x1="1916.4" y1="414" x2="1916.4" y2="419.5" stroke="#000" stroke-width="2.0" stroke-linecap="butt"/>
<line x1="1919.5" y1="414" x2="1919.5" y2="419.5" stroke="#000" stroke-width="2.0" stroke-linecap="butt"/>
<line x1="1940.1" y1="414" x2="1940.1" y2="419.5" stroke="#000" stroke-width="2.0" stroke-linecap="butt"/>
<line x1="1950.5" y1="414" x2="1950.5" y2="419.5" stroke="#000" stroke-width="2.0" stroke-linecap="butt"/>
<line x1="1958" y1="414" x2="1958" y2="419.5" stroke="#000" stroke-width="2.0" stroke-linecap="butt"/>
<line x1="1963.7" y1="414" x2="1963.7" y2="419.5" stroke="#000" stroke-width="2.0" stroke-linecap="butt"/>
<line x1="1968.4" y1="414" x2="1968.4" y2="419.5" stroke="#000" stroke-width="2.0" stroke-linecap="butt"/>
<line x1="1972.4" y1="414" x2="1972.4" y2="419.5" stroke="#000" stroke-width="2.0" stroke-linecap="butt"/>
<line x1="1975.8" y1="414" x2="1975.8" y2="419.5" stroke="#000" stroke-width="2.0" stroke-linecap="butt"/>
<line x1="1722.8" y1="414" x2="1722.8" y2="419.5" stroke="#000" stroke-width="2.0" stroke-linecap="butt"/>
<line x1="1707.5" y1="414" x2="1707.5" y2="419.5" stroke="#000" stroke-width="2.0" stroke-linecap="butt"/>
<line x1="1730.5" y1="414" x2="1730.5" y2="419.5" stroke="#000" stroke-width="2.0" stroke-linecap="butt"/>
<line x1="1699.8" y1="414" x2="1699.8" y2="419.5" stroke="#000" stroke-width="2.0" stroke-linecap="butt"/>
<line x1="1738.2" y1="414" x2="1738.2" y2="419.5" stroke="#000" stroke-width="2.0" stroke-linecap="butt"/>
<line x1="1692.2" y1="414" x2="1692.2" y2="419.5" stroke="#000" stroke-width="2.0" stroke-linecap="butt"/>
<line x1="1745.9" y1="414" x2="1745.9" y2="419.5" stroke="#000" stroke-width="2.0" stroke-linecap="butt"/>
<line x1="1684.6" y1="414" x2="1684.6" y2="419.5" stroke="#000" stroke-width="2.0" stroke-linecap="butt"/>
<line x1="1753.7" y1="414" x2="1753.7" y2="419.5" stroke="#000" stroke-width="2.0" stroke-linecap="butt"/>
<line x1="1676.9" y1="414" x2="1676.9" y2="419.5" stroke="#000" stroke-width="2.0" stroke-linecap="butt"/>
<line x1="1761.4" y1="414" x2="1761.4" y2="419.5" stroke="#000" stroke-width="2.0" stroke-linecap="butt"/>
<line x1="1669.3" y1="414" x2="1669.3" y2="419.5" stroke="#000" stroke-width="2.0" stroke-linecap="butt"/>
<line x1="1769.1" y1="414" x2="1769.1" y2="419.5" stroke="#000" stroke-width="2.0" stroke-linecap="butt"/>
<line x1="1661.7" y1="414" x2="1661.7" y2="419.5" stroke="#000" stroke-width="2.0" stroke-linecap="butt"/>
<line x1="1776.8" y1="414" x2="1776.8" y2="419.5" stroke="#000" stroke-width="2.0" stroke-linecap="butt"/>
<line x1="1654.1" y1="414" x2="1654.1" y2="419.5" stroke="#000" stroke-width="2.0" stroke-linecap="butt"/>
<line x1="1784.5" y1="414" x2="1784.5" y2="419.5" stroke="#000" stroke-width="2.0" stroke-linecap="butt"/>
<line x1="1646.4" y1="414" x2="1646.4" y2="419.5" stroke="#000" stroke-width="2.0" stroke-linecap="butt"/>
<line x1="1630.8" y1="414" x2="1630.8" y2="419.5" stroke="#000" stroke-width="2.0" stroke-linecap="butt"/>
<line x1="1626.1" y1="414" x2="1626.1" y2="419.5" stroke="#000" stroke-width="2.0" stroke-linecap="butt"/>
<line x1="1622.7" y1="414" x2="1622.7" y2="419.5" stroke="#000" stroke-width="2.0" stroke-linecap="butt"/>
<line x1="1620.1" y1="414" x2="1620.1" y2="419.5" stroke="#000" stroke-width="2.0" stroke-linecap="butt"/>
<line x1="1618" y1="414" x2="1618" y2="419.5" stroke="#000" stroke-width="2.0" stroke-linecap="butt"/>
<line x1="1616.2" y1="414" x2="1616.2" y2="419.5" stroke="#000" stroke-width="2.0" stroke-linecap="butt"/>
<line x1="1614.7" y1="414" x2="1614.7" y2="419.5" stroke="#000" stroke-width="2.0" stroke-linecap="butt"/>
<line x1="1613.3" y1="414" x2="1613.3" y2="419.5" stroke="#000" stroke-width="2.0" stroke-linecap="butt"/>
<line x1="1711.1" y1="414" x2="1711.1" y2="424.5" stroke="#000" stroke-width="1.6" stroke-linecap="butt"/>
<line x1="1713.1" y1="414" x2="1713.1" y2="424.5" stroke="#000" stroke-width="1.6" stroke-linecap="butt"/>
<line x1="1715.1" y1="414" x2="1715.1" y2="424.5" stroke="#000" stroke-width="1.6" stroke-linecap="butt"/>
<line x1="1717.1" y1="414" x2="1717.1" y2="424.5" stroke="#000" stroke-width="1.6" stroke-linecap="butt"/>
<line x1="1719.1" y1="414" x2="1719.1" y2="424.5" stroke="#000" stroke-width="1.6" stroke-linecap="butt"/>
<text x="1642.8" y="449" font-size="22" text-anchor="middle">&#8722;10<tspan dy="-9" font-size="14">3</tspan></text>
<text x="1796.2" y="449" font-size="22" text-anchor="middle">10<tspan dy="-9" font-size="14">3</tspan></text>
<text x="1866.8" y="449" font-size="22" text-anchor="middle">10<tspan dy="-9" font-size="14">4</tspan></text>
<text x="1926.2" y="449" font-size="22" text-anchor="middle">10<tspan dy="-9" font-size="14">5</tspan></text>
<text x="1715.1" y="449" font-size="22" text-anchor="middle">0</text>
<g clip-path="url(#cd1)"><g filter="url(#d1)">
<ellipse cx="230" cy="170" rx="320" ry="240" fill="url(#gg)" opacity="0.13"/>
<ellipse cx="220" cy="100" rx="160" ry="100" fill="url(#gg)" opacity="0.06"/>
<ellipse cx="185" cy="175" rx="110" ry="120" fill="url(#gg)" opacity="0.1" transform="rotate(-20 185 175)"/>
<ellipse cx="148" cy="282" rx="80" ry="185" fill="url(#gg)" opacity="0.36" transform="rotate(-10 148 282)"/>
<ellipse cx="238" cy="332" rx="150" ry="72" fill="url(#gf)" opacity="0.36" transform="rotate(-33 238 332)"/>
<ellipse cx="185" cy="225" rx="55" ry="70" fill="url(#gg)" opacity="0.22" transform="rotate(-10 185 225)"/>
<ellipse cx="225" cy="195" rx="85" ry="60" fill="url(#gg)" opacity="0.16" transform="rotate(-15 225 195)"/>
<ellipse cx="172" cy="300" rx="40" ry="60" fill="url(#gg)" opacity="0.22" transform="rotate(-10 172 300)"/>
<path d="M106 414L106 330L122 300L160 318L210 338L255 352L268 372L232 394L170 414Z" fill="#000" fill-opacity="0.27" filter="url(#bl8)"/>
<ellipse cx="121" cy="360" rx="30" ry="110" fill="url(#gg)" opacity="0.45"/>
<ellipse cx="150" cy="404" rx="70" ry="16" fill="url(#gg)" opacity="0.45" transform="rotate(-10 150 404)"/>
<ellipse cx="182" cy="382" rx="120" ry="30" fill="url(#gg)" opacity="0.34" transform="rotate(-22 182 382)"/>
<ellipse cx="185" cy="379" rx="60" ry="14" fill="url(#gg)" opacity="0.22" transform="rotate(-24 185 379)"/>
<ellipse cx="113" cy="402" rx="18" ry="22" fill="url(#gg)" opacity="0.95"/>
<ellipse cx="147" cy="395" rx="26" ry="12" fill="url(#gg)" opacity="0.9" transform="rotate(-5 147 395)"/>
</g></g>
<g clip-path="url(#cd2)"><g filter="url(#d2)">
<g clip-path="url(#cl2)">
<path d="M642 402L700 390L750 377L790 360L815 342L828 318L824 290L810 280L792 288L770 304L740 316L710 330L685 346L660 363L642 378Z" fill="#000" fill-opacity="0.18" filter="url(#bl6)"/>
<path d="M642 371L660 356L685 339L710 323L740 309L770 299L795 293L808 297L795 308L770 322L740 338L700 361L670 380L642 398Z" fill="#000" fill-opacity="0.27" filter="url(#bl1_5)"/>
<path d="M640 378L660 361L685 344L710 329L740 315L770 305L795 298" fill="none" stroke="url(#rg2)" stroke-width="15" stroke-opacity="0.55" stroke-linecap="round" stroke-linejoin="round" filter="url(#bl2_5)"/>
<path d="M640 376L660 359L685 342L710 326L740 312L770 302L792 296" fill="none" stroke="url(#rg2)" stroke-width="5.5" stroke-opacity="1" stroke-linecap="round" stroke-linejoin="round" filter="url(#bl1_2)"/>
</g>
</g></g>
<g clip-path="url(#cd3)"><g filter="url(#d3)">
<ellipse cx="1270" cy="240" rx="230" ry="215" fill="url(#gg)" opacity="0.15"/>
<path d="M1205 125L1270 122L1270 215L1205 220Z" fill="#000" fill-opacity="0.2" filter="url(#bl10)"/>
<rect x="1126" y="122" width="96" height="244" rx="25" fill="#000" fill-opacity="0.3" filter="url(#bl7)"/>
<ellipse cx="1174" cy="176" rx="75" ry="72" fill="url(#gg)" opacity="0.5"/>
<ellipse cx="1174" cy="176" rx="35" ry="35" fill="url(#gg)" opacity="0.55"/>
<ellipse cx="1174" cy="338" rx="62" ry="45" fill="url(#gg)" opacity="0.45"/>
<ellipse cx="1174" cy="340" rx="25" ry="20" fill="url(#gg)" opacity="0.3"/>
<rect x="1250" y="120" width="162" height="245" rx="25" fill="#000" fill-opacity="0.47" filter="url(#bl7)"/>
<ellipse cx="1303" cy="250" rx="32" ry="130" fill="url(#gf)" opacity="0.3"/>
<ellipse cx="1298" cy="312" rx="24" ry="45" fill="url(#gg)" opacity="0.45"/>
<ellipse cx="1352" cy="325" rx="30" ry="30" fill="url(#gg)" opacity="0.3"/>
<ellipse cx="1310" cy="190" rx="30" ry="45" fill="url(#gg)" opacity="0.25"/>
</g></g>
<g clip-path="url(#cd4)"><g filter="url(#d4)">
<rect x="1649" y="302" width="179" height="46" rx="22" fill="#000" fill-opacity="0.56" filter="url(#bl4)"/>
<ellipse cx="1775" cy="325" rx="75" ry="26" fill="url(#gg)" opacity="0.4"/>
<ellipse cx="1788" cy="325" rx="36" ry="16" fill="url(#gg)" opacity="0.5"/>
<ellipse cx="1790" cy="326" rx="16" ry="9" fill="url(#gg)" opacity="0.5"/>
<ellipse cx="1803" cy="128" rx="82" ry="40" fill="url(#gg)" opacity="0.17" transform="rotate(-45 1803 128)"/>
<ellipse cx="1818" cy="112" rx="34" ry="26" fill="url(#gg)" opacity="0.06" transform="rotate(-45 1818 112)"/>
<ellipse cx="1750" cy="215" rx="115" ry="150" fill="url(#gg)" opacity="0.035" transform="rotate(-30 1750 215)"/>
<ellipse cx="1745" cy="330" rx="130" ry="60" fill="url(#gg)" opacity="0.05"/>
</g></g>
<line x1="479.6" y1="42" x2="479.6" y2="352" stroke="#14147a" stroke-width="2.2" stroke-linecap="butt"/>
<rect x="105" y="38" width="376.6" height="375.5" fill="none" stroke="#000" stroke-width="2.2"/>
<rect x="598.6" y="38" width="377.4" height="375.5" fill="none" stroke="#000" stroke-width="2.2"/>
<rect x="1089.5" y="38" width="376.5" height="376" fill="none" stroke="#000" stroke-width="2.2"/>
<rect x="1571" y="38" width="376.6" height="376" fill="none" stroke="#000" stroke-width="2.2"/>
<path d="M147 378.5L148.3 405.4L162.4 413L251.4 402.5L302.3 377L333.9 333.3L319.2 267L262.7 231.6L223.2 257Z" stroke="#000" stroke-width="3.2" fill="none" stroke-linejoin="round"/>
<path d="M608.5 359.3L821 213.3L870.4 263.3L634.8 399.7Z" stroke="#000" stroke-width="3.2" fill="none" stroke-linejoin="miter"/>
<rect x="1248.2" y="228.2" width="161.9" height="150.3" fill="none" stroke="#000" stroke-width="3.2"/>
<path d="M1751.3 99.4L1795.9 71.5L1849.6 81.1L1858.6 126.6L1835.2 171.8L1812.8 186.4L1775.3 186.4L1751.8 146.3Z" stroke="#000" stroke-width="3.2" fill="none" stroke-linejoin="miter"/>
<text x="400.4" y="389.8" font-size="31.5" text-anchor="middle">41.1</text>
<text x="891.2" y="324.3" font-size="31.5" text-anchor="middle">97.2</text>
<text x="1415.6" y="408.2" font-size="31.5" text-anchor="middle">39.3</text>
<text x="1900.5" y="108.8" font-size="31.5" text-anchor="middle">3.18</text>
<line x1="445" y1="74.8" x2="616.2" y2="74.8" stroke="#231f20" stroke-width="4.2" stroke-linecap="butt"/>
<path d="M636.2 74.8L609.2 63.5L612.2 74.8L609.2 86.1Z" fill="#231f20"/>
<line x1="931" y1="74.8" x2="1102.5" y2="74.8" stroke="#231f20" stroke-width="4.2" stroke-linecap="butt"/>
<path d="M1122.5 74.8L1095.5 63.5L1098.5 74.8L1095.5 86.1Z" fill="#231f20"/>
<line x1="1421" y1="74.8" x2="1592.3" y2="74.8" stroke="#231f20" stroke-width="4.2" stroke-linecap="butt"/>
<path d="M1612.3 74.8L1585.3 63.5L1588.3 74.8L1585.3 86.1Z" fill="#231f20"/>
<line x1="101.7" y1="477.5" x2="131.4" y2="477.5" stroke="#231f20" stroke-width="4" stroke-linecap="butt"/>
<text x="144.5" y="491.8" font-size="34.5" text-anchor="start" fill="#231f20" letter-spacing="-1">FSC-A</text>
<line x1="250.8" y1="477.5" x2="378.3" y2="477.5" stroke="#231f20" stroke-width="4" stroke-linecap="butt"/>
<path d="M398.3 477.5L371.3 466.2L374.3 477.5L371.3 488.8Z" fill="#231f20"/>
<line x1="598.6" y1="478" x2="628.3" y2="478" stroke="#231f20" stroke-width="4" stroke-linecap="butt"/>
<text x="641.4" y="492.3" font-size="34.5" text-anchor="start" fill="#231f20" letter-spacing="-1">FSC-A</text>
<line x1="747.8" y1="478" x2="874.7" y2="478" stroke="#231f20" stroke-width="4" stroke-linecap="butt"/>
<path d="M894.7 478L867.7 466.7L870.7 478L867.7 489.3Z" fill="#231f20"/>
<line x1="1084.4" y1="478" x2="1114" y2="478" stroke="#231f20" stroke-width="4" stroke-linecap="butt"/>
<text x="1123" y="492.3" font-size="34.5" text-anchor="start" fill="#231f20" letter-spacing="-1">CD45-APCCy7</text>
<line x1="1353.3" y1="478" x2="1386.4" y2="478" stroke="#231f20" stroke-width="4" stroke-linecap="butt"/>
<path d="M1406.4 478L1379.4 466.7L1382.4 478L1379.4 489.3Z" fill="#231f20"/>
<line x1="1576" y1="478" x2="1605.8" y2="478" stroke="#231f20" stroke-width="4" stroke-linecap="butt"/>
<text x="1617" y="492.3" font-size="34.5" text-anchor="start" fill="#231f20" letter-spacing="-1">TCR&#946;-PerCP</text>
<line x1="1822.5" y1="478" x2="1869.7" y2="478" stroke="#231f20" stroke-width="4" stroke-linecap="butt"/>
<path d="M1889.7 478L1862.7 466.7L1865.7 478L1862.7 489.3Z" fill="#231f20"/>
<line x1="21.2" y1="94.5" x2="21.2" y2="274" stroke="#231f20" stroke-width="3.3" stroke-linecap="butt"/>
<path d="M21.2 79.5L12.6 100L21.2 97.5L29.8 100Z" fill="#231f20"/>
<line x1="21.2" y1="394" x2="21.2" y2="411" stroke="#231f20" stroke-width="3.3" stroke-linecap="butt"/>
<text transform="translate(33.9,331) rotate(-90)" font-size="34.5" letter-spacing="-1" text-anchor="middle" fill="#231f20">SSC-A</text>
<line x1="515.3" y1="94.5" x2="515.3" y2="274" stroke="#231f20" stroke-width="3.3" stroke-linecap="butt"/>
<path d="M515.3 79.5L506.7 100L515.3 97.5L523.9 100Z" fill="#231f20"/>
<line x1="515.3" y1="391" x2="515.3" y2="411" stroke="#231f20" stroke-width="3.3" stroke-linecap="butt"/>
<text transform="translate(528,331) rotate(-90)" font-size="34.5" letter-spacing="-1" text-anchor="middle" fill="#231f20">FSC-H</text>
<line x1="1011" y1="94.5" x2="1011" y2="121.5" stroke="#231f20" stroke-width="3.3" stroke-linecap="butt"/>
<path d="M1011 79.5L1002.4 100L1011 97.5L1019.6 100Z" fill="#231f20"/>
<line x1="1011" y1="390" x2="1011" y2="411" stroke="#231f20" stroke-width="3.3" stroke-linecap="butt"/>
<text transform="translate(1023.7,255.5) rotate(-90)" font-size="34.5" letter-spacing="-1" text-anchor="middle" fill="#231f20">Viability&#8211;Amcyan</text>
<line x1="1496.5" y1="94.5" x2="1496.5" y2="255.6" stroke="#231f20" stroke-width="3.3" stroke-linecap="butt"/>
<path d="M1496.5 79.5L1487.9 100L1496.5 97.5L1505.1 100Z" fill="#231f20"/>
<line x1="1496.5" y1="391" x2="1496.5" y2="411" stroke="#231f20" stroke-width="3.3" stroke-linecap="butt"/>
<text transform="translate(1509.2,321.3) rotate(-90)" font-size="34.5" letter-spacing="-1" text-anchor="middle" fill="#231f20">CD4-PE</text>
</svg>
</body></html>
